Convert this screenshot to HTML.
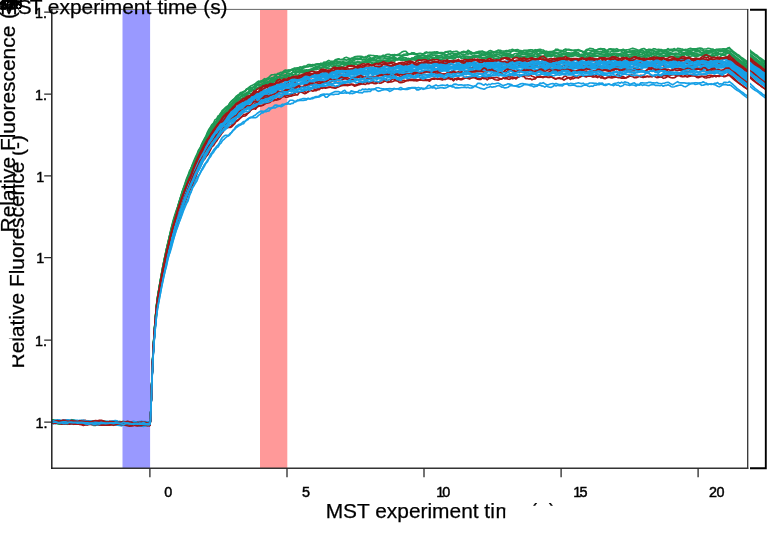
<!DOCTYPE html>
<html lang="en">
<head>
<meta charset="utf-8">
<title>MST traces</title>
<style>
html,body{margin:0;padding:0;background:#fff;}
body{width:768px;height:534px;overflow:hidden;}
svg{display:block;font-family:"Liberation Sans",sans-serif;}
.lbl{font-size:20.9px;fill:#000;stroke:#000;stroke-width:0.25px;}
.tick{font-size:14.4px;fill:#000;stroke:#000;stroke-width:0.45px;}
.c path{fill:none;stroke-width:1.65;stroke-linejoin:round;stroke-linecap:round;}
</style>
</head>
<body>
<svg width="768" height="534" viewBox="0 0 768 534">
<defs>
<clipPath id="cpMain"><rect x="52" y="9.5" width="695.5" height="458.5"/></clipPath>
<clipPath id="cpSeg"><rect x="750" y="9.5" width="15.3" height="458.5"/></clipPath>
<clipPath id="cpYl"><path d="M12.4 0H52V534H12.4V338.6H0V262H12.4Z"/></clipPath>
<clipPath id="cpXl"><path d="M0 490H768V505.8H505.3V534H0Z"/></clipPath>
<g id="curves" class="c">
<path d="M51.5,421.4 53.5,421.8 55.5,422.4 57.5,422.7 59.5,422.5 61.5,422.2 63.5,422.5 65.5,422.8 67.5,422.4 69.5,422.3 71.5,422.5 73.5,422.4 75.5,422.3 77.5,421.5 79.5,421.5 81.5,421.1 83.5,421.7 85.5,421.8 87.5,422.5 89.5,422.7 91.5,423.1 93.5,422.2 95.5,422.0 97.5,422.1 99.5,423.0 101.5,422.7 103.5,422.6 105.5,422.3 107.5,422.6 109.5,423.2 111.5,423.3 113.5,423.6 115.5,423.5 117.5,423.7 119.5,423.7 121.5,423.4 123.5,423.7 125.5,423.4 127.5,423.4 129.5,423.9 131.5,423.8 133.5,424.1 135.5,423.7 137.5,424.1 139.5,424.5 141.5,424.8 143.5,424.6 145.5,424.0 147.5,424.0 148.0,424.3 148.5,424.6 149.0,424.4 149.5,424.7 150.0,424.5 150.5,419.2 151.0,406.5 151.5,390.7 152.0,376.3 152.5,362.8 153.0,352.3 153.5,343.3 154.0,335.7 154.5,328.9 155.0,322.3 155.5,316.2 156.0,310.4 156.5,305.1 157.0,300.8 157.5,297.0 158.0,294.3 158.5,291.5 159.0,288.4 159.5,285.2 160.0,282.1 160.5,279.5 161.0,276.6 161.5,273.8 162.0,271.0 162.5,268.3 163.0,265.7 163.5,262.9 164.0,260.4 164.5,257.9 165.0,255.9 165.5,253.7 166.0,251.5 166.5,249.1 167.0,246.6 167.5,244.7 168.0,242.4 168.5,240.4 169.0,237.8 169.5,235.8 170.0,233.2 171.5,227.0 173.0,221.1 174.5,215.9 176.0,211.3 177.5,207.1 179.0,202.3 180.5,197.4 182.0,192.1 183.5,188.3 185.0,184.3 186.5,180.0 188.0,176.1 189.5,172.6 191.0,168.5 192.5,164.4 194.0,160.6 195.5,157.2 197.0,154.0 198.5,150.3 200.0,148.1 201.5,145.0 203.0,142.4 204.5,138.8 206.0,135.8 207.5,132.1 209.0,129.2 210.5,127.0 212.0,124.5 213.5,123.1 215.0,119.8 216.5,119.1 218.0,116.1 219.5,115.4 221.0,113.2 222.5,111.0 224.0,109.4 225.5,108.4 227.0,107.4 228.5,105.1 230.0,102.8 231.5,100.9 233.0,100.2 234.5,98.6 236.0,97.8 237.5,95.6 239.0,94.3 240.5,92.5 242.0,92.4 243.5,91.5 245.0,91.5 246.5,89.9 248.0,88.6 249.5,87.0 251.0,85.8 252.5,85.3 254.0,84.4 255.5,83.6 257.0,82.1 258.5,81.1 260.0,81.3 261.5,80.9 263.0,80.0 264.5,78.7 266.0,79.0 267.5,78.1 269.0,77.2 270.5,75.6 272.0,74.8 273.5,74.7 275.0,74.4 276.5,74.7 278.0,73.4 279.5,73.1 281.0,72.3 282.5,72.1 284.0,70.8 285.5,70.0 287.0,70.3 288.5,70.1 290.0,70.4 291.5,69.3 293.0,68.9 294.5,68.1 296.0,68.0 297.5,67.7 299.0,67.5 300.0,66.9 301.6,67.3 303.2,67.3 304.8,67.1 306.4,65.9 308.0,64.5 309.6,64.5 311.2,64.9 312.8,65.2 314.4,64.6 316.0,64.2 317.6,64.4 319.2,64.3 320.8,63.4 322.4,63.5 324.0,62.1 325.6,62.5 327.2,61.7 328.8,62.5 330.4,62.8 332.0,63.0 333.6,61.8 335.2,59.8 336.8,59.2 338.4,59.1 340.0,59.7 341.6,59.5 343.2,59.0 344.8,57.7 346.4,57.3 348.0,57.9 349.6,58.6 351.2,58.3 352.8,57.7 354.4,56.9 356.0,56.6 357.6,56.4 359.2,56.2 360.8,56.3 362.4,56.6 364.0,57.5 365.6,56.6 367.2,56.2 368.8,55.3 370.4,55.2 372.0,55.5 373.6,55.5 375.2,56.0 376.8,55.9 378.4,57.2 380.0,56.2 381.6,56.3 383.2,55.2 384.8,55.7 386.4,54.5 388.0,54.2 389.6,54.4 391.2,55.0 392.8,55.2 394.4,54.5 396.0,55.1 397.6,54.9 399.2,53.9 400.8,52.9 402.4,51.8 404.0,51.2 405.6,51.2 407.2,52.7 408.8,54.3 410.4,53.9 412.0,52.7 413.6,53.1 415.2,53.7 416.8,54.1 418.4,53.5 420.0,53.3 421.6,53.6 423.2,53.8 424.8,53.9 426.4,52.9 428.0,52.8 429.6,52.3 431.2,53.3 432.8,52.3 434.4,52.5 436.0,51.9 437.6,51.9 439.2,52.7 440.8,53.4 442.4,53.7 444.0,53.2 445.6,52.6 447.2,51.5 448.8,51.2 450.4,51.0 452.0,52.2 453.6,51.5 455.2,51.4 456.8,51.2 458.4,52.3 460.0,52.5 461.6,52.6 463.2,52.7 464.8,52.2 466.4,52.0 468.0,50.3 469.6,51.3 471.2,51.9 472.8,53.2 474.4,52.7 476.0,52.3 477.6,51.9 479.2,51.4 480.8,51.2 482.4,51.1 484.0,51.9 485.6,52.3 487.2,52.2 488.8,51.1 490.4,50.5 492.0,51.3 493.6,51.8 495.2,52.1 496.8,51.1 498.4,50.3 500.0,50.2 501.6,50.8 503.2,51.1 504.8,51.0 506.4,50.5 508.0,50.7 509.6,50.0 511.2,49.9 512.8,49.4 514.4,50.6 516.0,50.4 517.6,51.0 519.2,51.3 520.8,51.5 522.4,50.9 524.0,50.3 525.6,50.4 527.2,50.2 528.8,50.3 530.4,51.3 532.0,51.6 533.6,51.2 535.2,49.7 536.8,50.0 538.4,49.5 540.0,49.4 541.6,49.9 543.2,50.0 544.8,51.1 546.4,51.2 548.0,51.7 549.6,51.5 551.2,51.6 552.8,51.4 554.4,50.8 556.0,49.2 557.6,49.3 559.2,50.3 560.8,51.4 562.4,50.9 564.0,49.8 565.6,49.0 567.2,49.6 568.8,49.9 570.4,50.3 572.0,50.3 573.6,50.2 575.2,50.1 576.8,50.0 578.4,50.1 580.0,50.3 581.6,51.2 583.2,51.5 584.8,51.2 586.4,49.5 588.0,49.4 589.6,48.4 591.2,48.5 592.8,48.7 594.4,50.0 596.0,50.6 597.6,49.3 599.2,48.8 600.8,48.5 602.4,49.7 604.0,51.0 605.6,51.4 607.2,50.7 608.8,49.0 610.4,48.8 612.0,49.1 613.6,49.1 615.2,49.2 616.8,48.7 618.4,49.8 620.0,50.3 621.6,51.4 623.2,50.6 624.8,50.3 626.4,49.7 628.0,49.7 629.6,49.3 631.2,48.7 632.8,48.2 634.4,48.7 636.0,49.3 637.6,50.1 639.2,50.2 640.8,49.4 642.4,48.9 644.0,48.5 645.6,49.5 647.2,49.7 648.8,50.1 650.4,50.0 652.0,49.6 653.6,48.7 655.2,48.9 656.8,49.8 658.4,49.3 660.0,49.5 661.6,49.6 663.2,51.2 664.8,50.3 666.4,49.9 668.0,48.6 669.6,50.1 671.2,50.1 672.8,51.4 674.4,49.9 676.0,50.0 677.6,48.4 679.2,48.6 680.8,48.9 682.4,49.1 684.0,49.9 685.6,49.5 687.2,49.6 688.8,48.8 690.4,48.4 692.0,48.9 693.6,48.9 695.2,48.7 696.8,48.6 698.4,48.3 700.0,48.1 701.6,48.2 703.2,49.2 704.8,49.0 706.4,49.0 708.0,48.3 709.6,48.5 711.2,49.0 712.8,49.0 714.4,50.2 716.0,49.4 717.6,49.9 719.2,49.0 720.8,49.0 722.4,48.9 724.0,48.7 725.6,49.0 727.2,48.4 728.8,47.9 729.2,47.5 731.0,49.3 733.0,51.2 735.0,52.6 737.0,54.2 739.0,55.3 741.0,57.1 743.0,58.5 745.0,60.0 747.0,61.5" stroke="#1f9a55"/>
<path d="M51.5,421.7 53.5,421.8 55.5,421.8 57.5,422.3 59.5,421.8 61.5,421.7 63.5,420.9 65.5,421.9 67.5,422.3 69.5,423.0 71.5,422.4 73.5,422.6 75.5,422.6 77.5,423.3 79.5,422.9 81.5,422.4 83.5,421.5 85.5,421.4 87.5,422.2 89.5,422.9 91.5,423.1 93.5,422.4 95.5,422.0 97.5,422.9 99.5,422.4 101.5,422.8 103.5,421.9 105.5,423.3 107.5,422.8 109.5,423.1 111.5,422.3 113.5,422.4 115.5,423.0 117.5,423.8 119.5,424.1 121.5,423.3 123.5,422.4 125.5,422.5 127.5,422.8 129.5,423.5 131.5,423.6 133.5,423.3 135.5,423.3 137.5,423.4 139.5,424.2 141.5,424.9 143.5,425.0 145.5,424.3 147.5,423.7 148.0,423.5 148.5,423.5 149.0,423.5 149.5,423.4 150.0,424.0 150.5,418.8 151.0,406.5 151.5,390.9 152.0,376.3 152.5,362.9 153.0,352.4 153.5,343.5 154.0,335.8 154.5,328.8 155.0,322.3 155.5,316.3 156.0,310.5 156.5,305.4 157.0,300.9 157.5,297.2 158.0,294.1 158.5,291.2 159.0,288.5 159.5,285.4 160.0,282.4 160.5,279.4 161.0,276.6 161.5,273.8 162.0,271.2 162.5,268.4 163.0,265.9 163.5,263.4 164.0,261.1 164.5,258.5 165.0,256.2 165.5,253.5 166.0,251.3 166.5,249.0 167.0,247.2 167.5,244.9 168.0,242.6 168.5,240.3 169.0,238.3 169.5,236.5 170.0,234.6 171.5,228.1 173.0,222.5 174.5,217.3 176.0,212.9 177.5,207.9 179.0,202.1 180.5,197.5 182.0,192.8 183.5,188.0 185.0,183.6 186.5,178.8 188.0,175.4 189.5,171.0 191.0,168.6 192.5,165.4 194.0,162.3 195.5,159.1 197.0,156.7 198.5,153.2 200.0,149.1 201.5,144.6 203.0,141.3 204.5,138.8 206.0,136.8 207.5,134.5 209.0,132.2 210.5,129.1 212.0,126.6 213.5,124.1 215.0,122.6 216.5,121.0 218.0,118.7 219.5,116.3 221.0,114.0 222.5,111.5 224.0,109.1 225.5,107.5 227.0,106.3 228.5,105.7 230.0,103.0 231.5,101.4 233.0,99.6 234.5,98.6 236.0,96.4 237.5,95.3 239.0,94.9 240.5,95.0 242.0,93.7 243.5,92.2 245.0,91.3 246.5,89.2 248.0,88.2 249.5,87.1 251.0,87.9 252.5,87.8 254.0,87.3 255.5,86.2 257.0,84.7 258.5,83.7 260.0,82.6 261.5,81.6 263.0,81.0 264.5,81.5 266.0,80.7 267.5,79.6 269.0,78.1 270.5,78.2 272.0,77.6 273.5,77.6 275.0,75.9 276.5,75.2 278.0,73.9 279.5,74.2 281.0,74.3 282.5,73.1 284.0,71.8 285.5,71.0 287.0,70.9 288.5,70.2 290.0,70.1 291.5,70.2 293.0,70.8 294.5,69.6 296.0,69.5 297.5,68.7 299.0,69.1 300.0,67.9 301.6,67.2 303.2,66.4 304.8,66.1 306.4,66.5 308.0,66.2 309.6,65.7 311.2,65.1 312.8,64.5 314.4,65.0 316.0,64.4 317.6,64.0 319.2,63.9 320.8,65.0 322.4,65.9 324.0,65.1 325.6,63.8 327.2,63.3 328.8,63.0 330.4,62.2 332.0,61.2 333.6,61.3 335.2,61.1 336.8,60.0 338.4,58.9 340.0,59.4 341.6,59.6 343.2,60.0 344.8,59.6 346.4,60.1 348.0,59.8 349.6,59.8 351.2,58.8 352.8,58.6 354.4,57.7 356.0,58.5 357.6,58.5 359.2,58.5 360.8,57.6 362.4,57.4 364.0,57.9 365.6,57.2 367.2,56.6 368.8,55.9 370.4,57.8 372.0,58.7 373.6,58.7 375.2,57.6 376.8,58.0 378.4,57.9 380.0,57.2 381.6,56.7 383.2,56.9 384.8,57.3 386.4,56.3 388.0,56.9 389.6,57.3 391.2,57.7 392.8,57.0 394.4,55.1 396.0,55.0 397.6,54.5 399.2,55.6 400.8,55.5 402.4,55.4 404.0,54.2 405.6,54.0 407.2,53.7 408.8,54.3 410.4,53.7 412.0,53.9 413.6,52.8 415.2,53.6 416.8,53.8 418.4,55.4 420.0,55.7 421.6,55.6 423.2,54.1 424.8,52.6 426.4,51.9 428.0,52.5 429.6,52.9 431.2,52.4 432.8,52.8 434.4,51.9 436.0,53.0 437.6,52.7 439.2,53.3 440.8,53.0 442.4,52.8 444.0,52.5 445.6,51.7 447.2,51.9 448.8,53.1 450.4,54.8 452.0,55.4 453.6,54.8 455.2,53.5 456.8,53.5 458.4,53.1 460.0,53.3 461.6,52.4 463.2,52.4 464.8,52.2 466.4,52.3 468.0,51.7 469.6,51.6 471.2,52.8 472.8,53.2 474.4,53.3 476.0,52.4 477.6,52.7 479.2,52.2 480.8,51.8 482.4,51.9 484.0,52.6 485.6,52.7 487.2,53.0 488.8,52.5 490.4,52.4 492.0,51.4 493.6,52.4 495.2,51.4 496.8,51.3 498.4,50.3 500.0,51.5 501.6,52.1 503.2,53.0 504.8,51.9 506.4,51.9 508.0,51.1 509.6,51.5 511.2,51.4 512.8,51.1 514.4,50.3 516.0,49.9 517.6,49.6 519.2,50.2 520.8,50.6 522.4,51.4 524.0,52.5 525.6,52.2 527.2,51.3 528.8,50.1 530.4,49.7 532.0,49.9 533.6,50.4 535.2,50.6 536.8,50.2 538.4,50.3 540.0,50.5 541.6,51.7 543.2,51.3 544.8,51.7 546.4,51.5 548.0,52.1 549.6,51.9 551.2,52.1 552.8,51.7 554.4,50.7 556.0,50.4 557.6,50.1 559.2,50.9 560.8,50.3 562.4,51.2 564.0,51.2 565.6,51.2 567.2,49.6 568.8,49.4 570.4,49.9 572.0,50.4 573.6,50.5 575.2,50.3 576.8,50.9 578.4,50.5 580.0,50.7 581.6,50.9 583.2,52.5 584.8,52.0 586.4,51.3 588.0,49.6 589.6,50.5 591.2,50.2 592.8,50.3 594.4,49.9 596.0,50.0 597.6,49.7 599.2,49.5 600.8,49.0 602.4,48.7 604.0,48.7 605.6,49.8 607.2,50.4 608.8,49.8 610.4,49.4 612.0,49.9 613.6,51.0 615.2,51.2 616.8,50.4 618.4,50.4 620.0,50.2 621.6,50.0 623.2,49.3 624.8,50.3 626.4,51.0 628.0,51.9 629.6,51.0 631.2,51.3 632.8,50.4 634.4,50.6 636.0,51.3 637.6,52.0 639.2,51.8 640.8,50.6 642.4,50.3 644.0,51.2 645.6,51.0 647.2,49.9 648.8,49.2 650.4,49.4 652.0,50.3 653.6,51.1 655.2,51.2 656.8,51.6 658.4,50.4 660.0,50.7 661.6,51.3 663.2,52.2 664.8,51.9 666.4,50.9 668.0,51.4 669.6,50.8 671.2,50.7 672.8,50.0 674.4,50.8 676.0,50.7 677.6,50.6 679.2,50.1 680.8,50.3 682.4,50.1 684.0,49.7 685.6,49.6 687.2,50.1 688.8,50.2 690.4,50.1 692.0,50.0 693.6,49.9 695.2,50.1 696.8,49.2 698.4,50.3 700.0,51.4 701.6,52.9 703.2,52.2 704.8,51.4 706.4,50.5 708.0,50.6 709.6,51.0 711.2,50.3 712.8,50.8 714.4,50.0 716.0,51.3 717.6,50.9 719.2,50.6 720.8,50.0 722.4,50.1 724.0,50.1 725.6,49.9 727.2,49.1 728.8,47.9 729.2,48.0 731.0,50.2 733.0,52.2 735.0,53.6 737.0,55.2 739.0,56.7 741.0,58.1 743.0,59.4 745.0,61.3 747.0,62.7" stroke="#1f9a55"/>
<path d="M51.5,420.9 53.5,421.8 55.5,421.8 57.5,421.7 59.5,421.5 61.5,421.5 63.5,421.5 65.5,421.3 67.5,421.4 69.5,421.1 71.5,421.2 73.5,421.5 75.5,421.5 77.5,421.3 79.5,421.8 81.5,422.1 83.5,422.6 85.5,422.6 87.5,422.8 89.5,423.3 91.5,422.7 93.5,422.8 95.5,421.9 97.5,422.9 99.5,423.2 101.5,422.7 103.5,421.8 105.5,421.5 107.5,422.4 109.5,423.1 111.5,422.9 113.5,422.8 115.5,422.8 117.5,422.8 119.5,423.1 121.5,422.1 123.5,422.4 125.5,421.7 127.5,422.9 129.5,422.6 131.5,422.7 133.5,422.6 135.5,422.4 137.5,422.4 139.5,421.8 141.5,422.1 143.5,422.6 145.5,423.6 147.5,423.6 148.0,423.8 148.5,423.4 149.0,423.5 149.5,423.3 150.0,423.4 150.5,418.6 151.0,406.2 151.5,390.7 152.0,376.3 152.5,363.1 153.0,352.8 153.5,343.9 154.0,336.2 154.5,328.9 155.0,322.6 155.5,316.7 156.0,311.1 156.5,306.2 157.0,301.8 157.5,298.5 158.0,295.1 158.5,292.0 159.0,288.7 159.5,285.6 160.0,282.8 160.5,280.0 161.0,277.1 161.5,274.0 162.0,271.3 162.5,268.3 163.0,266.0 163.5,263.4 164.0,261.1 164.5,258.6 165.0,256.4 165.5,253.9 166.0,251.2 166.5,248.7 167.0,246.3 167.5,244.2 168.0,242.6 168.5,240.7 169.0,239.0 169.5,236.2 170.0,234.5 171.5,228.3 173.0,223.0 174.5,217.7 176.0,213.2 177.5,208.3 179.0,203.4 180.5,197.8 182.0,193.4 183.5,188.9 185.0,185.5 186.5,181.2 188.0,178.1 189.5,173.0 191.0,169.1 192.5,165.1 194.0,162.3 195.5,158.6 197.0,154.7 198.5,151.0 200.0,148.2 201.5,146.5 203.0,144.8 204.5,141.3 206.0,136.9 207.5,133.4 209.0,131.9 210.5,129.4 212.0,126.8 213.5,124.4 215.0,123.0 216.5,121.0 218.0,118.0 219.5,114.8 221.0,112.7 222.5,110.3 224.0,109.7 225.5,108.0 227.0,107.7 228.5,106.7 230.0,106.1 231.5,103.8 233.0,101.9 234.5,100.6 236.0,99.5 237.5,97.3 239.0,95.5 240.5,93.9 242.0,93.9 243.5,91.7 245.0,90.9 246.5,89.0 248.0,89.1 249.5,88.7 251.0,88.1 252.5,87.2 254.0,86.8 255.5,84.7 257.0,84.0 258.5,82.3 260.0,82.6 261.5,82.0 263.0,81.2 264.5,80.1 266.0,79.7 267.5,79.6 269.0,79.0 270.5,78.9 272.0,79.3 273.5,78.3 275.0,76.9 276.5,76.4 278.0,77.0 279.5,76.4 281.0,74.5 282.5,73.4 284.0,72.7 285.5,72.0 287.0,72.2 288.5,71.6 290.0,71.2 291.5,69.8 293.0,69.6 294.5,69.0 296.0,69.1 297.5,69.2 299.0,69.4 300.0,69.5 301.6,68.8 303.2,68.3 304.8,67.6 306.4,66.9 308.0,66.9 309.6,66.1 311.2,66.6 312.8,65.9 314.4,65.7 316.0,64.5 317.6,63.9 319.2,64.0 320.8,63.6 322.4,64.2 324.0,63.5 325.6,62.5 327.2,61.3 328.8,60.4 330.4,61.3 332.0,61.9 333.6,63.0 335.2,62.1 336.8,61.0 338.4,61.3 340.0,61.9 341.6,62.1 343.2,61.5 344.8,62.4 346.4,62.8 348.0,62.1 349.6,60.9 351.2,60.4 352.8,59.9 354.4,59.0 356.0,58.5 357.6,58.2 359.2,58.5 360.8,58.4 362.4,59.9 364.0,59.3 365.6,59.1 367.2,57.7 368.8,58.2 370.4,58.6 372.0,58.3 373.6,57.6 375.2,56.1 376.8,55.8 378.4,56.3 380.0,57.0 381.6,56.8 383.2,56.3 384.8,56.1 386.4,56.8 388.0,56.6 389.6,56.3 391.2,55.1 392.8,54.7 394.4,55.5 396.0,55.2 397.6,55.5 399.2,54.7 400.8,55.5 402.4,55.2 404.0,55.0 405.6,55.1 407.2,55.3 408.8,54.4 410.4,54.2 412.0,53.8 413.6,54.3 415.2,54.4 416.8,55.1 418.4,55.7 420.0,55.3 421.6,55.4 423.2,55.4 424.8,56.2 426.4,56.3 428.0,55.6 429.6,54.9 431.2,54.6 432.8,53.9 434.4,54.0 436.0,53.3 437.6,53.7 439.2,52.7 440.8,52.5 442.4,52.6 444.0,53.8 445.6,54.7 447.2,54.6 448.8,54.0 450.4,53.1 452.0,53.3 453.6,53.2 455.2,53.9 456.8,54.5 458.4,54.5 460.0,53.5 461.6,52.1 463.2,51.4 464.8,51.5 466.4,52.5 468.0,53.3 469.6,53.1 471.2,52.7 472.8,53.2 474.4,53.8 476.0,53.1 477.6,52.2 479.2,52.5 480.8,53.1 482.4,53.8 484.0,54.3 485.6,54.5 487.2,54.6 488.8,54.3 490.4,52.9 492.0,52.1 493.6,51.9 495.2,52.5 496.8,52.9 498.4,52.6 500.0,52.3 501.6,52.5 503.2,53.0 504.8,53.5 506.4,53.3 508.0,53.4 509.6,53.5 511.2,51.8 512.8,50.9 514.4,50.5 516.0,51.2 517.6,51.6 519.2,52.4 520.8,52.6 522.4,51.9 524.0,52.3 525.6,52.3 527.2,52.2 528.8,51.3 530.4,51.7 532.0,52.0 533.6,52.2 535.2,51.8 536.8,51.6 538.4,51.3 540.0,51.9 541.6,52.0 543.2,52.1 544.8,51.7 546.4,53.3 548.0,52.8 549.6,53.5 551.2,52.1 552.8,52.4 554.4,52.0 556.0,52.5 557.6,53.1 559.2,52.9 560.8,52.2 562.4,51.3 564.0,51.4 565.6,51.9 567.2,52.9 568.8,52.8 570.4,53.0 572.0,53.1 573.6,52.9 575.2,51.7 576.8,50.3 578.4,49.5 580.0,51.0 581.6,51.2 583.2,52.5 584.8,52.0 586.4,53.2 588.0,53.1 589.6,52.8 591.2,51.8 592.8,51.3 594.4,51.5 596.0,51.3 597.6,51.2 599.2,51.9 600.8,51.3 602.4,51.5 604.0,50.2 605.6,51.1 607.2,51.4 608.8,51.8 610.4,52.1 612.0,50.9 613.6,51.5 615.2,50.8 616.8,51.8 618.4,51.4 620.0,50.4 621.6,49.7 623.2,49.7 624.8,51.7 626.4,52.3 628.0,52.3 629.6,50.8 631.2,51.3 632.8,52.1 634.4,52.8 636.0,52.0 637.6,50.3 639.2,50.7 640.8,52.1 642.4,53.3 644.0,53.4 645.6,52.4 647.2,51.5 648.8,51.6 650.4,50.7 652.0,51.1 653.6,50.5 655.2,51.6 656.8,51.9 658.4,51.9 660.0,51.1 661.6,50.2 663.2,50.1 664.8,50.1 666.4,50.1 668.0,49.4 669.6,49.5 671.2,49.2 672.8,49.2 674.4,48.6 676.0,49.6 677.6,50.5 679.2,52.3 680.8,51.4 682.4,50.9 684.0,50.3 685.6,51.0 687.2,51.1 688.8,51.5 690.4,51.4 692.0,51.0 693.6,49.5 695.2,49.9 696.8,50.6 698.4,50.5 700.0,49.9 701.6,50.0 703.2,50.9 704.8,51.1 706.4,51.1 708.0,51.1 709.6,50.6 711.2,50.1 712.8,50.0 714.4,50.6 716.0,49.7 717.6,49.3 719.2,50.0 720.8,51.8 722.4,50.7 724.0,51.3 725.6,49.7 727.2,51.0 728.8,50.1 729.2,51.2 731.0,51.4 733.0,52.6 735.0,54.1 737.0,55.5 739.0,56.8 741.0,58.7 743.0,60.5 745.0,62.9 747.0,63.8" stroke="#1f9a55"/>
<path d="M51.5,419.8 53.5,419.9 55.5,420.4 57.5,420.9 59.5,420.9 61.5,421.9 63.5,422.5 65.5,422.5 67.5,422.3 69.5,421.7 71.5,421.6 73.5,421.5 75.5,421.4 77.5,421.5 79.5,420.8 81.5,421.3 83.5,422.0 85.5,422.2 87.5,422.3 89.5,421.4 91.5,421.4 93.5,420.9 95.5,421.7 97.5,423.0 99.5,423.6 101.5,422.9 103.5,422.4 105.5,422.1 107.5,422.7 109.5,422.6 111.5,422.9 113.5,422.8 115.5,422.6 117.5,422.4 119.5,421.6 121.5,421.7 123.5,421.4 125.5,422.0 127.5,421.8 129.5,422.4 131.5,422.7 133.5,422.5 135.5,422.3 137.5,421.8 139.5,422.6 141.5,423.5 143.5,424.2 145.5,423.8 147.5,423.8 148.0,423.0 148.5,423.6 149.0,422.9 149.5,422.5 150.0,423.1 150.5,418.7 151.0,406.7 151.5,391.1 152.0,376.5 152.5,363.6 153.0,352.9 153.5,344.0 154.0,336.3 154.5,329.5 155.0,323.4 155.5,317.5 156.0,312.2 156.5,306.8 157.0,302.4 157.5,298.1 158.0,294.9 158.5,292.1 159.0,289.3 159.5,286.6 160.0,283.4 160.5,280.6 161.0,277.6 161.5,274.8 162.0,272.2 162.5,269.7 163.0,267.3 163.5,264.8 164.0,262.0 164.5,259.5 165.0,257.2 165.5,255.2 166.0,253.4 166.5,251.3 167.0,248.9 167.5,246.1 168.0,243.6 168.5,241.3 169.0,239.0 169.5,237.0 170.0,235.1 171.5,229.7 173.0,224.1 174.5,218.8 176.0,213.0 177.5,208.7 179.0,204.1 180.5,200.6 182.0,195.9 183.5,192.1 185.0,187.1 186.5,183.0 188.0,179.7 189.5,175.5 191.0,172.0 192.5,167.9 194.0,165.2 195.5,161.5 197.0,158.0 198.5,154.2 200.0,150.9 201.5,146.8 203.0,143.8 204.5,140.4 206.0,138.0 207.5,135.8 209.0,133.7 210.5,130.6 212.0,129.1 213.5,127.1 215.0,126.0 216.5,122.7 218.0,120.0 219.5,117.9 221.0,116.4 222.5,113.8 224.0,112.1 225.5,111.7 227.0,110.0 228.5,108.5 230.0,105.7 231.5,105.2 233.0,103.9 234.5,101.8 236.0,100.7 237.5,99.4 239.0,98.7 240.5,97.3 242.0,95.5 243.5,94.2 245.0,94.2 246.5,92.6 248.0,92.3 249.5,89.9 251.0,89.8 252.5,88.4 254.0,86.9 255.5,85.7 257.0,84.4 258.5,84.7 260.0,84.7 261.5,83.9 263.0,82.9 264.5,82.1 266.0,82.0 267.5,82.7 269.0,81.5 270.5,80.4 272.0,78.9 273.5,78.8 275.0,79.1 276.5,78.6 278.0,77.5 279.5,76.4 281.0,75.6 282.5,76.0 284.0,75.6 285.5,74.8 287.0,73.2 288.5,73.1 290.0,73.5 291.5,73.3 293.0,72.1 294.5,71.4 296.0,70.2 297.5,69.5 299.0,69.5 300.0,69.9 301.6,70.4 303.2,70.2 304.8,70.4 306.4,69.9 308.0,70.0 309.6,69.6 311.2,69.1 312.8,68.1 314.4,67.6 316.0,67.1 317.6,66.4 319.2,65.9 320.8,65.0 322.4,64.6 324.0,64.3 325.6,64.8 327.2,63.8 328.8,63.5 330.4,63.4 332.0,64.1 333.6,63.4 335.2,63.6 336.8,62.7 338.4,62.9 340.0,63.0 341.6,63.1 343.2,62.7 344.8,62.4 346.4,62.4 348.0,62.3 349.6,61.7 351.2,62.2 352.8,61.1 354.4,60.4 356.0,59.2 357.6,59.6 359.2,59.4 360.8,59.3 362.4,59.9 364.0,59.7 365.6,60.0 367.2,59.9 368.8,59.9 370.4,59.7 372.0,60.2 373.6,60.6 375.2,60.1 376.8,59.1 378.4,58.4 380.0,58.7 381.6,59.0 383.2,59.0 384.8,58.6 386.4,58.6 388.0,58.7 389.6,58.8 391.2,57.6 392.8,57.3 394.4,56.9 396.0,58.3 397.6,58.5 399.2,58.4 400.8,56.9 402.4,56.9 404.0,57.4 405.6,57.7 407.2,58.7 408.8,58.4 410.4,59.0 412.0,58.0 413.6,58.1 415.2,56.6 416.8,56.3 418.4,55.9 420.0,56.5 421.6,55.4 423.2,55.8 424.8,55.6 426.4,56.4 428.0,55.8 429.6,55.8 431.2,56.2 432.8,55.6 434.4,55.2 436.0,55.1 437.6,55.7 439.2,55.9 440.8,55.4 442.4,54.9 444.0,55.0 445.6,55.8 447.2,55.7 448.8,56.4 450.4,56.2 452.0,56.4 453.6,56.0 455.2,54.8 456.8,54.2 458.4,53.1 460.0,53.6 461.6,54.2 463.2,54.5 464.8,54.8 466.4,53.8 468.0,54.3 469.6,53.5 471.2,54.2 472.8,53.7 474.4,53.8 476.0,53.4 477.6,53.1 479.2,53.6 480.8,54.5 482.4,55.3 484.0,54.7 485.6,54.0 487.2,53.3 488.8,54.0 490.4,53.3 492.0,54.3 493.6,53.8 495.2,54.4 496.8,54.0 498.4,54.7 500.0,55.2 501.6,55.5 503.2,55.1 504.8,55.5 506.4,55.5 508.0,55.4 509.6,55.5 511.2,54.9 512.8,55.0 514.4,53.8 516.0,53.6 517.6,53.9 519.2,53.7 520.8,54.1 522.4,53.9 524.0,54.6 525.6,53.2 527.2,53.0 528.8,53.1 530.4,53.8 532.0,53.9 533.6,52.4 535.2,53.1 536.8,52.7 538.4,54.3 540.0,53.0 541.6,53.7 543.2,53.1 544.8,54.4 546.4,53.6 548.0,53.4 549.6,54.0 551.2,54.1 552.8,54.0 554.4,52.8 556.0,52.7 557.6,53.6 559.2,54.5 560.8,54.7 562.4,53.2 564.0,52.9 565.6,53.8 567.2,55.1 568.8,55.0 570.4,54.1 572.0,53.6 573.6,52.3 575.2,52.0 576.8,52.6 578.4,52.9 580.0,54.7 581.6,54.2 583.2,54.3 584.8,53.5 586.4,54.3 588.0,54.9 589.6,53.9 591.2,53.2 592.8,53.6 594.4,53.9 596.0,53.4 597.6,53.2 599.2,53.5 600.8,53.3 602.4,52.6 604.0,52.2 605.6,52.8 607.2,53.1 608.8,54.0 610.4,54.2 612.0,53.4 613.6,53.0 615.2,53.1 616.8,54.1 618.4,54.4 620.0,53.6 621.6,52.9 623.2,52.9 624.8,52.6 626.4,52.0 628.0,52.1 629.6,52.2 631.2,53.1 632.8,51.9 634.4,51.6 636.0,51.2 637.6,51.7 639.2,52.5 640.8,51.9 642.4,52.5 644.0,51.7 645.6,52.3 647.2,52.3 648.8,52.8 650.4,52.6 652.0,53.1 653.6,52.7 655.2,53.6 656.8,52.8 658.4,53.9 660.0,53.5 661.6,53.9 663.2,52.9 664.8,53.6 666.4,52.8 668.0,52.9 669.6,53.3 671.2,53.8 672.8,54.1 674.4,54.2 676.0,54.2 677.6,53.8 679.2,53.0 680.8,52.3 682.4,53.2 684.0,53.4 685.6,53.7 687.2,52.9 688.8,52.3 690.4,52.6 692.0,52.4 693.6,52.6 695.2,51.6 696.8,51.9 698.4,51.4 700.0,52.2 701.6,52.6 703.2,52.2 704.8,52.6 706.4,52.4 708.0,52.6 709.6,51.7 711.2,51.2 712.8,51.7 714.4,51.9 716.0,52.5 717.6,52.8 719.2,53.8 720.8,54.5 722.4,53.6 724.0,52.3 725.6,51.7 727.2,51.8 728.8,52.7 729.2,52.2 731.0,53.3 733.0,54.8 735.0,56.5 737.0,58.0 739.0,59.4 741.0,60.9 743.0,62.4 745.0,64.1 747.0,65.5" stroke="#1f9a55"/>
<path d="M51.5,422.9 53.5,422.0 55.5,422.0 57.5,423.2 59.5,423.6 61.5,424.1 63.5,423.0 65.5,423.1 67.5,423.1 69.5,424.1 71.5,423.7 73.5,423.8 75.5,423.3 77.5,423.2 79.5,423.0 81.5,422.9 83.5,422.5 85.5,422.7 87.5,423.0 89.5,423.7 91.5,423.1 93.5,423.5 95.5,423.8 97.5,424.6 99.5,424.6 101.5,424.4 103.5,424.4 105.5,423.8 107.5,424.0 109.5,423.8 111.5,423.9 113.5,424.3 115.5,424.4 117.5,424.4 119.5,424.0 121.5,424.1 123.5,423.9 125.5,423.9 127.5,423.8 129.5,423.9 131.5,424.1 133.5,423.9 135.5,424.9 137.5,425.4 139.5,425.8 141.5,425.1 143.5,425.5 145.5,425.5 147.5,425.5 148.0,424.9 148.5,424.9 149.0,425.4 149.5,425.3 150.0,425.2 150.5,419.5 151.0,407.0 151.5,391.1 152.0,377.1 152.5,363.8 153.0,353.6 153.5,344.6 154.0,337.0 154.5,329.9 155.0,323.3 155.5,317.1 156.0,311.7 156.5,306.6 157.0,302.3 157.5,298.6 158.0,295.4 158.5,292.4 159.0,289.6 159.5,286.9 160.0,283.8 160.5,280.9 161.0,277.8 161.5,275.4 162.0,272.6 162.5,270.0 163.0,267.2 163.5,264.9 164.0,262.5 164.5,260.2 165.0,257.7 165.5,255.3 166.0,252.8 166.5,250.5 167.0,248.4 167.5,246.5 168.0,244.5 168.5,242.6 169.0,240.3 169.5,237.8 170.0,235.9 171.5,230.7 173.0,225.2 174.5,219.0 176.0,213.2 177.5,208.3 179.0,203.3 180.5,198.9 182.0,194.1 183.5,189.9 185.0,186.0 186.5,182.2 188.0,178.8 189.5,174.9 191.0,171.9 192.5,168.2 194.0,164.4 195.5,160.1 197.0,157.8 198.5,154.9 200.0,151.6 201.5,147.7 203.0,144.8 204.5,142.7 206.0,140.8 207.5,138.5 209.0,135.4 210.5,132.0 212.0,128.3 213.5,126.4 215.0,124.3 216.5,124.1 218.0,121.9 219.5,118.9 221.0,115.3 222.5,113.5 224.0,112.1 225.5,110.4 227.0,108.5 228.5,107.7 230.0,106.6 231.5,104.9 233.0,103.7 234.5,102.2 236.0,101.1 237.5,98.7 239.0,97.4 240.5,96.8 242.0,95.6 243.5,94.8 245.0,93.8 246.5,93.4 248.0,92.6 249.5,90.7 251.0,90.6 252.5,90.1 254.0,89.9 255.5,87.6 257.0,85.7 258.5,85.3 260.0,86.2 261.5,86.1 263.0,85.5 264.5,83.7 266.0,82.8 267.5,81.5 269.0,81.3 270.5,80.1 272.0,79.9 273.5,79.8 275.0,79.4 276.5,77.7 278.0,76.7 279.5,76.4 281.0,75.4 282.5,75.1 284.0,75.0 285.5,75.4 287.0,75.6 288.5,75.1 290.0,74.6 291.5,73.2 293.0,72.2 294.5,71.7 296.0,71.5 297.5,71.3 299.0,71.1 300.0,71.5 301.6,71.8 303.2,72.0 304.8,71.1 306.4,70.6 308.0,70.5 309.6,69.9 311.2,70.3 312.8,68.8 314.4,68.3 316.0,66.4 317.6,66.4 319.2,66.5 320.8,67.6 322.4,67.2 324.0,66.7 325.6,65.5 327.2,65.2 328.8,64.4 330.4,64.3 332.0,63.6 333.6,64.0 335.2,63.8 336.8,64.1 338.4,63.3 340.0,62.4 341.6,63.4 343.2,63.0 344.8,64.3 346.4,63.5 348.0,63.8 349.6,62.2 351.2,62.3 352.8,63.1 354.4,63.1 356.0,62.2 357.6,61.7 359.2,62.2 360.8,63.2 362.4,62.2 364.0,62.2 365.6,60.4 367.2,61.6 368.8,60.8 370.4,60.2 372.0,59.0 373.6,59.1 375.2,61.0 376.8,60.8 378.4,60.7 380.0,59.9 381.6,60.8 383.2,60.6 384.8,60.7 386.4,60.1 388.0,59.9 389.6,59.3 391.2,58.9 392.8,58.5 394.4,59.0 396.0,58.2 397.6,59.1 399.2,58.9 400.8,59.4 402.4,58.4 404.0,57.7 405.6,57.9 407.2,58.6 408.8,58.7 410.4,58.9 412.0,58.2 413.6,58.1 415.2,56.8 416.8,57.3 418.4,57.2 420.0,57.7 421.6,57.8 423.2,58.0 424.8,56.8 426.4,56.2 428.0,55.0 429.6,56.9 431.2,58.0 432.8,58.4 434.4,57.9 436.0,56.5 437.6,56.8 439.2,57.1 440.8,57.8 442.4,57.0 444.0,57.4 445.6,56.3 447.2,56.9 448.8,56.6 450.4,57.4 452.0,56.7 453.6,55.8 455.2,55.1 456.8,55.5 458.4,56.4 460.0,55.9 461.6,56.2 463.2,55.8 464.8,56.7 466.4,56.7 468.0,57.1 469.6,57.0 471.2,57.2 472.8,56.6 474.4,57.3 476.0,55.9 477.6,56.2 479.2,55.1 480.8,55.9 482.4,54.8 484.0,53.9 485.6,53.9 487.2,54.0 488.8,55.1 490.4,54.5 492.0,55.5 493.6,55.4 495.2,56.0 496.8,54.9 498.4,54.3 500.0,53.9 501.6,53.9 503.2,54.3 504.8,54.7 506.4,54.3 508.0,54.1 509.6,53.7 511.2,54.5 512.8,55.5 514.4,56.2 516.0,56.0 517.6,54.2 519.2,53.2 520.8,52.5 522.4,53.7 524.0,54.0 525.6,54.8 527.2,54.1 528.8,54.5 530.4,55.1 532.0,55.1 533.6,54.9 535.2,53.8 536.8,54.5 538.4,54.2 540.0,54.0 541.6,52.8 543.2,52.6 544.8,53.4 546.4,55.3 548.0,55.5 549.6,55.7 551.2,54.6 552.8,54.5 554.4,53.9 556.0,53.6 557.6,53.8 559.2,54.9 560.8,54.1 562.4,54.6 564.0,53.8 565.6,54.4 567.2,54.3 568.8,54.5 570.4,54.9 572.0,55.0 573.6,54.9 575.2,53.8 576.8,54.3 578.4,55.1 580.0,56.6 581.6,56.3 583.2,54.5 584.8,53.9 586.4,53.0 588.0,53.4 589.6,54.0 591.2,53.9 592.8,54.2 594.4,52.7 596.0,53.0 597.6,53.1 599.2,53.7 600.8,53.4 602.4,54.3 604.0,54.0 605.6,53.9 607.2,52.5 608.8,53.7 610.4,55.3 612.0,55.8 613.6,54.9 615.2,53.6 616.8,54.0 618.4,53.9 620.0,54.8 621.6,54.9 623.2,55.4 624.8,55.0 626.4,54.7 628.0,55.4 629.6,54.5 631.2,54.7 632.8,53.8 634.4,53.9 636.0,53.4 637.6,53.4 639.2,53.3 640.8,52.5 642.4,52.1 644.0,53.3 645.6,55.1 647.2,55.8 648.8,55.7 650.4,54.5 652.0,54.1 653.6,53.7 655.2,53.4 656.8,52.9 658.4,52.8 660.0,53.2 661.6,53.1 663.2,53.3 664.8,53.3 666.4,54.3 668.0,54.1 669.6,54.1 671.2,53.6 672.8,53.5 674.4,53.4 676.0,53.1 677.6,53.5 679.2,54.2 680.8,55.0 682.4,53.8 684.0,53.3 685.6,52.4 687.2,53.3 688.8,53.3 690.4,53.2 692.0,53.5 693.6,53.8 695.2,53.5 696.8,53.8 698.4,54.2 700.0,54.5 701.6,54.2 703.2,53.3 704.8,54.2 706.4,53.7 708.0,53.6 709.6,52.9 711.2,52.6 712.8,53.1 714.4,53.3 716.0,53.7 717.6,53.3 719.2,51.5 720.8,51.5 722.4,50.6 724.0,52.3 725.6,52.5 727.2,53.3 728.8,52.8 729.2,52.2 731.0,53.6 733.0,55.1 735.0,56.6 737.0,58.1 739.0,59.9 741.0,61.6 743.0,63.5 745.0,64.8 747.0,66.3" stroke="#1f9a55"/>
<path d="M51.5,423.0 53.5,423.3 55.5,423.2 57.5,423.7 59.5,424.1 61.5,423.5 63.5,423.9 65.5,423.9 67.5,424.3 69.5,423.5 71.5,422.9 73.5,422.3 75.5,422.5 77.5,423.2 79.5,423.6 81.5,423.1 83.5,422.5 85.5,422.5 87.5,422.5 89.5,423.3 91.5,423.9 93.5,425.4 95.5,425.4 97.5,424.8 99.5,423.6 101.5,422.2 103.5,422.2 105.5,422.5 107.5,424.0 109.5,424.5 111.5,424.8 113.5,424.6 115.5,424.6 117.5,425.0 119.5,424.6 121.5,424.2 123.5,423.3 125.5,424.3 127.5,424.9 129.5,425.7 131.5,424.8 133.5,424.4 135.5,424.1 137.5,424.6 139.5,424.5 141.5,424.8 143.5,424.7 145.5,425.1 147.5,425.0 148.0,425.1 148.5,424.8 149.0,424.5 149.5,424.9 150.0,424.9 150.5,419.5 151.0,406.7 151.5,391.2 152.0,376.8 152.5,363.6 153.0,353.6 153.5,344.7 154.0,336.8 154.5,329.6 155.0,323.1 155.5,317.4 156.0,311.8 156.5,306.8 157.0,302.6 157.5,299.2 158.0,295.8 158.5,293.0 159.0,289.9 159.5,287.0 160.0,284.1 160.5,281.3 161.0,278.5 161.5,275.5 162.0,272.8 162.5,270.3 163.0,267.9 163.5,265.2 164.0,262.8 164.5,260.8 165.0,258.5 165.5,256.2 166.0,253.5 166.5,250.8 167.0,248.5 167.5,246.1 168.0,244.8 168.5,242.6 169.0,240.5 169.5,238.1 170.0,236.2 171.5,230.4 173.0,224.8 174.5,219.0 176.0,213.9 177.5,209.2 179.0,205.6 180.5,201.4 182.0,196.8 183.5,192.3 185.0,188.3 186.5,184.9 188.0,181.0 189.5,176.7 191.0,172.4 192.5,168.3 194.0,165.0 195.5,161.6 197.0,157.8 198.5,153.4 200.0,149.8 201.5,146.2 203.0,144.3 204.5,141.8 206.0,139.2 207.5,136.8 209.0,134.7 210.5,133.1 212.0,131.2 213.5,129.3 215.0,126.5 216.5,124.0 218.0,121.3 219.5,120.1 221.0,118.2 222.5,115.8 224.0,113.5 225.5,111.0 227.0,109.3 228.5,108.0 230.0,106.2 231.5,104.6 233.0,103.6 234.5,102.9 236.0,102.3 237.5,99.9 239.0,98.3 240.5,96.7 242.0,96.5 243.5,95.5 245.0,95.2 246.5,94.1 248.0,93.4 249.5,92.0 251.0,91.5 252.5,90.3 254.0,90.0 255.5,89.0 257.0,88.5 258.5,87.2 260.0,86.5 261.5,86.2 263.0,85.9 264.5,85.1 266.0,84.4 267.5,83.3 269.0,83.1 270.5,82.0 272.0,80.3 273.5,79.8 275.0,79.3 276.5,79.1 278.0,77.8 279.5,76.8 281.0,77.9 282.5,77.8 284.0,76.9 285.5,75.7 287.0,74.8 288.5,76.0 290.0,74.8 291.5,73.5 293.0,72.2 294.5,72.1 296.0,72.6 297.5,71.1 299.0,71.1 300.0,71.9 301.6,71.6 303.2,71.6 304.8,70.2 306.4,71.9 308.0,71.2 309.6,71.0 311.2,70.1 312.8,69.8 314.4,69.3 316.0,68.8 317.6,68.0 319.2,67.1 320.8,67.5 322.4,67.3 324.0,67.6 325.6,66.5 327.2,65.6 328.8,65.0 330.4,64.3 332.0,64.6 333.6,65.1 335.2,65.6 336.8,65.4 338.4,65.4 340.0,65.0 341.6,64.5 343.2,64.1 344.8,63.2 346.4,64.0 348.0,63.9 349.6,64.2 351.2,62.9 352.8,62.5 354.4,62.0 356.0,62.8 357.6,62.5 359.2,62.3 360.8,62.3 362.4,62.5 364.0,62.5 365.6,62.5 367.2,61.8 368.8,61.8 370.4,61.2 372.0,60.8 373.6,60.6 375.2,60.3 376.8,61.3 378.4,62.1 380.0,62.0 381.6,61.9 383.2,61.0 384.8,61.2 386.4,60.7 388.0,60.8 389.6,61.7 391.2,61.3 392.8,60.4 394.4,59.8 396.0,59.4 397.6,59.7 399.2,57.5 400.8,58.1 402.4,58.6 404.0,60.3 405.6,60.2 407.2,60.6 408.8,60.1 410.4,60.0 412.0,58.7 413.6,58.5 415.2,58.5 416.8,58.9 418.4,58.4 420.0,58.0 421.6,57.6 423.2,57.8 424.8,57.8 426.4,57.6 428.0,57.2 429.6,56.3 431.2,57.3 432.8,57.3 434.4,57.9 436.0,57.3 437.6,58.3 439.2,57.5 440.8,57.0 442.4,56.7 444.0,57.6 445.6,57.4 447.2,56.7 448.8,56.8 450.4,57.6 452.0,58.3 453.6,57.4 455.2,57.1 456.8,56.9 458.4,57.5 460.0,56.7 461.6,56.6 463.2,56.1 464.8,56.1 466.4,56.1 468.0,56.2 469.6,56.5 471.2,56.6 472.8,55.8 474.4,55.9 476.0,55.9 477.6,56.7 479.2,57.2 480.8,56.4 482.4,55.5 484.0,55.0 485.6,55.8 487.2,57.6 488.8,57.7 490.4,57.0 492.0,56.4 493.6,55.6 495.2,55.3 496.8,56.2 498.4,56.7 500.0,57.7 501.6,56.7 503.2,57.4 504.8,57.2 506.4,57.5 508.0,56.1 509.6,55.2 511.2,55.3 512.8,56.5 514.4,57.4 516.0,56.8 517.6,56.1 519.2,55.5 520.8,56.1 522.4,56.4 524.0,56.9 525.6,56.3 527.2,56.5 528.8,56.5 530.4,56.6 532.0,55.5 533.6,55.5 535.2,56.2 536.8,56.5 538.4,56.2 540.0,55.5 541.6,56.2 543.2,56.6 544.8,55.3 546.4,55.1 548.0,54.2 549.6,54.6 551.2,54.6 552.8,55.0 554.4,55.8 556.0,57.0 557.6,57.5 559.2,57.5 560.8,55.5 562.4,54.8 564.0,53.9 565.6,54.1 567.2,53.8 568.8,54.0 570.4,54.1 572.0,54.2 573.6,53.8 575.2,53.2 576.8,53.9 578.4,54.6 580.0,55.8 581.6,56.1 583.2,55.9 584.8,55.7 586.4,54.4 588.0,55.7 589.6,56.0 591.2,56.6 592.8,54.9 594.4,54.4 596.0,53.6 597.6,53.8 599.2,54.0 600.8,54.9 602.4,55.0 604.0,55.1 605.6,54.6 607.2,54.9 608.8,54.2 610.4,54.3 612.0,54.4 613.6,54.1 615.2,55.5 616.8,55.0 618.4,56.4 620.0,54.9 621.6,55.5 623.2,53.9 624.8,53.8 626.4,53.6 628.0,54.5 629.6,54.5 631.2,55.0 632.8,54.3 634.4,55.0 636.0,54.5 637.6,55.2 639.2,54.3 640.8,54.9 642.4,54.8 644.0,55.5 645.6,54.2 647.2,53.1 648.8,52.6 650.4,53.4 652.0,54.0 653.6,54.1 655.2,53.6 656.8,54.5 658.4,54.9 660.0,54.9 661.6,54.8 663.2,55.2 664.8,55.5 666.4,54.5 668.0,53.5 669.6,52.9 671.2,52.9 672.8,53.6 674.4,54.3 676.0,54.8 677.6,55.0 679.2,55.0 680.8,54.2 682.4,53.0 684.0,52.7 685.6,52.7 687.2,53.4 688.8,53.5 690.4,53.4 692.0,53.1 693.6,53.2 695.2,53.9 696.8,54.1 698.4,54.4 700.0,54.2 701.6,54.0 703.2,53.8 704.8,54.8 706.4,55.0 708.0,55.5 709.6,55.3 711.2,56.3 712.8,55.3 714.4,55.7 716.0,55.0 717.6,55.2 719.2,54.1 720.8,54.3 722.4,54.3 724.0,54.1 725.6,54.1 727.2,53.5 728.8,52.9 729.2,52.6 731.0,54.6 733.0,56.5 735.0,57.8 737.0,59.4 739.0,60.9 741.0,62.9 743.0,64.1 745.0,65.6 747.0,66.8" stroke="#1f9a55"/>
<path d="M51.5,422.1 53.5,421.6 55.5,421.3 57.5,421.3 59.5,421.4 61.5,421.2 63.5,421.2 65.5,422.0 67.5,421.9 69.5,420.7 71.5,419.7 73.5,419.8 75.5,420.7 77.5,421.5 79.5,421.8 81.5,421.7 83.5,421.5 85.5,421.3 87.5,421.6 89.5,421.3 91.5,422.6 93.5,423.0 95.5,422.9 97.5,421.7 99.5,421.3 101.5,421.1 103.5,421.2 105.5,421.2 107.5,422.1 109.5,422.2 111.5,422.2 113.5,421.5 115.5,421.3 117.5,421.6 119.5,422.0 121.5,422.8 123.5,422.7 125.5,423.2 127.5,422.9 129.5,423.2 131.5,422.2 133.5,421.7 135.5,422.0 137.5,423.2 139.5,423.7 141.5,423.8 143.5,423.2 145.5,423.0 147.5,422.6 148.0,423.1 148.5,423.3 149.0,423.5 149.5,423.0 150.0,423.1 150.5,418.6 151.0,406.3 151.5,391.4 152.0,377.1 152.5,364.2 153.0,353.9 153.5,345.2 154.0,337.4 154.5,330.3 155.0,323.7 155.5,317.8 156.0,311.8 156.5,307.0 157.0,302.5 157.5,299.3 158.0,295.8 158.5,293.1 159.0,290.0 159.5,287.2 160.0,284.5 160.5,281.9 161.0,279.2 161.5,276.5 162.0,273.5 162.5,270.9 163.0,268.2 163.5,265.7 164.0,263.1 164.5,260.7 165.0,258.4 165.5,256.2 166.0,253.8 166.5,251.4 167.0,249.2 167.5,246.8 168.0,244.7 168.5,242.7 169.0,240.4 169.5,238.4 170.0,236.1 171.5,230.5 173.0,225.8 174.5,219.5 176.0,215.4 177.5,210.1 179.0,206.6 180.5,201.5 182.0,196.6 183.5,191.6 185.0,187.9 186.5,183.2 188.0,179.5 189.5,175.8 191.0,172.1 192.5,168.5 194.0,164.6 195.5,161.1 197.0,158.5 198.5,155.4 200.0,152.2 201.5,148.5 203.0,145.0 204.5,142.6 206.0,139.9 207.5,137.3 209.0,135.5 210.5,132.7 212.0,131.1 213.5,128.3 215.0,126.9 216.5,124.0 218.0,121.7 219.5,118.7 221.0,117.4 222.5,116.3 224.0,116.2 225.5,114.8 227.0,112.9 228.5,110.2 230.0,108.2 231.5,106.7 233.0,106.1 234.5,105.0 236.0,103.3 237.5,101.0 239.0,100.0 240.5,99.4 242.0,98.5 243.5,97.4 245.0,96.0 246.5,94.9 248.0,93.1 249.5,91.4 251.0,91.1 252.5,89.8 254.0,89.6 255.5,88.0 257.0,88.1 258.5,87.6 260.0,87.2 261.5,85.3 263.0,84.5 264.5,83.1 266.0,83.4 267.5,83.0 269.0,83.0 270.5,83.3 272.0,82.7 273.5,82.4 275.0,80.9 276.5,80.0 278.0,79.7 279.5,79.6 281.0,78.5 282.5,78.1 284.0,77.3 285.5,77.9 287.0,77.2 288.5,75.9 290.0,74.4 291.5,74.6 293.0,74.9 294.5,74.4 296.0,73.3 297.5,72.6 299.0,72.0 300.0,70.5 301.6,69.5 303.2,70.2 304.8,70.9 306.4,71.2 308.0,70.8 309.6,70.8 311.2,69.6 312.8,69.0 314.4,68.0 316.0,68.1 317.6,67.7 319.2,67.7 320.8,67.9 322.4,67.2 324.0,66.7 325.6,67.6 327.2,67.5 328.8,66.7 330.4,65.6 332.0,66.2 333.6,67.0 335.2,66.1 336.8,66.0 338.4,65.2 340.0,65.0 341.6,64.0 343.2,64.1 344.8,64.8 346.4,65.2 348.0,65.1 349.6,65.0 351.2,64.6 352.8,64.8 354.4,63.5 356.0,62.5 357.6,62.3 359.2,62.1 360.8,62.6 362.4,62.0 364.0,62.3 365.6,62.1 367.2,62.7 368.8,61.5 370.4,62.1 372.0,62.4 373.6,63.5 375.2,62.9 376.8,62.0 378.4,62.8 380.0,62.1 381.6,61.6 383.2,60.5 384.8,61.3 386.4,61.2 388.0,61.5 389.6,60.9 391.2,60.8 392.8,60.0 394.4,59.8 396.0,59.6 397.6,59.8 399.2,59.4 400.8,60.2 402.4,60.1 404.0,59.9 405.6,59.6 407.2,59.2 408.8,60.0 410.4,59.4 412.0,59.8 413.6,59.5 415.2,59.2 416.8,59.0 418.4,59.9 420.0,59.0 421.6,58.9 423.2,58.1 424.8,58.6 426.4,57.8 428.0,58.6 429.6,58.8 431.2,60.5 432.8,59.6 434.4,59.8 436.0,58.9 437.6,58.9 439.2,59.4 440.8,59.3 442.4,59.0 444.0,58.5 445.6,58.9 447.2,59.2 448.8,58.5 450.4,57.5 452.0,57.2 453.6,57.4 455.2,57.4 456.8,56.8 458.4,56.9 460.0,57.2 461.6,58.2 463.2,58.2 464.8,59.0 466.4,58.4 468.0,60.0 469.6,59.4 471.2,59.6 472.8,57.8 474.4,55.9 476.0,55.5 477.6,55.8 479.2,58.1 480.8,57.5 482.4,58.3 484.0,57.2 485.6,58.2 487.2,56.0 488.8,56.1 490.4,55.6 492.0,57.1 493.6,57.1 495.2,56.7 496.8,56.8 498.4,57.0 500.0,57.9 501.6,57.9 503.2,58.0 504.8,57.7 506.4,56.5 508.0,55.3 509.6,55.9 511.2,56.9 512.8,57.6 514.4,56.7 516.0,56.4 517.6,56.3 519.2,56.3 520.8,55.9 522.4,57.0 524.0,57.2 525.6,57.3 527.2,55.5 528.8,55.0 530.4,55.7 532.0,56.7 533.6,56.9 535.2,56.5 536.8,56.0 538.4,55.6 540.0,56.1 541.6,56.5 543.2,58.2 544.8,57.2 546.4,56.9 548.0,56.1 549.6,56.3 551.2,55.7 552.8,54.8 554.4,55.0 556.0,55.8 557.6,56.2 559.2,56.6 560.8,56.9 562.4,57.1 564.0,56.6 565.6,56.0 567.2,56.1 568.8,56.5 570.4,56.7 572.0,56.6 573.6,56.0 575.2,55.2 576.8,54.5 578.4,55.0 580.0,55.9 581.6,57.2 583.2,56.8 584.8,57.0 586.4,56.9 588.0,57.3 589.6,56.6 591.2,55.9 592.8,55.4 594.4,55.2 596.0,55.5 597.6,56.0 599.2,56.2 600.8,56.9 602.4,56.3 604.0,56.4 605.6,55.3 607.2,55.1 608.8,55.4 610.4,55.5 612.0,56.7 613.6,56.7 615.2,57.0 616.8,56.0 618.4,55.0 620.0,54.7 621.6,54.4 623.2,55.6 624.8,55.6 626.4,56.8 628.0,56.7 629.6,57.1 631.2,56.4 632.8,56.1 634.4,56.0 636.0,56.4 637.6,55.9 639.2,55.8 640.8,56.6 642.4,56.9 644.0,56.6 645.6,54.9 647.2,54.3 648.8,55.0 650.4,55.3 652.0,56.2 653.6,56.5 655.2,57.7 656.8,57.1 658.4,56.7 660.0,55.8 661.6,56.4 663.2,56.1 664.8,55.8 666.4,56.3 668.0,56.4 669.6,56.6 671.2,56.4 672.8,56.5 674.4,56.6 676.0,56.1 677.6,56.5 679.2,56.6 680.8,56.4 682.4,55.1 684.0,54.6 685.6,54.2 687.2,54.6 688.8,54.9 690.4,54.4 692.0,54.4 693.6,54.5 695.2,55.6 696.8,55.1 698.4,55.4 700.0,55.0 701.6,54.9 703.2,53.7 704.8,54.0 706.4,55.1 708.0,56.2 709.6,56.3 711.2,55.2 712.8,54.3 714.4,53.8 716.0,54.3 717.6,53.7 719.2,54.2 720.8,54.6 722.4,55.2 724.0,55.1 725.6,54.0 727.2,53.1 728.8,52.5 729.2,53.5 731.0,55.6 733.0,57.2 735.0,58.8 737.0,60.1 739.0,62.0 741.0,63.4 743.0,65.0 745.0,66.4 747.0,67.7" stroke="#1f9a55"/>
<path d="M51.5,422.8 53.5,422.7 55.5,422.7 57.5,423.4 59.5,423.8 61.5,422.8 63.5,422.2 65.5,422.3 67.5,422.9 69.5,423.7 71.5,423.1 73.5,423.3 75.5,422.6 77.5,423.6 79.5,423.4 81.5,424.0 83.5,423.4 85.5,422.9 87.5,422.2 89.5,422.3 91.5,422.5 93.5,423.3 95.5,424.0 97.5,424.5 99.5,423.8 101.5,423.3 103.5,423.0 105.5,423.9 107.5,424.1 109.5,424.6 111.5,424.0 113.5,423.2 115.5,422.8 117.5,422.6 119.5,423.5 121.5,423.8 123.5,424.0 125.5,423.7 127.5,424.3 129.5,424.3 131.5,424.1 133.5,423.5 135.5,423.7 137.5,423.9 139.5,424.2 141.5,425.1 143.5,424.6 145.5,424.5 147.5,424.0 148.0,424.5 148.5,424.5 149.0,424.4 149.5,424.8 150.0,424.6 150.5,419.4 151.0,406.7 151.5,391.5 152.0,377.1 152.5,364.3 153.0,353.9 153.5,345.2 154.0,337.3 154.5,330.2 155.0,323.7 155.5,317.8 156.0,312.4 156.5,307.3 157.0,302.9 157.5,299.3 158.0,296.4 158.5,293.4 159.0,290.7 159.5,287.6 160.0,284.9 160.5,282.0 161.0,279.2 161.5,276.4 162.0,273.9 162.5,271.2 163.0,268.7 163.5,266.0 164.0,263.5 164.5,261.1 165.0,258.6 165.5,256.9 166.0,254.5 166.5,252.2 167.0,249.6 167.5,247.7 168.0,245.3 168.5,243.1 169.0,241.1 169.5,239.4 170.0,237.6 171.5,232.1 173.0,226.5 174.5,221.0 176.0,215.2 177.5,210.1 179.0,205.3 180.5,201.0 182.0,196.6 183.5,191.9 185.0,188.6 186.5,185.5 188.0,181.9 189.5,177.6 191.0,172.8 192.5,170.0 194.0,166.5 195.5,163.3 197.0,159.2 198.5,155.9 200.0,152.2 201.5,149.6 203.0,146.3 204.5,144.2 206.0,141.2 207.5,139.4 209.0,136.6 210.5,134.6 212.0,131.2 213.5,129.2 215.0,126.4 216.5,124.8 218.0,122.5 219.5,121.1 221.0,118.1 222.5,116.4 224.0,113.5 225.5,113.4 227.0,110.7 228.5,109.3 230.0,106.4 231.5,106.8 233.0,105.2 234.5,104.8 236.0,102.4 237.5,100.9 239.0,99.5 240.5,98.9 242.0,98.6 243.5,98.2 245.0,96.6 246.5,95.7 248.0,94.1 249.5,93.4 251.0,93.5 252.5,92.9 254.0,92.0 255.5,89.9 257.0,88.6 258.5,88.4 260.0,87.4 261.5,86.6 263.0,85.1 264.5,84.7 266.0,85.5 267.5,83.7 269.0,83.4 270.5,82.2 272.0,82.2 273.5,81.1 275.0,80.4 276.5,81.2 278.0,80.5 279.5,79.0 281.0,78.2 282.5,78.9 284.0,79.0 285.5,77.0 287.0,76.5 288.5,76.1 290.0,77.3 291.5,76.1 293.0,75.6 294.5,74.4 296.0,74.8 297.5,75.3 299.0,74.1 300.0,72.6 301.6,72.4 303.2,72.9 304.8,72.3 306.4,71.1 308.0,70.9 309.6,71.2 311.2,70.6 312.8,70.2 314.4,69.7 316.0,69.8 317.6,69.3 319.2,69.0 320.8,68.5 322.4,69.3 324.0,69.3 325.6,69.1 327.2,68.5 328.8,68.2 330.4,68.6 332.0,68.3 333.6,68.8 335.2,68.7 336.8,68.2 338.4,66.9 340.0,66.4 341.6,66.5 343.2,66.4 344.8,65.1 346.4,63.7 348.0,63.8 349.6,64.7 351.2,65.8 352.8,64.8 354.4,64.8 356.0,63.9 357.6,64.6 359.2,64.1 360.8,63.8 362.4,63.2 364.0,61.8 365.6,61.6 367.2,60.9 368.8,62.0 370.4,62.3 372.0,63.5 373.6,63.3 375.2,62.9 376.8,62.5 378.4,62.0 380.0,62.5 381.6,62.3 383.2,61.9 384.8,61.5 386.4,61.3 388.0,61.5 389.6,61.8 391.2,62.5 392.8,62.4 394.4,61.7 396.0,59.6 397.6,59.7 399.2,59.5 400.8,59.5 402.4,59.6 404.0,60.0 405.6,60.6 407.2,60.2 408.8,59.4 410.4,60.0 412.0,59.4 413.6,59.6 415.2,60.1 416.8,60.8 418.4,61.1 420.0,60.0 421.6,59.4 423.2,59.0 424.8,59.2 426.4,59.2 428.0,59.4 429.6,59.7 431.2,60.7 432.8,59.7 434.4,58.5 436.0,57.1 437.6,58.4 439.2,59.1 440.8,60.2 442.4,59.2 444.0,58.3 445.6,57.9 447.2,58.3 448.8,58.4 450.4,58.4 452.0,58.6 453.6,59.1 455.2,58.5 456.8,57.1 458.4,56.8 460.0,57.3 461.6,58.2 463.2,58.1 464.8,57.6 466.4,58.1 468.0,58.2 469.6,58.6 471.2,57.7 472.8,57.4 474.4,57.4 476.0,57.3 477.6,57.0 479.2,56.7 480.8,57.7 482.4,58.4 484.0,59.3 485.6,58.6 487.2,58.3 488.8,56.9 490.4,56.6 492.0,57.4 493.6,58.2 495.2,58.9 496.8,58.5 498.4,58.3 500.0,57.8 501.6,57.5 503.2,57.8 504.8,58.1 506.4,58.2 508.0,58.0 509.6,57.3 511.2,56.9 512.8,56.4 514.4,57.2 516.0,56.3 517.6,56.6 519.2,57.3 520.8,58.1 522.4,57.7 524.0,56.5 525.6,57.2 527.2,57.7 528.8,58.0 530.4,57.4 532.0,57.3 533.6,58.5 535.2,58.5 536.8,58.4 538.4,56.5 540.0,56.7 541.6,57.1 543.2,57.7 544.8,57.6 546.4,56.7 548.0,56.5 549.6,56.3 551.2,56.9 552.8,55.8 554.4,55.7 556.0,55.5 557.6,56.2 559.2,55.7 560.8,56.1 562.4,56.2 564.0,56.3 565.6,56.0 567.2,55.5 568.8,56.4 570.4,55.5 572.0,55.7 573.6,54.5 575.2,55.5 576.8,56.0 578.4,56.5 580.0,56.8 581.6,56.0 583.2,57.2 584.8,57.6 586.4,58.5 588.0,56.9 589.6,55.9 591.2,55.9 592.8,56.4 594.4,56.8 596.0,56.5 597.6,55.9 599.2,56.4 600.8,56.3 602.4,57.1 604.0,56.4 605.6,56.6 607.2,56.0 608.8,56.8 610.4,57.1 612.0,57.9 613.6,57.7 615.2,57.4 616.8,55.6 618.4,55.8 620.0,55.3 621.6,56.7 623.2,56.1 624.8,55.6 626.4,55.3 628.0,55.7 629.6,57.1 631.2,57.0 632.8,56.3 634.4,56.3 636.0,56.1 637.6,57.6 639.2,56.9 640.8,56.9 642.4,56.3 644.0,57.1 645.6,56.9 647.2,57.1 648.8,56.1 650.4,57.6 652.0,56.6 653.6,56.0 655.2,55.5 656.8,56.1 658.4,57.9 660.0,58.5 661.6,58.4 663.2,57.2 664.8,56.1 666.4,55.6 668.0,55.3 669.6,55.4 671.2,54.3 672.8,54.8 674.4,54.9 676.0,57.4 677.6,57.7 679.2,57.5 680.8,56.5 682.4,55.5 684.0,55.4 685.6,54.2 687.2,55.5 688.8,56.1 690.4,56.5 692.0,55.7 693.6,55.9 695.2,56.7 696.8,56.9 698.4,56.0 700.0,55.5 701.6,55.3 703.2,56.2 704.8,56.1 706.4,55.5 708.0,55.6 709.6,55.5 711.2,56.6 712.8,56.1 714.4,57.0 716.0,57.3 717.6,57.5 719.2,57.5 720.8,56.1 722.4,55.3 724.0,55.0 725.6,55.9 727.2,56.6 728.8,57.3 729.2,56.7 731.0,56.6 733.0,58.0 735.0,59.5 737.0,61.0 739.0,62.2 741.0,63.9 743.0,65.3 745.0,67.1 747.0,68.3" stroke="#1f9a55"/>
<path d="M51.5,422.0 53.5,421.5 55.5,421.0 57.5,421.1 59.5,421.5 61.5,421.9 63.5,422.0 65.5,421.7 67.5,421.7 69.5,421.6 71.5,421.7 73.5,422.8 75.5,422.3 77.5,422.9 79.5,422.5 81.5,422.4 83.5,421.5 85.5,421.4 87.5,422.0 89.5,422.8 91.5,423.0 93.5,423.1 95.5,422.6 97.5,421.3 99.5,421.6 101.5,421.7 103.5,422.7 105.5,422.8 107.5,422.7 109.5,423.2 111.5,423.5 113.5,424.3 115.5,423.4 117.5,422.9 119.5,422.5 121.5,422.8 123.5,422.6 125.5,423.0 127.5,423.2 129.5,423.8 131.5,423.5 133.5,423.9 135.5,423.9 137.5,423.1 139.5,422.5 141.5,422.5 143.5,423.8 145.5,423.9 147.5,423.9 148.0,423.4 148.5,423.7 149.0,423.7 149.5,423.7 150.0,423.6 150.5,418.8 151.0,406.7 151.5,391.7 152.0,377.7 152.5,364.9 153.0,355.1 153.5,346.4 154.0,339.1 154.5,332.4 155.0,326.0 155.5,320.1 156.0,314.3 156.5,309.6 157.0,305.4 157.5,302.3 158.0,298.9 158.5,295.7 159.0,292.8 159.5,290.0 160.0,287.5 160.5,284.4 161.0,281.8 161.5,279.2 162.0,276.3 162.5,273.8 163.0,271.1 163.5,268.8 164.0,266.5 164.5,264.4 165.0,262.1 165.5,259.2 166.0,256.8 166.5,254.7 167.0,252.9 167.5,250.5 168.0,248.1 168.5,245.8 169.0,244.1 169.5,242.4 170.0,241.0 171.5,235.1 173.0,229.5 174.5,224.1 176.0,219.2 177.5,214.2 179.0,210.1 180.5,205.9 182.0,202.0 183.5,196.8 185.0,192.7 186.5,187.6 188.0,183.9 189.5,180.7 191.0,179.0 192.5,176.1 194.0,172.4 195.5,168.0 197.0,163.9 198.5,160.3 200.0,157.5 201.5,154.5 203.0,152.1 204.5,148.6 206.0,145.4 207.5,141.8 209.0,139.0 210.5,136.7 212.0,135.5 213.5,133.9 215.0,132.5 216.5,130.5 218.0,129.2 219.5,126.9 221.0,125.1 222.5,122.9 224.0,121.4 225.5,119.4 227.0,116.9 228.5,115.0 230.0,113.2 231.5,112.8 233.0,111.7 234.5,110.3 236.0,109.3 237.5,108.9 239.0,108.2 240.5,107.2 242.0,105.2 243.5,103.6 245.0,102.1 246.5,101.2 248.0,100.1 249.5,99.8 251.0,99.0 252.5,97.9 254.0,96.4 255.5,96.6 257.0,96.3 258.5,95.9 260.0,94.1 261.5,93.0 263.0,91.4 264.5,90.9 266.0,91.3 267.5,90.5 269.0,90.7 270.5,88.7 272.0,88.5 273.5,87.6 275.0,87.8 276.5,87.5 278.0,85.8 279.5,85.1 281.0,84.0 282.5,85.6 284.0,84.8 285.5,84.9 287.0,82.6 288.5,82.1 290.0,80.9 291.5,81.5 293.0,81.2 294.5,81.8 296.0,80.5 297.5,80.0 299.0,80.0 300.0,79.7 301.6,78.6 303.2,77.8 304.8,77.4 306.4,77.7 308.0,77.6 309.6,77.4 311.2,77.8 312.8,76.7 314.4,77.5 316.0,77.4 317.6,77.2 319.2,76.1 320.8,74.8 322.4,74.8 324.0,75.2 325.6,74.7 327.2,74.8 328.8,73.3 330.4,73.3 332.0,71.8 333.6,73.2 335.2,73.5 336.8,74.2 338.4,72.7 340.0,72.9 341.6,71.6 343.2,71.7 344.8,72.1 346.4,72.8 348.0,72.6 349.6,71.6 351.2,71.2 352.8,71.1 354.4,71.0 356.0,71.4 357.6,71.4 359.2,70.6 360.8,70.5 362.4,70.2 364.0,70.9 365.6,71.0 367.2,70.7 368.8,68.6 370.4,68.5 372.0,68.8 373.6,69.5 375.2,68.0 376.8,66.9 378.4,67.7 380.0,68.1 381.6,68.3 383.2,67.8 384.8,68.8 386.4,68.9 388.0,68.7 389.6,67.7 391.2,68.4 392.8,68.9 394.4,69.0 396.0,67.4 397.6,66.4 399.2,66.6 400.8,66.9 402.4,67.6 404.0,67.4 405.6,67.8 407.2,67.6 408.8,67.6 410.4,67.0 412.0,66.4 413.6,67.2 415.2,67.0 416.8,66.8 418.4,66.1 420.0,66.6 421.6,66.4 423.2,65.1 424.8,65.4 426.4,66.2 428.0,67.5 429.6,67.2 431.2,67.1 432.8,65.9 434.4,65.9 436.0,65.0 437.6,65.5 439.2,65.7 440.8,66.6 442.4,65.9 444.0,66.1 445.6,65.3 447.2,65.2 448.8,64.5 450.4,64.0 452.0,64.4 453.6,64.6 455.2,65.2 456.8,65.4 458.4,65.0 460.0,65.1 461.6,64.1 463.2,64.2 464.8,63.8 466.4,64.2 468.0,64.1 469.6,64.6 471.2,63.9 472.8,63.2 474.4,62.9 476.0,63.9 477.6,64.8 479.2,65.4 480.8,65.7 482.4,65.8 484.0,65.3 485.6,64.1 487.2,63.4 488.8,63.1 490.4,63.7 492.0,64.3 493.6,64.5 495.2,64.3 496.8,64.4 498.4,64.5 500.0,64.7 501.6,64.5 503.2,64.1 504.8,63.4 506.4,63.5 508.0,63.9 509.6,64.3 511.2,63.8 512.8,64.7 514.4,64.5 516.0,64.5 517.6,63.5 519.2,63.3 520.8,63.4 522.4,64.2 524.0,65.2 525.6,65.4 527.2,64.8 528.8,64.4 530.4,64.5 532.0,64.1 533.6,63.8 535.2,63.4 536.8,63.9 538.4,64.3 540.0,64.5 541.6,63.1 543.2,63.5 544.8,64.3 546.4,65.9 548.0,65.2 549.6,63.6 551.2,63.0 552.8,62.7 554.4,63.5 556.0,63.0 557.6,64.0 559.2,64.3 560.8,63.5 562.4,63.2 564.0,62.2 565.6,62.5 567.2,62.0 568.8,62.2 570.4,63.4 572.0,62.9 573.6,63.6 575.2,64.0 576.8,65.1 578.4,64.8 580.0,63.8 581.6,62.9 583.2,62.9 584.8,63.1 586.4,64.0 588.0,65.0 589.6,65.1 591.2,65.0 592.8,64.5 594.4,63.4 596.0,62.7 597.6,61.7 599.2,62.0 600.8,62.9 602.4,62.9 604.0,64.1 605.6,64.5 607.2,65.0 608.8,64.0 610.4,63.5 612.0,63.5 613.6,63.2 615.2,63.0 616.8,63.0 618.4,63.6 620.0,64.2 621.6,64.4 623.2,63.9 624.8,63.2 626.4,62.2 628.0,62.9 629.6,62.4 631.2,63.2 632.8,63.1 634.4,64.0 636.0,63.5 637.6,62.6 639.2,63.0 640.8,62.9 642.4,64.3 644.0,63.7 645.6,64.1 647.2,64.3 648.8,64.2 650.4,64.6 652.0,62.9 653.6,63.2 655.2,62.4 656.8,63.0 658.4,62.6 660.0,62.9 661.6,63.8 663.2,62.8 664.8,62.7 666.4,61.5 668.0,63.0 669.6,62.7 671.2,63.3 672.8,62.5 674.4,63.1 676.0,63.3 677.6,63.3 679.2,63.0 680.8,61.8 682.4,62.2 684.0,62.5 685.6,63.0 687.2,63.4 688.8,61.9 690.4,61.3 692.0,60.0 693.6,60.8 695.2,61.7 696.8,62.3 698.4,62.5 700.0,62.9 701.6,62.7 703.2,62.1 704.8,61.1 706.4,62.4 708.0,61.8 709.6,62.4 711.2,62.0 712.8,63.4 714.4,63.1 716.0,62.4 717.6,62.5 719.2,63.5 720.8,63.1 722.4,62.8 724.0,62.1 725.6,62.8 727.2,62.8 728.8,62.4 729.2,61.2 731.0,62.5 733.0,64.5 735.0,66.4 737.0,67.9 739.0,69.6 741.0,70.8 743.0,72.5 745.0,73.6 747.0,75.3" stroke="#a31515"/>
<path d="M51.5,422.6 53.5,422.1 55.5,422.2 57.5,422.4 59.5,422.8 61.5,423.1 63.5,423.0 65.5,423.0 67.5,422.3 69.5,422.5 71.5,422.7 73.5,423.6 75.5,422.6 77.5,422.0 79.5,421.0 81.5,421.4 83.5,422.4 85.5,423.4 87.5,423.7 89.5,423.4 91.5,423.5 93.5,423.5 95.5,423.6 97.5,423.4 99.5,422.8 101.5,422.6 103.5,423.1 105.5,423.7 107.5,423.8 109.5,423.2 111.5,423.2 113.5,423.7 115.5,423.8 117.5,423.7 119.5,422.3 121.5,422.2 123.5,421.9 125.5,422.4 127.5,422.9 129.5,423.9 131.5,423.9 133.5,424.0 135.5,423.9 137.5,424.3 139.5,424.3 141.5,423.7 143.5,423.6 145.5,422.9 147.5,423.1 148.0,423.8 148.5,423.9 149.0,423.9 149.5,423.2 150.0,424.1 150.5,419.1 151.0,407.3 151.5,392.3 152.0,378.2 152.5,365.3 153.0,355.3 153.5,346.8 154.0,339.4 154.5,332.9 155.0,326.8 155.5,321.1 156.0,315.6 156.5,310.7 157.0,306.3 157.5,302.4 158.0,299.5 158.5,296.9 159.0,294.2 159.5,291.2 160.0,288.5 160.5,285.9 161.0,282.9 161.5,280.1 162.0,277.4 162.5,275.2 163.0,272.6 163.5,270.1 164.0,267.5 164.5,264.8 165.0,262.6 165.5,260.3 166.0,258.5 166.5,256.1 167.0,254.0 167.5,251.6 168.0,249.5 168.5,247.7 169.0,245.8 169.5,244.1 170.0,241.7 171.5,236.2 173.0,230.2 174.5,225.1 176.0,219.9 177.5,215.8 179.0,211.4 180.5,207.1 182.0,202.9 183.5,198.7 185.0,195.0 186.5,191.1 188.0,187.2 189.5,183.1 191.0,179.3 192.5,175.7 194.0,172.6 195.5,169.7 197.0,167.1 198.5,163.6 200.0,159.4 201.5,156.0 203.0,153.2 204.5,151.6 206.0,148.8 207.5,146.2 209.0,143.5 210.5,141.1 212.0,138.8 213.5,137.0 215.0,135.8 216.5,134.1 218.0,131.4 219.5,128.3 221.0,126.4 222.5,124.6 224.0,123.4 225.5,121.3 227.0,119.7 228.5,118.0 230.0,116.9 231.5,116.2 233.0,115.2 234.5,112.9 236.0,110.5 237.5,108.3 239.0,107.6 240.5,107.2 242.0,107.1 243.5,106.1 245.0,104.9 246.5,103.4 248.0,102.0 249.5,100.3 251.0,99.3 252.5,99.8 254.0,99.0 255.5,99.3 257.0,98.4 258.5,98.2 260.0,96.8 261.5,95.2 263.0,94.5 264.5,94.2 266.0,93.8 267.5,93.7 269.0,93.3 270.5,92.9 272.0,92.0 273.5,90.8 275.0,90.2 276.5,89.0 278.0,88.7 279.5,88.1 281.0,87.7 282.5,88.1 284.0,87.0 285.5,86.6 287.0,85.2 288.5,84.3 290.0,83.9 291.5,82.6 293.0,82.7 294.5,82.6 296.0,83.1 297.5,83.8 299.0,83.9 300.0,84.0 301.6,83.4 303.2,82.4 304.8,82.0 306.4,81.2 308.0,80.7 309.6,80.6 311.2,80.9 312.8,81.0 314.4,80.3 316.0,80.1 317.6,79.0 319.2,78.3 320.8,77.0 322.4,77.5 324.0,76.9 325.6,77.9 327.2,77.9 328.8,77.6 330.4,76.6 332.0,75.6 333.6,75.8 335.2,75.8 336.8,76.3 338.4,75.1 340.0,74.5 341.6,74.4 343.2,75.3 344.8,75.8 346.4,74.8 348.0,74.7 349.6,73.6 351.2,74.2 352.8,73.9 354.4,74.4 356.0,73.9 357.6,73.6 359.2,72.6 360.8,72.0 362.4,72.0 364.0,72.4 365.6,72.2 367.2,71.3 368.8,71.2 370.4,72.7 372.0,73.5 373.6,73.7 375.2,71.9 376.8,71.3 378.4,71.0 380.0,71.9 381.6,72.1 383.2,71.6 384.8,72.2 386.4,72.6 388.0,72.5 389.6,71.1 391.2,71.3 392.8,70.9 394.4,71.9 396.0,71.7 397.6,71.5 399.2,70.9 400.8,69.7 402.4,70.4 404.0,70.3 405.6,71.3 407.2,71.3 408.8,71.0 410.4,70.5 412.0,70.0 413.6,69.8 415.2,70.3 416.8,69.9 418.4,69.8 420.0,68.6 421.6,68.5 423.2,67.6 424.8,68.0 426.4,68.1 428.0,68.8 429.6,68.0 431.2,67.9 432.8,67.6 434.4,67.8 436.0,69.4 437.6,70.2 439.2,70.4 440.8,68.5 442.4,68.0 444.0,67.0 445.6,68.1 447.2,67.9 448.8,68.5 450.4,68.0 452.0,67.8 453.6,67.0 455.2,67.3 456.8,66.8 458.4,67.0 460.0,66.5 461.6,66.8 463.2,67.4 464.8,68.0 466.4,68.5 468.0,68.4 469.6,67.9 471.2,68.1 472.8,67.1 474.4,67.2 476.0,66.3 477.6,66.6 479.2,66.4 480.8,66.6 482.4,67.5 484.0,68.0 485.6,67.0 487.2,66.6 488.8,67.0 490.4,68.6 492.0,69.3 493.6,68.3 495.2,67.2 496.8,65.9 498.4,66.2 500.0,67.3 501.6,67.5 503.2,67.0 504.8,66.6 506.4,66.1 508.0,66.0 509.6,66.6 511.2,68.6 512.8,68.7 514.4,68.7 516.0,67.4 517.6,67.0 519.2,65.0 520.8,65.7 522.4,65.9 524.0,68.1 525.6,67.8 527.2,68.0 528.8,66.0 530.4,66.5 532.0,66.3 533.6,67.0 535.2,65.2 536.8,65.8 538.4,66.4 540.0,67.1 541.6,66.7 543.2,66.4 544.8,67.2 546.4,67.1 548.0,67.8 549.6,67.2 551.2,66.8 552.8,65.7 554.4,64.6 556.0,64.5 557.6,65.2 559.2,66.5 560.8,66.5 562.4,66.2 564.0,65.1 565.6,65.3 567.2,65.4 568.8,66.7 570.4,66.4 572.0,66.6 573.6,67.2 575.2,67.3 576.8,67.2 578.4,65.5 580.0,64.8 581.6,64.7 583.2,65.5 584.8,66.5 586.4,65.9 588.0,65.8 589.6,66.0 591.2,67.2 592.8,67.2 594.4,66.0 596.0,65.8 597.6,66.1 599.2,67.3 600.8,66.7 602.4,67.6 604.0,67.3 605.6,67.4 607.2,65.4 608.8,65.0 610.4,64.4 612.0,65.3 613.6,65.8 615.2,65.7 616.8,66.6 618.4,65.9 620.0,66.0 621.6,65.3 623.2,65.2 624.8,65.7 626.4,65.8 628.0,66.3 629.6,67.0 631.2,66.7 632.8,66.9 634.4,65.5 636.0,64.7 637.6,64.2 639.2,64.5 640.8,65.1 642.4,65.8 644.0,64.8 645.6,64.4 647.2,63.1 648.8,65.0 650.4,65.2 652.0,65.9 653.6,64.7 655.2,65.4 656.8,65.4 658.4,66.1 660.0,64.6 661.6,65.4 663.2,65.5 664.8,66.7 666.4,66.7 668.0,66.5 669.6,66.1 671.2,65.8 672.8,66.1 674.4,66.1 676.0,65.7 677.6,65.3 679.2,65.7 680.8,66.2 682.4,66.4 684.0,67.0 685.6,65.8 687.2,65.6 688.8,65.6 690.4,66.1 692.0,65.4 693.6,65.3 695.2,65.7 696.8,65.9 698.4,65.6 700.0,64.8 701.6,64.7 703.2,64.3 704.8,64.5 706.4,64.7 708.0,64.5 709.6,64.3 711.2,64.8 712.8,65.0 714.4,65.9 716.0,65.6 717.6,65.0 719.2,63.9 720.8,64.0 722.4,65.2 724.0,66.0 725.6,65.5 727.2,65.0 728.8,63.9 729.2,64.7 731.0,65.7 733.0,67.6 735.0,69.1 737.0,70.6 739.0,72.1 741.0,73.4 743.0,75.0 745.0,76.7 747.0,79.1" stroke="#a31515"/>
<path d="M51.5,421.1 53.5,422.0 55.5,422.3 57.5,422.5 59.5,421.8 61.5,421.1 63.5,420.8 65.5,421.2 67.5,421.9 69.5,422.6 71.5,422.5 73.5,422.2 75.5,422.2 77.5,421.6 79.5,421.9 81.5,422.3 83.5,423.3 85.5,423.2 87.5,422.6 89.5,422.7 91.5,423.5 93.5,423.1 95.5,422.5 97.5,422.0 99.5,423.0 101.5,422.9 103.5,423.1 105.5,422.6 107.5,423.8 109.5,423.7 111.5,423.8 113.5,422.9 115.5,423.2 117.5,423.5 119.5,423.3 121.5,423.1 123.5,422.4 125.5,422.6 127.5,422.1 129.5,422.1 131.5,422.2 133.5,422.3 135.5,423.0 137.5,423.6 139.5,423.9 141.5,423.3 143.5,423.4 145.5,422.8 147.5,422.6 148.0,422.5 148.5,423.5 149.0,424.5 149.5,424.2 150.0,423.7 150.5,418.6 151.0,406.5 151.5,391.6 152.0,377.4 152.5,364.3 153.0,354.0 153.5,345.6 154.0,338.2 154.5,331.3 155.0,324.8 155.5,318.9 156.0,313.6 156.5,308.6 157.0,304.3 157.5,300.4 158.0,297.3 158.5,294.5 159.0,292.0 159.5,289.1 160.0,286.0 160.5,283.2 161.0,280.6 161.5,277.9 162.0,275.2 162.5,272.7 163.0,270.5 163.5,268.0 164.0,265.5 164.5,262.9 165.0,260.4 165.5,257.9 166.0,255.5 166.5,253.5 167.0,251.2 167.5,249.5 168.0,247.2 168.5,245.5 169.0,243.3 169.5,241.4 170.0,239.7 171.5,233.8 173.0,228.1 174.5,222.4 176.0,218.0 177.5,213.6 179.0,208.7 180.5,203.4 182.0,198.3 183.5,194.4 185.0,190.6 186.5,187.9 188.0,183.2 189.5,179.9 191.0,175.4 192.5,172.4 194.0,168.3 195.5,164.5 197.0,161.6 198.5,159.0 200.0,155.4 201.5,153.0 203.0,149.5 204.5,148.1 206.0,145.0 207.5,143.2 209.0,140.2 210.5,138.0 212.0,135.1 213.5,132.1 215.0,129.8 216.5,128.0 218.0,127.4 219.5,124.1 221.0,121.8 222.5,119.5 224.0,118.2 225.5,116.5 227.0,115.4 228.5,115.2 230.0,113.4 231.5,111.6 233.0,110.2 234.5,109.7 236.0,107.9 237.5,106.2 239.0,104.2 240.5,102.6 242.0,101.7 243.5,101.1 245.0,101.3 246.5,99.7 248.0,97.5 249.5,95.5 251.0,94.9 252.5,95.4 254.0,94.7 255.5,93.4 257.0,93.1 258.5,92.0 260.0,92.0 261.5,90.4 263.0,89.4 264.5,89.0 266.0,87.3 267.5,86.8 269.0,85.7 270.5,86.1 272.0,86.3 273.5,85.5 275.0,84.8 276.5,85.0 278.0,84.4 279.5,84.0 281.0,81.9 282.5,81.2 284.0,81.1 285.5,81.4 287.0,81.3 288.5,80.2 290.0,79.9 291.5,78.6 293.0,78.4 294.5,77.5 296.0,77.5 297.5,77.4 299.0,76.8 300.0,76.6 301.6,77.0 303.2,77.3 304.8,78.0 306.4,76.8 308.0,76.5 309.6,76.0 311.2,76.2 312.8,76.6 314.4,75.8 316.0,75.0 317.6,73.5 319.2,71.6 320.8,70.5 322.4,70.3 324.0,72.1 325.6,72.2 327.2,72.5 328.8,72.6 330.4,72.4 332.0,72.3 333.6,72.3 335.2,72.5 336.8,71.1 338.4,70.8 340.0,70.3 341.6,70.3 343.2,69.5 344.8,69.1 346.4,69.6 348.0,69.8 349.6,70.4 351.2,70.0 352.8,69.1 354.4,68.2 356.0,68.2 357.6,68.2 359.2,69.6 360.8,68.9 362.4,68.6 364.0,67.6 365.6,68.0 367.2,68.1 368.8,67.3 370.4,67.0 372.0,67.3 373.6,67.6 375.2,67.1 376.8,66.8 378.4,66.7 380.0,67.1 381.6,65.3 383.2,64.3 384.8,63.4 386.4,64.7 388.0,65.2 389.6,65.9 391.2,66.2 392.8,65.9 394.4,65.4 396.0,65.9 397.6,65.5 399.2,65.6 400.8,65.4 402.4,65.8 404.0,64.5 405.6,63.9 407.2,63.4 408.8,64.3 410.4,64.5 412.0,64.9 413.6,64.7 415.2,64.6 416.8,64.5 418.4,64.6 420.0,64.2 421.6,64.1 423.2,63.8 424.8,63.3 426.4,63.2 428.0,62.8 429.6,62.3 431.2,62.9 432.8,63.2 434.4,63.7 436.0,63.0 437.6,63.0 439.2,63.0 440.8,63.0 442.4,62.6 444.0,63.0 445.6,62.6 447.2,63.4 448.8,62.0 450.4,61.7 452.0,61.7 453.6,62.5 455.2,62.6 456.8,62.3 458.4,61.8 460.0,62.1 461.6,60.8 463.2,61.0 464.8,60.7 466.4,62.0 468.0,62.6 469.6,62.4 471.2,62.9 472.8,62.2 474.4,61.5 476.0,59.5 477.6,60.6 479.2,61.5 480.8,62.3 482.4,61.1 484.0,60.6 485.6,61.6 487.2,61.9 488.8,63.2 490.4,62.5 492.0,61.3 493.6,60.8 495.2,60.7 496.8,61.7 498.4,62.0 500.0,62.1 501.6,62.7 503.2,61.9 504.8,61.7 506.4,61.3 508.0,61.0 509.6,61.9 511.2,62.1 512.8,62.4 514.4,62.1 516.0,61.9 517.6,61.7 519.2,61.8 520.8,61.4 522.4,61.8 524.0,60.9 525.6,61.0 527.2,60.9 528.8,61.0 530.4,60.7 532.0,60.2 533.6,61.0 535.2,60.8 536.8,61.3 538.4,61.6 540.0,62.1 541.6,61.1 543.2,60.4 544.8,60.7 546.4,61.4 548.0,61.8 549.6,61.6 551.2,61.9 552.8,61.3 554.4,60.7 556.0,60.3 557.6,60.5 559.2,61.0 560.8,61.3 562.4,61.1 564.0,60.9 565.6,60.8 567.2,60.2 568.8,59.8 570.4,59.2 572.0,59.8 573.6,60.1 575.2,60.3 576.8,60.0 578.4,60.4 580.0,60.7 581.6,60.3 583.2,60.0 584.8,59.3 586.4,60.9 588.0,60.7 589.6,61.0 591.2,60.2 592.8,60.3 594.4,60.5 596.0,61.2 597.6,61.4 599.2,61.8 600.8,61.6 602.4,61.0 604.0,61.4 605.6,61.2 607.2,62.1 608.8,60.8 610.4,60.9 612.0,60.6 613.6,60.8 615.2,61.5 616.8,61.6 618.4,61.7 620.0,60.7 621.6,60.8 623.2,61.5 624.8,61.7 626.4,61.8 628.0,62.0 629.6,61.1 631.2,60.2 632.8,59.0 634.4,59.7 636.0,60.6 637.6,61.4 639.2,60.8 640.8,60.0 642.4,60.1 644.0,60.4 645.6,60.5 647.2,60.1 648.8,59.5 650.4,59.9 652.0,59.9 653.6,61.1 655.2,60.2 656.8,59.6 658.4,59.1 660.0,59.7 661.6,60.1 663.2,60.4 664.8,61.2 666.4,61.8 668.0,61.3 669.6,60.1 671.2,60.3 672.8,60.5 674.4,61.5 676.0,61.4 677.6,61.3 679.2,60.5 680.8,59.8 682.4,59.6 684.0,59.2 685.6,59.0 687.2,59.8 688.8,60.1 690.4,60.2 692.0,59.5 693.6,59.1 695.2,59.9 696.8,59.0 698.4,59.3 700.0,58.8 701.6,59.3 703.2,59.9 704.8,60.2 706.4,60.5 708.0,60.3 709.6,59.1 711.2,59.8 712.8,59.7 714.4,60.4 716.0,60.8 717.6,61.0 719.2,61.5 720.8,61.1 722.4,60.1 724.0,59.3 725.6,58.9 727.2,58.6 728.8,59.0 729.2,58.8 731.0,60.5 733.0,61.6 735.0,63.2 737.0,64.8 739.0,66.4 741.0,68.0 743.0,69.1 745.0,71.0 747.0,72.3" stroke="#17a0e6"/>
<path d="M51.5,422.3 53.5,422.4 55.5,423.5 57.5,422.4 59.5,422.5 61.5,421.5 63.5,422.1 65.5,422.1 67.5,422.0 69.5,421.4 71.5,420.8 73.5,420.9 75.5,421.1 77.5,421.2 79.5,421.2 81.5,421.6 83.5,422.1 85.5,422.2 87.5,422.0 89.5,421.9 91.5,422.3 93.5,422.3 95.5,422.6 97.5,423.0 99.5,423.5 101.5,423.2 103.5,423.7 105.5,424.1 107.5,424.0 109.5,423.3 111.5,423.2 113.5,423.1 115.5,423.3 117.5,423.0 119.5,423.0 121.5,422.9 123.5,422.4 125.5,422.4 127.5,421.9 129.5,423.2 131.5,424.0 133.5,425.1 135.5,424.5 137.5,424.4 139.5,424.4 141.5,424.7 143.5,424.7 145.5,424.0 147.5,423.8 148.0,423.4 148.5,423.3 149.0,422.7 149.5,423.1 150.0,423.8 150.5,418.9 151.0,406.9 151.5,392.0 152.0,378.1 152.5,364.9 153.0,354.5 153.5,346.1 154.0,338.4 154.5,331.4 155.0,325.1 155.5,319.1 156.0,313.8 156.5,308.9 157.0,304.9 157.5,301.5 158.0,298.3 158.5,295.5 159.0,292.5 159.5,289.4 160.0,286.3 160.5,283.5 161.0,281.1 161.5,278.6 162.0,276.1 162.5,273.2 163.0,270.3 163.5,267.7 164.0,265.7 164.5,263.5 165.0,261.2 165.5,258.5 166.0,256.3 166.5,254.2 167.0,252.1 167.5,249.8 168.0,248.0 168.5,246.0 169.0,244.3 169.5,242.2 170.0,240.3 171.5,234.4 173.0,228.6 174.5,223.1 176.0,217.6 177.5,212.5 179.0,208.2 180.5,203.8 182.0,200.0 183.5,195.9 185.0,190.5 186.5,186.4 188.0,181.3 189.5,179.1 191.0,174.8 192.5,172.2 194.0,169.4 195.5,165.6 197.0,162.4 198.5,158.5 200.0,155.3 201.5,152.6 203.0,149.7 204.5,147.6 206.0,144.2 207.5,143.2 209.0,140.7 210.5,137.7 212.0,133.3 213.5,131.1 215.0,129.6 216.5,127.9 218.0,125.6 219.5,124.1 221.0,122.0 222.5,120.1 224.0,117.7 225.5,116.1 227.0,115.6 228.5,114.7 230.0,113.2 231.5,111.4 233.0,109.9 234.5,109.8 236.0,108.2 237.5,107.1 239.0,105.2 240.5,103.9 242.0,102.7 243.5,101.3 245.0,100.5 246.5,99.7 248.0,99.2 249.5,99.0 251.0,97.7 252.5,96.5 254.0,96.2 255.5,94.9 257.0,94.1 258.5,92.6 260.0,92.5 261.5,92.0 263.0,90.9 264.5,90.5 266.0,90.2 267.5,89.3 269.0,88.4 270.5,87.1 272.0,86.5 273.5,85.8 275.0,84.7 276.5,84.7 278.0,85.0 279.5,85.9 281.0,85.6 282.5,83.8 284.0,83.3 285.5,81.8 287.0,81.8 288.5,81.5 290.0,80.9 291.5,80.9 293.0,79.7 294.5,79.8 296.0,78.6 297.5,78.2 299.0,77.7 300.0,78.4 301.6,78.4 303.2,77.6 304.8,76.5 306.4,75.4 308.0,75.1 309.6,74.5 311.2,74.4 312.8,74.5 314.4,74.0 316.0,73.4 317.6,73.4 319.2,73.4 320.8,72.9 322.4,73.1 324.0,74.1 325.6,73.5 327.2,71.8 328.8,71.1 330.4,71.1 332.0,71.4 333.6,70.7 335.2,71.4 336.8,70.0 338.4,69.0 340.0,67.9 341.6,69.4 343.2,70.2 344.8,69.8 346.4,69.3 348.0,69.6 349.6,70.1 351.2,69.5 352.8,69.2 354.4,69.7 356.0,69.8 357.6,69.7 359.2,68.9 360.8,68.5 362.4,67.6 364.0,67.6 365.6,67.5 367.2,67.7 368.8,67.9 370.4,68.2 372.0,68.6 373.6,67.2 375.2,67.1 376.8,66.3 378.4,66.5 380.0,65.7 381.6,66.5 383.2,67.2 384.8,67.1 386.4,65.9 388.0,65.3 389.6,65.4 391.2,66.6 392.8,65.8 394.4,65.0 396.0,64.0 397.6,64.6 399.2,65.5 400.8,65.9 402.4,66.8 404.0,66.5 405.6,65.8 407.2,63.8 408.8,64.0 410.4,64.6 412.0,65.3 413.6,65.7 415.2,65.2 416.8,66.0 418.4,65.5 420.0,64.9 421.6,63.8 423.2,62.8 424.8,62.4 426.4,62.8 428.0,63.9 429.6,65.6 431.2,65.4 432.8,64.8 434.4,63.2 436.0,63.7 437.6,63.9 439.2,64.1 440.8,63.9 442.4,64.0 444.0,63.3 445.6,63.2 447.2,63.0 448.8,63.7 450.4,63.0 452.0,63.8 453.6,64.7 455.2,65.7 456.8,64.3 458.4,63.2 460.0,62.7 461.6,62.6 463.2,62.5 464.8,61.1 466.4,62.6 468.0,63.4 469.6,64.5 471.2,63.7 472.8,62.9 474.4,62.5 476.0,62.6 477.6,62.4 479.2,63.2 480.8,62.6 482.4,62.5 484.0,62.5 485.6,62.6 487.2,63.3 488.8,62.4 490.4,61.4 492.0,61.3 493.6,60.9 495.2,62.5 496.8,61.4 498.4,61.1 500.0,60.7 501.6,61.7 503.2,62.6 504.8,61.8 506.4,62.0 508.0,61.2 509.6,61.6 511.2,60.7 512.8,61.2 514.4,61.9 516.0,61.9 517.6,62.4 519.2,62.3 520.8,61.7 522.4,60.8 524.0,60.3 525.6,60.8 527.2,61.5 528.8,60.7 530.4,61.4 532.0,61.6 533.6,62.4 535.2,61.3 536.8,61.0 538.4,60.8 540.0,61.7 541.6,61.6 543.2,62.3 544.8,61.7 546.4,62.5 548.0,61.0 549.6,60.7 551.2,60.2 552.8,60.6 554.4,61.4 556.0,60.6 557.6,61.3 559.2,60.5 560.8,60.9 562.4,60.9 564.0,61.3 565.6,61.3 567.2,62.3 568.8,62.3 570.4,62.0 572.0,61.4 573.6,61.8 575.2,62.8 576.8,63.2 578.4,62.4 580.0,62.3 581.6,61.9 583.2,62.4 584.8,62.0 586.4,59.9 588.0,59.6 589.6,60.4 591.2,61.0 592.8,61.0 594.4,60.2 596.0,61.4 597.6,62.4 599.2,61.4 600.8,61.1 602.4,60.8 604.0,61.0 605.6,60.9 607.2,61.4 608.8,62.7 610.4,63.0 612.0,60.7 613.6,60.0 615.2,59.9 616.8,61.1 618.4,61.1 620.0,62.4 621.6,62.4 623.2,62.0 624.8,60.6 626.4,60.5 628.0,60.8 629.6,60.7 631.2,61.2 632.8,61.5 634.4,60.9 636.0,60.5 637.6,60.6 639.2,60.9 640.8,61.5 642.4,61.7 644.0,61.4 645.6,61.0 647.2,61.6 648.8,62.8 650.4,62.6 652.0,62.1 653.6,61.0 655.2,60.3 656.8,60.1 658.4,60.6 660.0,61.5 661.6,61.2 663.2,61.3 664.8,60.8 666.4,61.0 668.0,61.2 669.6,61.4 671.2,61.6 672.8,60.3 674.4,60.0 676.0,60.3 677.6,62.0 679.2,62.5 680.8,61.7 682.4,60.2 684.0,60.3 685.6,60.7 687.2,60.6 688.8,60.7 690.4,60.5 692.0,61.5 693.6,60.6 695.2,60.7 696.8,59.7 698.4,61.0 700.0,60.8 701.6,60.9 703.2,60.8 704.8,61.3 706.4,61.6 708.0,62.0 709.6,60.9 711.2,61.4 712.8,60.9 714.4,60.3 716.0,60.6 717.6,60.0 719.2,61.1 720.8,60.0 722.4,60.0 724.0,59.2 725.6,59.0 727.2,58.4 728.8,58.2 729.2,59.4 731.0,60.7 733.0,62.3 735.0,63.6 737.0,65.4 739.0,67.2 741.0,68.9 743.0,70.4 745.0,71.8 747.0,73.2" stroke="#17a0e6"/>
<path d="M51.5,421.2 53.5,420.8 55.5,420.4 57.5,420.2 59.5,420.3 61.5,420.5 63.5,420.2 65.5,420.2 67.5,420.6 69.5,421.0 71.5,421.1 73.5,420.3 75.5,420.4 77.5,420.4 79.5,420.7 81.5,420.3 83.5,420.5 85.5,420.7 87.5,421.5 89.5,421.2 91.5,421.8 93.5,421.5 95.5,421.2 97.5,421.0 99.5,421.0 101.5,421.8 103.5,421.7 105.5,421.7 107.5,421.8 109.5,422.4 111.5,422.9 113.5,423.0 115.5,422.8 117.5,422.8 119.5,422.8 121.5,422.8 123.5,422.6 125.5,422.4 127.5,423.1 129.5,423.2 131.5,423.1 133.5,422.2 135.5,422.2 137.5,422.4 139.5,422.2 141.5,421.5 143.5,421.6 145.5,421.5 147.5,422.3 148.0,422.2 148.5,423.2 149.0,423.7 149.5,423.8 150.0,422.9 150.5,418.1 151.0,406.1 151.5,391.4 152.0,377.3 152.5,364.6 153.0,354.5 153.5,346.3 154.0,338.6 154.5,331.8 155.0,325.4 155.5,319.6 156.0,313.8 156.5,308.9 157.0,304.9 157.5,301.7 158.0,298.6 158.5,295.4 159.0,292.7 159.5,289.6 160.0,287.0 160.5,284.0 161.0,281.2 161.5,278.6 162.0,275.9 162.5,273.5 163.0,270.9 163.5,268.5 164.0,265.9 164.5,263.6 165.0,261.2 165.5,258.9 166.0,256.5 166.5,254.0 167.0,251.7 167.5,249.6 168.0,247.8 168.5,246.1 169.0,243.8 169.5,241.9 170.0,239.1 171.5,233.4 173.0,227.7 174.5,222.4 176.0,217.0 177.5,212.3 179.0,208.4 180.5,204.5 182.0,199.7 183.5,196.4 185.0,192.3 186.5,188.3 188.0,184.3 189.5,180.9 191.0,177.6 192.5,173.8 194.0,170.1 195.5,167.3 197.0,163.6 198.5,159.8 200.0,156.9 201.5,153.9 203.0,151.0 204.5,147.3 206.0,145.0 207.5,142.7 209.0,140.6 210.5,138.0 212.0,135.9 213.5,132.9 215.0,130.7 216.5,129.0 218.0,128.2 219.5,126.7 221.0,124.6 222.5,122.7 224.0,121.0 225.5,119.0 227.0,117.9 228.5,116.5 230.0,115.5 231.5,114.2 233.0,112.4 234.5,110.2 236.0,108.6 237.5,107.1 239.0,106.6 240.5,105.0 242.0,104.4 243.5,103.4 245.0,101.9 246.5,100.5 248.0,99.6 249.5,98.7 251.0,97.3 252.5,95.9 254.0,95.1 255.5,94.6 257.0,94.5 258.5,95.0 260.0,94.6 261.5,93.9 263.0,92.8 264.5,92.2 266.0,90.9 267.5,90.0 269.0,88.9 270.5,88.4 272.0,87.2 273.5,86.2 275.0,85.6 276.5,84.7 278.0,84.6 279.5,84.2 281.0,84.4 282.5,83.8 284.0,83.7 285.5,82.9 287.0,82.2 288.5,80.6 290.0,79.4 291.5,78.1 293.0,79.2 294.5,79.0 296.0,79.8 297.5,79.4 299.0,79.7 300.0,80.0 301.6,79.8 303.2,80.1 304.8,80.1 306.4,79.2 308.0,78.0 309.6,76.8 311.2,75.9 312.8,75.3 314.4,74.1 316.0,75.2 317.6,75.3 319.2,75.6 320.8,73.9 322.4,73.9 324.0,73.5 325.6,73.4 327.2,72.5 328.8,71.7 330.4,71.3 332.0,71.8 333.6,73.3 335.2,73.9 336.8,74.4 338.4,73.4 340.0,72.7 341.6,70.9 343.2,70.5 344.8,69.3 346.4,69.6 348.0,70.2 349.6,71.2 351.2,71.8 352.8,70.6 354.4,69.6 356.0,68.6 357.6,68.5 359.2,69.6 360.8,70.6 362.4,70.3 364.0,69.4 365.6,68.2 367.2,68.3 368.8,67.7 370.4,67.7 372.0,67.9 373.6,68.5 375.2,67.8 376.8,67.4 378.4,66.3 380.0,67.2 381.6,66.6 383.2,67.2 384.8,66.4 386.4,66.5 388.0,66.1 389.6,65.3 391.2,66.3 392.8,66.9 394.4,67.8 396.0,67.9 397.6,67.6 399.2,67.6 400.8,66.5 402.4,67.1 404.0,67.0 405.6,67.0 407.2,66.2 408.8,66.0 410.4,66.4 412.0,65.4 413.6,65.1 415.2,64.3 416.8,65.1 418.4,64.1 420.0,64.6 421.6,64.2 423.2,65.0 424.8,64.4 426.4,63.9 428.0,63.7 429.6,63.0 431.2,63.3 432.8,63.3 434.4,64.1 436.0,64.6 437.6,64.6 439.2,65.6 440.8,65.7 442.4,65.1 444.0,63.7 445.6,63.1 447.2,63.6 448.8,63.6 450.4,63.4 452.0,64.3 453.6,64.5 455.2,64.7 456.8,63.8 458.4,63.6 460.0,64.4 461.6,64.7 463.2,65.3 464.8,63.1 466.4,63.0 468.0,62.9 469.6,65.4 471.2,65.2 472.8,63.8 474.4,63.1 476.0,62.7 477.6,62.6 479.2,62.0 480.8,62.8 482.4,64.2 484.0,64.8 485.6,63.8 487.2,64.4 488.8,63.4 490.4,63.9 492.0,61.9 493.6,63.1 495.2,63.3 496.8,64.4 498.4,63.8 500.0,63.5 501.6,63.2 503.2,62.2 504.8,62.7 506.4,63.0 508.0,63.7 509.6,63.2 511.2,62.9 512.8,63.8 514.4,64.0 516.0,63.9 517.6,62.8 519.2,61.8 520.8,61.5 522.4,61.8 524.0,62.4 525.6,62.7 527.2,63.0 528.8,63.3 530.4,63.4 532.0,63.3 533.6,63.2 535.2,63.0 536.8,62.9 538.4,61.9 540.0,62.6 541.6,61.7 543.2,62.9 544.8,62.3 546.4,63.5 548.0,63.0 549.6,62.6 551.2,62.5 552.8,62.6 554.4,63.1 556.0,62.6 557.6,63.0 559.2,63.3 560.8,63.4 562.4,62.1 564.0,61.5 565.6,61.4 567.2,63.0 568.8,63.4 570.4,63.3 572.0,63.0 573.6,62.7 575.2,62.8 576.8,62.2 578.4,61.5 580.0,62.0 581.6,62.1 583.2,62.7 584.8,61.7 586.4,61.6 588.0,62.4 589.6,62.6 591.2,62.0 592.8,61.5 594.4,61.0 596.0,60.4 597.6,60.0 599.2,60.4 600.8,61.4 602.4,61.3 604.0,61.8 605.6,61.8 607.2,61.8 608.8,61.4 610.4,61.8 612.0,62.6 613.6,63.2 615.2,63.2 616.8,61.1 618.4,60.2 620.0,59.7 621.6,61.4 623.2,61.1 624.8,61.9 626.4,62.0 628.0,62.5 629.6,61.8 631.2,61.5 632.8,61.4 634.4,61.6 636.0,61.5 637.6,61.2 639.2,60.6 640.8,60.8 642.4,61.0 644.0,61.9 645.6,61.4 647.2,62.8 648.8,62.6 650.4,62.7 652.0,61.8 653.6,62.0 655.2,62.3 656.8,61.7 658.4,61.2 660.0,62.2 661.6,62.1 663.2,62.3 664.8,61.3 666.4,62.0 668.0,61.5 669.6,61.3 671.2,61.9 672.8,62.4 674.4,62.0 676.0,62.3 677.6,61.3 679.2,62.1 680.8,61.5 682.4,62.7 684.0,62.5 685.6,62.9 687.2,62.3 688.8,62.6 690.4,62.3 692.0,63.3 693.6,62.5 695.2,62.9 696.8,62.1 698.4,62.5 700.0,61.6 701.6,61.6 703.2,60.8 704.8,60.4 706.4,60.5 708.0,60.5 709.6,61.9 711.2,61.4 712.8,62.2 714.4,61.6 716.0,61.9 717.6,61.6 719.2,61.4 720.8,61.1 722.4,61.6 724.0,62.1 725.6,62.5 727.2,61.9 728.8,61.1 729.2,59.6 731.0,61.5 733.0,63.2 735.0,65.0 737.0,66.6 739.0,68.2 741.0,69.9 743.0,71.5 745.0,72.9 747.0,74.1" stroke="#17a0e6"/>
<path d="M51.5,420.9 53.5,421.6 55.5,421.9 57.5,422.0 59.5,421.8 61.5,421.6 63.5,421.6 65.5,422.1 67.5,421.3 69.5,421.2 71.5,420.8 73.5,422.1 75.5,421.8 77.5,421.9 79.5,421.8 81.5,422.1 83.5,421.4 85.5,421.0 87.5,420.8 89.5,421.7 91.5,421.5 93.5,422.6 95.5,422.5 97.5,422.5 99.5,421.8 101.5,421.4 103.5,421.9 105.5,422.6 107.5,422.9 109.5,423.2 111.5,422.4 113.5,422.6 115.5,423.1 117.5,423.0 119.5,423.3 121.5,423.0 123.5,422.9 125.5,422.0 127.5,421.3 129.5,422.3 131.5,422.7 133.5,423.0 135.5,423.0 137.5,423.2 139.5,423.4 141.5,423.1 143.5,423.4 145.5,423.1 147.5,423.9 148.0,423.4 148.5,423.4 149.0,423.0 149.5,423.3 150.0,423.0 150.5,418.4 151.0,406.2 151.5,391.5 152.0,377.6 152.5,364.9 153.0,355.0 153.5,346.2 154.0,339.0 154.5,332.1 155.0,325.8 155.5,319.6 156.0,314.0 156.5,309.2 157.0,305.1 157.5,301.8 158.0,298.8 158.5,295.9 159.0,292.9 159.5,290.0 160.0,287.1 160.5,284.4 161.0,281.8 161.5,279.0 162.0,276.0 162.5,273.2 163.0,270.8 163.5,268.2 164.0,265.8 164.5,263.4 165.0,261.5 165.5,259.0 166.0,257.0 166.5,255.2 167.0,253.3 167.5,251.0 168.0,248.9 168.5,246.7 169.0,245.0 169.5,242.5 170.0,240.7 171.5,234.1 173.0,228.8 174.5,223.3 176.0,218.5 177.5,214.0 179.0,209.9 180.5,205.3 182.0,201.2 183.5,196.5 185.0,193.0 186.5,188.2 188.0,184.9 189.5,180.8 191.0,177.4 192.5,173.7 194.0,169.9 195.5,166.2 197.0,163.2 198.5,160.3 200.0,157.0 201.5,153.4 203.0,150.3 204.5,148.0 206.0,145.8 207.5,143.5 209.0,140.7 210.5,138.2 212.0,135.2 213.5,131.8 215.0,129.6 216.5,127.4 218.0,126.3 219.5,123.8 221.0,123.1 222.5,121.1 224.0,120.2 225.5,118.0 227.0,116.4 228.5,113.9 230.0,112.9 231.5,112.3 233.0,112.1 234.5,111.5 236.0,110.1 237.5,108.7 239.0,106.5 240.5,105.3 242.0,103.9 243.5,102.4 245.0,102.3 246.5,100.6 248.0,100.2 249.5,98.5 251.0,98.6 252.5,97.1 254.0,95.9 255.5,94.8 257.0,94.0 258.5,93.3 260.0,92.5 261.5,92.1 263.0,91.7 264.5,90.7 266.0,90.5 267.5,89.2 269.0,89.3 270.5,88.5 272.0,88.3 273.5,87.1 275.0,86.1 276.5,85.0 278.0,85.0 279.5,85.3 281.0,85.7 282.5,84.9 284.0,84.1 285.5,82.3 287.0,81.0 288.5,80.1 290.0,80.1 291.5,80.0 293.0,79.2 294.5,79.4 296.0,79.3 297.5,79.0 299.0,79.5 300.0,79.7 301.6,80.0 303.2,78.9 304.8,78.0 306.4,78.6 308.0,77.2 309.6,76.6 311.2,75.4 312.8,75.5 314.4,76.5 316.0,75.5 317.6,75.2 319.2,74.3 320.8,75.1 322.4,75.7 324.0,75.5 325.6,76.0 327.2,75.0 328.8,74.7 330.4,73.8 332.0,73.7 333.6,73.2 335.2,72.3 336.8,71.9 338.4,71.3 340.0,71.1 341.6,70.4 343.2,70.9 344.8,70.2 346.4,71.8 348.0,72.3 349.6,73.4 351.2,72.1 352.8,70.8 354.4,70.7 356.0,70.7 357.6,71.1 359.2,70.0 360.8,70.3 362.4,69.5 364.0,69.7 365.6,68.2 367.2,68.1 368.8,68.2 370.4,68.7 372.0,68.7 373.6,68.7 375.2,68.7 376.8,69.4 378.4,67.7 380.0,67.9 381.6,67.4 383.2,67.8 384.8,66.7 386.4,66.8 388.0,66.9 389.6,67.1 391.2,66.9 392.8,67.2 394.4,67.6 396.0,66.8 397.6,67.0 399.2,67.2 400.8,67.7 402.4,66.4 404.0,66.1 405.6,65.9 407.2,66.4 408.8,66.7 410.4,65.7 412.0,67.0 413.6,66.0 415.2,67.5 416.8,66.5 418.4,66.1 420.0,65.3 421.6,65.4 423.2,66.2 424.8,66.6 426.4,66.0 428.0,65.9 429.6,65.7 431.2,65.9 432.8,65.2 434.4,64.3 436.0,64.7 437.6,65.5 439.2,65.5 440.8,64.4 442.4,64.6 444.0,64.2 445.6,64.9 447.2,63.8 448.8,63.7 450.4,63.6 452.0,63.8 453.6,65.4 455.2,66.4 456.8,66.3 458.4,66.1 460.0,65.4 461.6,65.2 463.2,64.3 464.8,64.5 466.4,64.5 468.0,64.9 469.6,63.9 471.2,64.0 472.8,63.7 474.4,64.2 476.0,64.8 477.6,64.9 479.2,63.8 480.8,63.2 482.4,62.6 484.0,62.9 485.6,63.5 487.2,65.3 488.8,65.8 490.4,64.6 492.0,63.8 493.6,62.5 495.2,62.7 496.8,63.0 498.4,64.4 500.0,64.1 501.6,62.5 503.2,62.5 504.8,63.2 506.4,63.7 508.0,63.4 509.6,63.1 511.2,62.5 512.8,62.6 514.4,62.6 516.0,63.0 517.6,61.9 519.2,62.3 520.8,62.4 522.4,63.4 524.0,63.1 525.6,64.0 527.2,63.5 528.8,63.3 530.4,61.7 532.0,61.4 533.6,62.0 535.2,64.5 536.8,64.4 538.4,63.5 540.0,62.2 541.6,63.0 543.2,63.1 544.8,63.0 546.4,62.0 548.0,62.1 549.6,62.5 551.2,64.1 552.8,64.1 554.4,63.6 556.0,63.0 557.6,63.6 559.2,63.9 560.8,63.3 562.4,62.9 564.0,63.2 565.6,63.2 567.2,62.3 568.8,62.1 570.4,62.6 572.0,63.7 573.6,63.5 575.2,63.0 576.8,62.3 578.4,61.7 580.0,61.6 581.6,61.5 583.2,61.8 584.8,62.8 586.4,62.4 588.0,62.6 589.6,61.8 591.2,63.1 592.8,63.2 594.4,63.3 596.0,63.0 597.6,62.9 599.2,62.8 600.8,63.2 602.4,63.5 604.0,64.5 605.6,64.3 607.2,64.4 608.8,63.6 610.4,62.5 612.0,62.4 613.6,62.4 615.2,63.2 616.8,62.9 618.4,62.5 620.0,61.7 621.6,62.0 623.2,63.0 624.8,63.3 626.4,63.2 628.0,63.2 629.6,62.9 631.2,62.6 632.8,61.3 634.4,62.3 636.0,62.6 637.6,62.9 639.2,61.5 640.8,61.3 642.4,62.0 644.0,62.6 645.6,62.5 647.2,62.3 648.8,61.9 650.4,62.1 652.0,62.1 653.6,62.3 655.2,61.8 656.8,61.7 658.4,62.0 660.0,62.3 661.6,62.3 663.2,62.4 664.8,62.1 666.4,61.6 668.0,61.7 669.6,62.7 671.2,63.7 672.8,63.1 674.4,63.0 676.0,62.7 677.6,63.1 679.2,62.8 680.8,62.9 682.4,63.7 684.0,63.0 685.6,62.9 687.2,61.9 688.8,62.3 690.4,62.6 692.0,63.0 693.6,62.6 695.2,61.9 696.8,61.6 698.4,61.4 700.0,62.0 701.6,61.8 703.2,62.6 704.8,62.3 706.4,63.2 708.0,63.2 709.6,62.8 711.2,62.8 712.8,62.5 714.4,62.4 716.0,60.9 717.6,61.7 719.2,62.1 720.8,62.9 722.4,62.3 724.0,61.8 725.6,60.9 727.2,60.2 728.8,60.4 729.2,60.8 731.0,62.7 733.0,64.1 735.0,65.5 737.0,66.6 739.0,68.6 741.0,70.0 743.0,71.9 745.0,73.4 747.0,75.2" stroke="#17a0e6"/>
<path d="M51.5,421.7 53.5,421.8 55.5,422.0 57.5,421.5 59.5,420.9 61.5,421.1 63.5,422.0 65.5,422.3 67.5,422.6 69.5,421.7 71.5,422.3 73.5,422.3 75.5,422.5 77.5,421.6 79.5,421.3 81.5,421.9 83.5,422.4 85.5,422.9 87.5,422.3 89.5,421.8 91.5,421.8 93.5,422.1 95.5,422.6 97.5,422.3 99.5,422.4 101.5,422.4 103.5,422.7 105.5,422.6 107.5,422.0 109.5,421.9 111.5,421.8 113.5,422.4 115.5,422.6 117.5,422.7 119.5,423.2 121.5,423.4 123.5,423.7 125.5,423.0 127.5,422.4 129.5,422.7 131.5,423.2 133.5,423.2 135.5,422.9 137.5,423.2 139.5,423.6 141.5,423.9 143.5,423.5 145.5,423.4 147.5,423.1 148.0,423.4 148.5,422.8 149.0,422.8 149.5,422.4 150.0,423.6 150.5,419.1 151.0,407.5 151.5,392.5 152.0,378.2 152.5,365.4 153.0,355.1 153.5,346.7 154.0,338.8 154.5,331.9 155.0,325.7 155.5,320.4 156.0,315.0 156.5,310.3 157.0,306.2 157.5,302.4 158.0,299.0 158.5,295.6 159.0,292.9 159.5,289.9 160.0,287.2 160.5,284.6 161.0,282.1 161.5,279.5 162.0,276.7 162.5,274.0 163.0,271.5 163.5,269.1 164.0,266.7 164.5,264.4 165.0,261.7 165.5,259.6 166.0,257.6 166.5,255.7 167.0,253.1 167.5,250.9 168.0,248.7 168.5,246.3 169.0,243.9 169.5,242.1 170.0,240.9 171.5,235.6 173.0,230.2 174.5,224.9 176.0,218.9 177.5,213.5 179.0,208.8 180.5,205.2 182.0,200.9 183.5,196.4 185.0,192.2 186.5,187.9 188.0,183.4 189.5,179.3 191.0,176.7 192.5,173.9 194.0,169.5 195.5,166.0 197.0,162.4 198.5,160.6 200.0,157.5 201.5,155.3 203.0,152.4 204.5,149.4 206.0,147.0 207.5,144.7 209.0,142.7 210.5,140.5 212.0,137.2 213.5,135.2 215.0,132.5 216.5,130.3 218.0,127.8 219.5,125.5 221.0,123.8 222.5,122.1 224.0,121.2 225.5,119.7 227.0,118.1 228.5,115.4 230.0,114.1 231.5,113.2 233.0,112.9 234.5,111.8 236.0,109.7 237.5,107.6 239.0,106.2 240.5,104.7 242.0,103.4 243.5,102.9 245.0,102.0 246.5,102.5 248.0,100.4 249.5,100.1 251.0,97.8 252.5,97.7 254.0,96.1 255.5,95.9 257.0,94.9 258.5,94.5 260.0,93.9 261.5,94.0 263.0,93.2 264.5,92.7 266.0,91.4 267.5,91.0 269.0,91.0 270.5,89.3 272.0,88.4 273.5,85.9 275.0,86.2 276.5,85.9 278.0,88.1 279.5,87.9 281.0,88.4 282.5,86.7 284.0,85.8 285.5,84.7 287.0,84.4 288.5,84.3 290.0,83.7 291.5,82.7 293.0,81.5 294.5,80.6 296.0,80.1 297.5,80.8 299.0,80.3 300.0,79.8 301.6,79.1 303.2,79.1 304.8,79.2 306.4,79.0 308.0,78.8 309.6,77.4 311.2,76.5 312.8,76.3 314.4,75.9 316.0,76.2 317.6,75.5 319.2,75.6 320.8,75.5 322.4,75.2 324.0,74.9 325.6,74.0 327.2,74.1 328.8,75.6 330.4,74.7 332.0,74.4 333.6,72.7 335.2,74.0 336.8,73.6 338.4,72.3 340.0,72.3 341.6,71.7 343.2,72.7 344.8,71.2 346.4,71.0 348.0,70.6 349.6,71.5 351.2,72.2 352.8,72.0 354.4,71.7 356.0,70.9 357.6,71.1 359.2,70.8 360.8,71.1 362.4,70.6 364.0,70.3 365.6,70.0 367.2,70.2 368.8,69.7 370.4,70.3 372.0,69.9 373.6,70.5 375.2,69.7 376.8,70.3 378.4,68.8 380.0,69.6 381.6,68.8 383.2,69.1 384.8,68.1 386.4,69.1 388.0,69.9 389.6,69.1 391.2,67.7 392.8,68.0 394.4,67.8 396.0,67.8 397.6,67.0 399.2,68.6 400.8,68.5 402.4,69.2 404.0,67.7 405.6,67.3 407.2,67.1 408.8,67.7 410.4,67.1 412.0,66.9 413.6,66.8 415.2,67.3 416.8,67.0 418.4,66.7 420.0,66.7 421.6,66.3 423.2,65.7 424.8,65.8 426.4,65.4 428.0,65.6 429.6,64.9 431.2,65.6 432.8,65.5 434.4,65.6 436.0,66.0 437.6,66.9 439.2,68.0 440.8,66.8 442.4,66.5 444.0,65.9 445.6,66.5 447.2,65.5 448.8,65.3 450.4,66.0 452.0,66.5 453.6,66.3 455.2,65.2 456.8,64.7 458.4,65.1 460.0,66.3 461.6,66.0 463.2,65.6 464.8,64.5 466.4,64.6 468.0,64.8 469.6,65.2 471.2,64.8 472.8,64.1 474.4,64.4 476.0,65.2 477.6,65.9 479.2,65.0 480.8,64.7 482.4,64.6 484.0,64.6 485.6,64.2 487.2,63.9 488.8,64.6 490.4,64.6 492.0,65.1 493.6,64.9 495.2,65.0 496.8,64.5 498.4,64.1 500.0,64.8 501.6,65.1 503.2,64.4 504.8,63.4 506.4,63.6 508.0,64.3 509.6,65.1 511.2,64.7 512.8,65.4 514.4,64.6 516.0,64.9 517.6,63.8 519.2,64.7 520.8,64.8 522.4,64.5 524.0,64.3 525.6,63.5 527.2,64.0 528.8,63.8 530.4,63.4 532.0,63.1 533.6,63.4 535.2,64.3 536.8,64.4 538.4,63.4 540.0,64.1 541.6,64.9 543.2,65.7 544.8,64.1 546.4,63.3 548.0,63.2 549.6,63.2 551.2,64.3 552.8,64.2 554.4,64.8 556.0,63.5 557.6,63.0 559.2,62.4 560.8,63.0 562.4,63.3 564.0,63.6 565.6,63.6 567.2,63.8 568.8,64.6 570.4,64.4 572.0,63.8 573.6,63.0 575.2,63.8 576.8,64.0 578.4,64.1 580.0,63.2 581.6,63.6 583.2,63.7 584.8,63.5 586.4,63.2 588.0,63.5 589.6,64.4 591.2,64.9 592.8,64.9 594.4,64.2 596.0,63.5 597.6,63.6 599.2,63.2 600.8,63.3 602.4,61.9 604.0,62.3 605.6,62.0 607.2,62.3 608.8,62.7 610.4,62.7 612.0,63.1 613.6,62.7 615.2,62.7 616.8,63.6 618.4,63.4 620.0,63.9 621.6,62.5 623.2,62.5 624.8,62.3 626.4,62.8 628.0,62.7 629.6,62.9 631.2,63.8 632.8,64.0 634.4,63.9 636.0,62.9 637.6,64.2 639.2,65.0 640.8,65.5 642.4,64.6 644.0,63.5 645.6,63.1 647.2,62.9 648.8,63.3 650.4,62.9 652.0,62.4 653.6,62.6 655.2,63.2 656.8,62.5 658.4,62.3 660.0,62.8 661.6,63.5 663.2,63.5 664.8,62.2 666.4,62.9 668.0,62.3 669.6,62.4 671.2,61.8 672.8,63.5 674.4,63.8 676.0,63.3 677.6,62.4 679.2,62.8 680.8,64.2 682.4,63.3 684.0,62.4 685.6,61.5 687.2,62.3 688.8,63.2 690.4,63.9 692.0,63.0 693.6,62.4 695.2,61.8 696.8,62.9 698.4,63.5 700.0,63.4 701.6,62.5 703.2,62.7 704.8,63.3 706.4,65.1 708.0,64.6 709.6,64.9 711.2,63.0 712.8,62.8 714.4,61.7 716.0,62.1 717.6,61.9 719.2,62.0 720.8,62.1 722.4,62.2 724.0,62.5 725.6,62.2 727.2,62.1 728.8,62.4 729.2,62.6 731.0,63.5 733.0,64.8 735.0,66.3 737.0,67.9 739.0,69.4 741.0,71.1 743.0,72.8 745.0,74.7 747.0,76.0" stroke="#17a0e6"/>
<path d="M51.5,423.1 53.5,423.6 55.5,423.4 57.5,423.2 59.5,423.0 61.5,422.5 63.5,422.7 65.5,422.0 67.5,421.7 69.5,422.2 71.5,422.8 73.5,423.4 75.5,423.0 77.5,423.0 79.5,422.9 81.5,422.8 83.5,422.4 85.5,422.6 87.5,423.2 89.5,423.5 91.5,423.4 93.5,423.6 95.5,424.6 97.5,424.4 99.5,424.4 101.5,424.5 103.5,424.9 105.5,425.2 107.5,423.7 109.5,424.2 111.5,423.7 113.5,424.0 115.5,423.8 117.5,424.2 119.5,425.3 121.5,425.5 123.5,425.1 125.5,424.5 127.5,424.0 129.5,424.0 131.5,424.5 133.5,424.5 135.5,424.6 137.5,424.8 139.5,425.1 141.5,425.9 143.5,426.4 145.5,425.9 147.5,425.0 148.0,423.8 148.5,423.8 149.0,424.2 149.5,424.3 150.0,424.7 150.5,419.2 151.0,407.1 151.5,392.2 152.0,378.1 152.5,365.4 153.0,355.4 153.5,346.9 154.0,339.3 154.5,332.3 155.0,326.1 155.5,320.2 156.0,315.0 156.5,310.1 157.0,305.8 157.5,302.3 158.0,298.9 158.5,296.4 159.0,293.4 159.5,290.5 160.0,287.3 160.5,284.5 161.0,281.9 161.5,279.3 162.0,276.8 162.5,274.0 163.0,271.6 163.5,269.1 164.0,266.6 164.5,264.2 165.0,261.7 165.5,259.3 166.0,256.8 166.5,254.8 167.0,253.3 167.5,251.2 168.0,249.5 168.5,247.6 169.0,245.9 169.5,243.9 170.0,241.7 171.5,235.7 173.0,230.0 174.5,225.0 176.0,220.3 177.5,215.2 179.0,209.7 180.5,205.3 182.0,201.2 183.5,197.1 185.0,192.8 186.5,189.0 188.0,185.7 189.5,182.3 191.0,178.8 192.5,174.6 194.0,170.7 195.5,167.2 197.0,165.1 198.5,162.8 200.0,158.6 201.5,155.1 203.0,151.9 204.5,150.7 206.0,148.8 207.5,145.4 209.0,142.2 210.5,138.4 212.0,136.9 213.5,134.2 215.0,133.1 216.5,131.1 218.0,130.0 219.5,126.4 221.0,123.8 222.5,122.2 224.0,120.8 225.5,119.4 227.0,117.4 228.5,117.0 230.0,115.8 231.5,114.6 233.0,112.6 234.5,111.1 236.0,109.7 237.5,109.0 239.0,107.7 240.5,107.2 242.0,104.9 243.5,104.5 245.0,102.9 246.5,103.3 248.0,101.8 249.5,101.3 251.0,100.6 252.5,99.4 254.0,98.2 255.5,96.6 257.0,96.2 258.5,94.6 260.0,93.8 261.5,92.9 263.0,92.6 264.5,91.9 266.0,90.6 267.5,91.0 269.0,90.7 270.5,91.7 272.0,90.0 273.5,88.7 275.0,87.3 276.5,86.4 278.0,86.6 279.5,85.6 281.0,85.7 282.5,85.2 284.0,85.1 285.5,85.7 287.0,85.4 288.5,84.4 290.0,83.5 291.5,82.1 293.0,82.4 294.5,80.9 296.0,80.8 297.5,81.0 299.0,80.9 300.0,80.8 301.6,79.5 303.2,79.3 304.8,79.9 306.4,79.3 308.0,78.5 309.6,77.7 311.2,77.2 312.8,77.3 314.4,77.3 316.0,77.7 317.6,77.4 319.2,76.2 320.8,75.5 322.4,75.2 324.0,75.3 325.6,76.1 327.2,76.6 328.8,76.0 330.4,74.8 332.0,74.4 333.6,73.6 335.2,73.5 336.8,72.8 338.4,72.9 340.0,72.5 341.6,72.6 343.2,72.1 344.8,72.0 346.4,71.3 348.0,71.9 349.6,71.5 351.2,72.2 352.8,71.8 354.4,72.2 356.0,71.3 357.6,71.0 359.2,70.5 360.8,71.1 362.4,71.3 364.0,71.6 365.6,71.4 367.2,70.8 368.8,71.0 370.4,70.4 372.0,70.2 373.6,70.1 375.2,69.3 376.8,69.9 378.4,69.0 380.0,69.8 381.6,70.0 383.2,70.6 384.8,70.0 386.4,69.2 388.0,68.6 389.6,68.2 391.2,67.6 392.8,67.7 394.4,68.4 396.0,68.0 397.6,67.9 399.2,67.8 400.8,68.6 402.4,68.0 404.0,68.2 405.6,67.5 407.2,68.2 408.8,68.4 410.4,67.9 412.0,67.6 413.6,66.9 415.2,67.9 416.8,67.4 418.4,67.0 420.0,66.1 421.6,66.5 423.2,66.9 424.8,67.1 426.4,66.6 428.0,66.0 429.6,66.3 431.2,66.7 432.8,66.8 434.4,66.8 436.0,66.0 437.6,64.7 439.2,64.9 440.8,66.2 442.4,66.8 444.0,66.1 445.6,65.5 447.2,66.6 448.8,67.2 450.4,67.6 452.0,67.1 453.6,66.9 455.2,66.4 456.8,66.2 458.4,66.6 460.0,66.6 461.6,67.2 463.2,66.4 464.8,66.6 466.4,65.6 468.0,65.9 469.6,64.1 471.2,64.1 472.8,64.2 474.4,65.2 476.0,65.8 477.6,64.6 479.2,65.5 480.8,65.7 482.4,66.4 484.0,65.9 485.6,65.7 487.2,66.4 488.8,66.2 490.4,65.3 492.0,64.5 493.6,65.0 495.2,65.9 496.8,65.8 498.4,65.5 500.0,65.2 501.6,65.7 503.2,64.6 504.8,64.1 506.4,64.1 508.0,64.7 509.6,65.3 511.2,65.9 512.8,65.8 514.4,65.8 516.0,64.5 517.6,64.4 519.2,64.2 520.8,63.7 522.4,63.0 524.0,63.7 525.6,64.3 527.2,65.8 528.8,65.2 530.4,65.3 532.0,65.1 533.6,65.3 535.2,64.7 536.8,64.9 538.4,64.1 540.0,64.8 541.6,65.4 543.2,65.9 544.8,66.6 546.4,65.1 548.0,65.4 549.6,64.6 551.2,64.9 552.8,64.2 554.4,63.7 556.0,63.7 557.6,63.3 559.2,63.4 560.8,63.5 562.4,63.9 564.0,63.9 565.6,63.0 567.2,63.4 568.8,63.6 570.4,64.2 572.0,64.1 573.6,65.1 575.2,64.8 576.8,63.9 578.4,63.1 580.0,63.3 581.6,64.3 583.2,63.5 584.8,64.0 586.4,63.9 588.0,64.6 589.6,63.3 591.2,63.6 592.8,63.5 594.4,64.9 596.0,64.5 597.6,63.9 599.2,63.3 600.8,63.1 602.4,63.9 604.0,63.3 605.6,63.6 607.2,63.3 608.8,63.8 610.4,63.6 612.0,63.3 613.6,63.3 615.2,63.3 616.8,63.7 618.4,63.6 620.0,62.8 621.6,62.7 623.2,63.5 624.8,64.7 626.4,65.0 628.0,64.5 629.6,64.2 631.2,63.2 632.8,63.4 634.4,64.1 636.0,65.0 637.6,64.8 639.2,64.5 640.8,64.2 642.4,64.1 644.0,63.9 645.6,64.1 647.2,63.5 648.8,63.2 650.4,63.3 652.0,63.6 653.6,62.7 655.2,62.5 656.8,61.6 658.4,63.6 660.0,63.9 661.6,65.3 663.2,64.1 664.8,63.2 666.4,62.8 668.0,63.1 669.6,63.2 671.2,63.4 672.8,63.7 674.4,64.4 676.0,63.8 677.6,62.4 679.2,62.1 680.8,62.3 682.4,63.5 684.0,64.3 685.6,65.4 687.2,65.3 688.8,65.0 690.4,65.0 692.0,64.9 693.6,64.5 695.2,64.1 696.8,64.1 698.4,63.7 700.0,63.0 701.6,63.0 703.2,62.9 704.8,63.6 706.4,63.5 708.0,64.5 709.6,64.6 711.2,64.2 712.8,64.0 714.4,63.3 716.0,64.5 717.6,64.2 719.2,64.4 720.8,64.0 722.4,63.3 724.0,63.2 725.6,62.8 727.2,62.8 728.8,62.7 729.2,62.0 731.0,63.8 733.0,65.1 735.0,66.9 737.0,68.5 739.0,70.4 741.0,71.7 743.0,73.7 745.0,75.1 747.0,76.8" stroke="#17a0e6"/>
<path d="M51.5,423.2 53.5,423.1 55.5,422.9 57.5,422.8 59.5,422.6 61.5,422.6 63.5,422.7 65.5,422.5 67.5,423.1 69.5,422.8 71.5,423.2 73.5,423.0 75.5,423.4 77.5,423.6 79.5,423.5 81.5,423.6 83.5,424.0 85.5,424.1 87.5,423.6 89.5,423.1 91.5,423.0 93.5,423.5 95.5,424.0 97.5,424.4 99.5,424.7 101.5,424.4 103.5,424.2 105.5,423.7 107.5,424.5 109.5,424.0 111.5,424.2 113.5,423.8 115.5,424.5 117.5,425.2 119.5,425.5 121.5,425.8 123.5,424.8 125.5,424.6 127.5,424.2 129.5,424.6 131.5,424.5 133.5,424.5 135.5,424.8 137.5,425.3 139.5,425.8 141.5,425.7 143.5,424.6 145.5,424.7 147.5,425.0 148.0,425.6 148.5,425.1 149.0,424.9 149.5,424.8 150.0,425.1 150.5,419.4 151.0,407.1 151.5,392.0 152.0,377.9 152.5,365.3 153.0,355.3 153.5,346.7 154.0,339.3 154.5,332.3 155.0,326.4 155.5,320.6 156.0,315.2 156.5,310.1 157.0,305.6 157.5,302.0 158.0,298.9 158.5,296.5 159.0,293.9 159.5,290.9 160.0,288.0 160.5,285.1 161.0,282.5 161.5,279.8 162.0,277.3 162.5,274.7 163.0,272.1 163.5,269.5 164.0,267.1 164.5,264.8 165.0,262.4 165.5,260.2 166.0,257.8 166.5,255.6 167.0,253.8 167.5,251.9 168.0,249.6 168.5,247.5 169.0,245.4 169.5,243.8 170.0,241.9 171.5,236.0 173.0,230.4 174.5,224.7 176.0,219.7 177.5,215.5 179.0,211.4 180.5,206.6 182.0,201.8 183.5,197.0 185.0,194.1 186.5,190.0 188.0,186.4 189.5,182.3 191.0,178.8 192.5,175.4 194.0,171.8 195.5,168.3 197.0,165.3 198.5,161.7 200.0,158.7 201.5,155.5 203.0,152.9 204.5,150.5 206.0,147.3 207.5,144.7 209.0,141.5 210.5,139.9 212.0,137.5 213.5,135.7 215.0,133.5 216.5,130.9 218.0,129.1 219.5,126.6 221.0,125.4 222.5,123.4 224.0,122.4 225.5,121.2 227.0,120.5 228.5,118.7 230.0,116.7 231.5,114.2 233.0,113.1 234.5,112.7 236.0,111.9 237.5,110.1 239.0,108.3 240.5,107.1 242.0,106.3 243.5,104.8 245.0,102.5 246.5,101.2 248.0,101.1 249.5,101.4 251.0,99.8 252.5,98.4 254.0,96.6 255.5,97.7 257.0,97.0 258.5,96.6 260.0,95.3 261.5,94.1 263.0,94.2 264.5,93.2 266.0,92.3 267.5,91.7 269.0,90.5 270.5,91.0 272.0,90.1 273.5,89.7 275.0,87.7 276.5,87.9 278.0,88.5 279.5,88.2 281.0,87.7 282.5,86.7 284.0,86.7 285.5,85.4 287.0,84.8 288.5,85.1 290.0,84.7 291.5,83.6 293.0,83.5 294.5,83.4 296.0,83.4 297.5,81.9 299.0,80.7 300.0,81.0 301.6,81.0 303.2,81.1 304.8,80.5 306.4,79.6 308.0,79.5 309.6,79.4 311.2,80.5 312.8,79.4 314.4,79.5 316.0,78.2 317.6,77.9 319.2,77.9 320.8,77.7 322.4,77.3 324.0,76.3 325.6,76.5 327.2,76.1 328.8,76.6 330.4,76.2 332.0,76.4 333.6,76.2 335.2,76.4 336.8,76.6 338.4,75.8 340.0,75.7 341.6,75.9 343.2,75.2 344.8,74.1 346.4,73.1 348.0,73.1 349.6,72.4 351.2,72.7 352.8,72.7 354.4,73.3 356.0,73.4 357.6,72.9 359.2,72.7 360.8,72.0 362.4,71.9 364.0,71.7 365.6,71.8 367.2,71.9 368.8,72.4 370.4,71.6 372.0,71.5 373.6,70.1 375.2,70.3 376.8,69.8 378.4,70.9 380.0,71.2 381.6,71.6 383.2,71.8 384.8,72.0 386.4,72.0 388.0,70.7 389.6,69.2 391.2,68.8 392.8,68.8 394.4,69.1 396.0,68.9 397.6,68.2 399.2,69.1 400.8,68.6 402.4,69.0 404.0,68.5 405.6,68.2 407.2,68.8 408.8,68.9 410.4,69.4 412.0,68.4 413.6,67.7 415.2,66.9 416.8,68.0 418.4,68.1 420.0,68.6 421.6,67.5 423.2,67.6 424.8,68.6 426.4,68.4 428.0,67.8 429.6,66.2 431.2,67.0 432.8,67.3 434.4,69.1 436.0,68.7 437.6,68.4 439.2,66.9 440.8,67.3 442.4,66.7 444.0,67.3 445.6,67.0 447.2,67.5 448.8,66.7 450.4,67.0 452.0,68.0 453.6,68.2 455.2,67.9 456.8,67.8 458.4,67.7 460.0,67.3 461.6,65.9 463.2,66.0 464.8,66.1 466.4,66.4 468.0,66.1 469.6,65.4 471.2,64.9 472.8,64.7 474.4,65.7 476.0,66.1 477.6,66.1 479.2,66.1 480.8,66.6 482.4,66.6 484.0,65.9 485.6,66.0 487.2,66.4 488.8,66.3 490.4,66.1 492.0,65.9 493.6,66.8 495.2,66.2 496.8,66.6 498.4,66.3 500.0,66.2 501.6,66.2 503.2,66.4 504.8,66.2 506.4,66.7 508.0,65.7 509.6,65.8 511.2,64.7 512.8,65.6 514.4,66.3 516.0,66.4 517.6,66.6 519.2,66.5 520.8,67.2 522.4,67.9 524.0,67.7 525.6,65.9 527.2,64.3 528.8,63.7 530.4,64.9 532.0,65.2 533.6,65.1 535.2,64.5 536.8,64.3 538.4,64.7 540.0,64.0 541.6,64.6 543.2,64.7 544.8,65.9 546.4,65.6 548.0,65.1 549.6,65.0 551.2,65.4 552.8,66.3 554.4,66.6 556.0,65.9 557.6,65.0 559.2,65.4 560.8,65.8 562.4,65.9 564.0,64.3 565.6,63.6 567.2,62.9 568.8,64.5 570.4,65.0 572.0,65.5 573.6,64.8 575.2,65.9 576.8,66.8 578.4,66.3 580.0,65.0 581.6,63.8 583.2,63.6 584.8,63.8 586.4,65.5 588.0,67.1 589.6,67.0 591.2,65.6 592.8,65.0 594.4,65.4 596.0,64.9 597.6,63.9 599.2,64.3 600.8,65.1 602.4,66.8 604.0,66.0 605.6,66.6 607.2,65.5 608.8,65.6 610.4,65.6 612.0,66.4 613.6,65.9 615.2,65.6 616.8,64.8 618.4,64.3 620.0,64.1 621.6,65.1 623.2,66.2 624.8,65.3 626.4,65.1 628.0,65.0 629.6,65.4 631.2,63.7 632.8,63.9 634.4,64.5 636.0,66.0 637.6,64.6 639.2,63.5 640.8,63.7 642.4,64.9 644.0,65.9 645.6,65.3 647.2,65.1 648.8,64.5 650.4,64.5 652.0,63.9 653.6,64.3 655.2,64.2 656.8,65.1 658.4,65.3 660.0,65.1 661.6,65.5 663.2,64.6 664.8,65.2 666.4,64.9 668.0,66.0 669.6,64.7 671.2,64.7 672.8,64.6 674.4,66.4 676.0,64.8 677.6,63.9 679.2,63.1 680.8,64.0 682.4,65.0 684.0,64.7 685.6,65.5 687.2,65.1 688.8,64.7 690.4,63.6 692.0,63.1 693.6,63.9 695.2,64.8 696.8,65.0 698.4,65.4 700.0,64.1 701.6,62.7 703.2,62.1 704.8,63.0 706.4,64.4 708.0,64.0 709.6,64.0 711.2,65.1 712.8,65.6 714.4,65.0 716.0,63.6 717.6,64.6 719.2,65.0 720.8,65.6 722.4,65.1 724.0,65.4 725.6,64.3 727.2,64.0 728.8,63.7 729.2,64.4 731.0,65.1 733.0,66.4 735.0,67.9 737.0,69.2 739.0,70.9 741.0,72.4 743.0,74.1 745.0,75.4 747.0,77.0" stroke="#17a0e6"/>
<path d="M51.5,421.1 53.5,421.7 55.5,421.1 57.5,421.7 59.5,421.5 61.5,422.0 63.5,422.1 65.5,423.0 67.5,423.3 69.5,423.2 71.5,422.2 73.5,422.3 75.5,422.5 77.5,423.3 79.5,423.2 81.5,422.8 83.5,422.4 85.5,422.5 87.5,423.0 89.5,422.8 91.5,422.8 93.5,422.5 95.5,423.2 97.5,423.0 99.5,423.4 101.5,423.5 103.5,423.7 105.5,422.9 107.5,422.9 109.5,422.6 111.5,422.8 113.5,422.8 115.5,422.3 117.5,423.0 119.5,423.4 121.5,423.8 123.5,423.8 125.5,423.4 127.5,423.9 129.5,423.1 131.5,423.2 133.5,423.1 135.5,423.8 137.5,423.7 139.5,424.0 141.5,423.9 143.5,424.2 145.5,424.3 147.5,424.3 148.0,424.5 148.5,424.1 149.0,424.2 149.5,423.7 150.0,423.7 150.5,419.1 151.0,407.2 151.5,392.4 152.0,378.4 152.5,365.6 153.0,355.5 153.5,347.1 154.0,339.6 154.5,332.5 155.0,326.2 155.5,320.5 156.0,315.6 156.5,310.6 157.0,306.5 157.5,302.6 158.0,299.5 158.5,296.6 159.0,293.7 159.5,290.8 160.0,287.9 160.5,285.5 161.0,282.6 161.5,280.1 162.0,277.2 162.5,274.6 163.0,272.3 163.5,269.7 164.0,267.7 164.5,264.8 165.0,262.9 165.5,260.8 166.0,258.4 166.5,256.0 167.0,253.6 167.5,252.0 168.0,250.1 168.5,247.7 169.0,245.5 169.5,243.6 170.0,242.0 171.5,236.5 173.0,231.1 174.5,225.9 176.0,221.6 177.5,216.7 179.0,211.8 180.5,206.4 182.0,202.0 183.5,197.6 185.0,193.5 186.5,189.1 188.0,184.5 189.5,180.7 191.0,177.9 192.5,176.0 194.0,172.7 195.5,169.2 197.0,165.7 198.5,163.2 200.0,160.2 201.5,156.9 203.0,154.6 204.5,151.7 206.0,148.8 207.5,144.6 209.0,142.4 210.5,140.1 212.0,139.5 213.5,136.9 215.0,135.3 216.5,132.7 218.0,131.7 219.5,128.7 221.0,127.2 222.5,124.6 224.0,123.5 225.5,121.0 227.0,119.2 228.5,117.6 230.0,115.2 231.5,114.2 233.0,113.1 234.5,112.4 236.0,110.9 237.5,110.7 239.0,110.2 240.5,108.9 242.0,107.6 243.5,105.9 245.0,105.0 246.5,102.9 248.0,102.3 249.5,101.8 251.0,101.4 252.5,100.3 254.0,99.0 255.5,98.0 257.0,97.4 258.5,96.6 260.0,95.5 261.5,94.6 263.0,94.0 264.5,93.1 266.0,93.0 267.5,92.3 269.0,91.7 270.5,90.6 272.0,89.9 273.5,89.6 275.0,89.4 276.5,89.0 278.0,88.2 279.5,88.3 281.0,88.3 282.5,88.3 284.0,87.6 285.5,86.8 287.0,86.2 288.5,85.4 290.0,86.0 291.5,86.2 293.0,86.3 294.5,84.4 296.0,83.8 297.5,84.0 299.0,84.1 300.0,84.1 301.6,83.2 303.2,82.9 304.8,82.8 306.4,82.0 308.0,81.6 309.6,80.2 311.2,81.0 312.8,80.6 314.4,80.7 316.0,79.8 317.6,79.1 319.2,78.8 320.8,77.5 322.4,77.4 324.0,77.0 325.6,77.4 327.2,77.0 328.8,76.7 330.4,76.0 332.0,75.8 333.6,75.6 335.2,76.0 336.8,76.1 338.4,76.2 340.0,75.0 341.6,74.8 343.2,73.9 344.8,74.3 346.4,73.9 348.0,74.1 349.6,73.4 351.2,72.9 352.8,74.0 354.4,74.1 356.0,74.1 357.6,73.4 359.2,73.6 360.8,74.1 362.4,72.9 364.0,72.0 365.6,72.9 367.2,73.4 368.8,73.6 370.4,72.0 372.0,72.3 373.6,71.8 375.2,71.7 376.8,71.1 378.4,71.8 380.0,71.7 381.6,71.3 383.2,70.5 384.8,69.1 386.4,69.7 388.0,69.3 389.6,70.2 391.2,70.4 392.8,70.8 394.4,71.2 396.0,70.2 397.6,70.6 399.2,70.3 400.8,70.0 402.4,70.3 404.0,70.0 405.6,69.6 407.2,68.7 408.8,69.0 410.4,69.0 412.0,69.5 413.6,69.5 415.2,70.9 416.8,70.2 418.4,70.1 420.0,68.2 421.6,68.3 423.2,67.9 424.8,68.8 426.4,68.9 428.0,68.8 429.6,68.2 431.2,68.0 432.8,68.1 434.4,68.6 436.0,69.1 437.6,69.3 439.2,69.6 440.8,68.4 442.4,67.6 444.0,66.9 445.6,67.4 447.2,68.1 448.8,68.5 450.4,68.7 452.0,68.2 453.6,68.4 455.2,68.2 456.8,68.0 458.4,67.8 460.0,68.1 461.6,68.9 463.2,68.6 464.8,68.7 466.4,67.7 468.0,67.1 469.6,66.7 471.2,65.6 472.8,66.2 474.4,66.7 476.0,67.9 477.6,67.6 479.2,67.6 480.8,67.5 482.4,68.0 484.0,68.5 485.6,68.9 487.2,68.8 488.8,68.0 490.4,67.7 492.0,67.4 493.6,67.2 495.2,67.5 496.8,66.6 498.4,66.4 500.0,66.2 501.6,66.5 503.2,66.6 504.8,65.9 506.4,66.5 508.0,66.9 509.6,67.9 511.2,67.9 512.8,67.1 514.4,66.6 516.0,66.6 517.6,67.5 519.2,66.4 520.8,66.3 522.4,64.7 524.0,66.1 525.6,66.1 527.2,67.1 528.8,67.2 530.4,67.2 532.0,66.6 533.6,66.3 535.2,66.7 536.8,66.9 538.4,66.8 540.0,65.6 541.6,66.2 543.2,65.9 544.8,66.1 546.4,65.4 548.0,65.2 549.6,65.4 551.2,66.2 552.8,66.9 554.4,67.7 556.0,67.8 557.6,67.0 559.2,66.5 560.8,66.5 562.4,68.0 564.0,67.1 565.6,65.7 567.2,64.9 568.8,65.3 570.4,65.5 572.0,65.5 573.6,65.3 575.2,64.6 576.8,64.4 578.4,64.9 580.0,66.2 581.6,66.7 583.2,66.7 584.8,66.2 586.4,65.5 588.0,64.6 589.6,64.5 591.2,65.3 592.8,66.3 594.4,67.5 596.0,66.9 597.6,65.8 599.2,65.2 600.8,65.8 602.4,66.0 604.0,64.9 605.6,64.5 607.2,65.3 608.8,65.6 610.4,65.3 612.0,64.6 613.6,64.6 615.2,64.1 616.8,64.5 618.4,64.9 620.0,65.2 621.6,63.9 623.2,64.9 624.8,64.7 626.4,65.9 628.0,64.5 629.6,65.1 631.2,64.5 632.8,65.0 634.4,64.8 636.0,65.9 637.6,65.3 639.2,65.1 640.8,64.6 642.4,66.1 644.0,65.7 645.6,65.9 647.2,64.6 648.8,65.4 650.4,65.6 652.0,66.0 653.6,65.9 655.2,65.7 656.8,65.4 658.4,65.2 660.0,64.2 661.6,64.3 663.2,64.1 664.8,64.7 666.4,65.2 668.0,65.8 669.6,66.1 671.2,66.3 672.8,65.0 674.4,64.9 676.0,64.4 677.6,65.5 679.2,64.6 680.8,64.9 682.4,65.5 684.0,66.6 685.6,66.3 687.2,66.0 688.8,66.0 690.4,66.8 692.0,67.1 693.6,66.7 695.2,65.9 696.8,65.4 698.4,65.5 700.0,65.2 701.6,65.4 703.2,65.0 704.8,64.9 706.4,64.7 708.0,64.7 709.6,65.0 711.2,63.8 712.8,64.4 714.4,64.5 716.0,65.5 717.6,65.3 719.2,65.4 720.8,65.1 722.4,65.6 724.0,65.1 725.6,65.5 727.2,65.2 728.8,65.0 729.2,64.6 731.0,65.2 733.0,67.0 735.0,68.5 737.0,70.0 739.0,71.6 741.0,73.4 743.0,75.0 745.0,76.5 747.0,77.9" stroke="#17a0e6"/>
<path d="M51.5,421.1 53.5,421.1 55.5,420.7 57.5,420.2 59.5,420.7 61.5,421.6 63.5,421.8 65.5,421.4 67.5,421.0 69.5,421.1 71.5,420.6 73.5,421.0 75.5,420.8 77.5,421.4 79.5,420.4 81.5,420.7 83.5,421.1 85.5,421.3 87.5,421.7 89.5,421.5 91.5,422.0 93.5,421.0 95.5,421.3 97.5,421.7 99.5,422.4 101.5,422.0 103.5,421.7 105.5,421.8 107.5,421.6 109.5,422.2 111.5,421.4 113.5,421.5 115.5,420.8 117.5,421.8 119.5,421.6 121.5,421.7 123.5,421.5 125.5,422.2 127.5,423.3 129.5,423.8 131.5,423.9 133.5,423.5 135.5,422.3 137.5,421.9 139.5,421.6 141.5,422.2 143.5,422.0 145.5,421.9 147.5,421.7 148.0,422.5 148.5,423.0 149.0,423.2 149.5,422.7 150.0,422.7 150.5,418.3 151.0,406.6 151.5,391.7 152.0,378.0 152.5,365.6 153.0,355.9 153.5,347.4 154.0,339.8 154.5,333.2 155.0,327.1 155.5,321.2 156.0,315.3 156.5,310.4 157.0,306.5 157.5,303.3 158.0,300.2 158.5,297.3 159.0,294.1 159.5,291.0 160.0,287.9 160.5,285.3 161.0,282.5 161.5,280.1 162.0,277.6 162.5,274.9 163.0,272.5 163.5,270.2 164.0,267.9 164.5,265.5 165.0,263.1 165.5,261.1 166.0,259.0 166.5,256.7 167.0,254.8 167.5,252.6 168.0,250.5 168.5,248.3 169.0,246.4 169.5,244.6 170.0,242.4 171.5,236.3 173.0,230.7 174.5,225.5 176.0,220.8 177.5,216.1 179.0,211.7 180.5,207.2 182.0,202.9 183.5,199.4 185.0,195.8 186.5,191.7 188.0,187.4 189.5,183.0 191.0,179.7 192.5,175.9 194.0,172.3 195.5,168.4 197.0,164.2 198.5,161.4 200.0,159.6 201.5,157.4 203.0,154.7 204.5,151.2 206.0,149.1 207.5,145.9 209.0,143.4 210.5,140.8 212.0,137.8 213.5,135.8 215.0,133.6 216.5,131.5 218.0,129.7 219.5,127.8 221.0,127.3 222.5,125.4 224.0,123.5 225.5,121.2 227.0,119.3 228.5,117.8 230.0,117.9 231.5,117.6 233.0,116.2 234.5,113.7 236.0,111.7 237.5,111.0 239.0,109.7 240.5,107.9 242.0,107.5 243.5,107.2 245.0,106.0 246.5,103.2 248.0,101.4 249.5,101.3 251.0,101.5 252.5,100.9 254.0,99.1 255.5,98.2 257.0,97.8 258.5,97.8 260.0,96.7 261.5,96.0 263.0,95.3 264.5,94.3 266.0,93.4 267.5,92.2 269.0,92.6 270.5,92.1 272.0,91.7 273.5,90.7 275.0,90.6 276.5,89.5 278.0,88.8 279.5,88.5 281.0,88.2 282.5,87.7 284.0,85.8 285.5,86.0 287.0,84.5 288.5,84.0 290.0,83.3 291.5,84.1 293.0,84.7 294.5,84.8 296.0,84.9 297.5,84.6 299.0,84.4 300.0,83.2 301.6,82.4 303.2,83.2 304.8,84.4 306.4,84.5 308.0,83.0 309.6,82.1 311.2,81.1 312.8,81.4 314.4,80.5 316.0,80.3 317.6,80.1 319.2,79.0 320.8,79.0 322.4,76.8 324.0,77.2 325.6,76.8 327.2,77.2 328.8,77.3 330.4,76.8 332.0,76.7 333.6,75.8 335.2,75.7 336.8,74.9 338.4,75.6 340.0,74.9 341.6,75.7 343.2,75.0 344.8,75.3 346.4,75.3 348.0,75.4 349.6,74.5 351.2,74.0 352.8,72.3 354.4,73.2 356.0,72.6 357.6,73.2 359.2,72.9 360.8,72.8 362.4,74.3 364.0,73.9 365.6,74.9 367.2,74.4 368.8,74.2 370.4,72.7 372.0,72.6 373.6,72.7 375.2,73.0 376.8,72.1 378.4,71.5 380.0,71.1 381.6,70.6 383.2,70.4 384.8,70.3 386.4,71.5 388.0,72.9 389.6,73.0 391.2,72.0 392.8,71.4 394.4,72.0 396.0,72.0 397.6,71.4 399.2,70.5 400.8,70.8 402.4,72.2 404.0,72.0 405.6,70.4 407.2,69.4 408.8,69.6 410.4,70.6 412.0,70.7 413.6,70.7 415.2,69.9 416.8,68.3 418.4,68.1 420.0,68.2 421.6,69.2 423.2,68.5 424.8,68.8 426.4,67.9 428.0,68.3 429.6,68.2 431.2,69.1 432.8,69.9 434.4,70.0 436.0,69.2 437.6,69.5 439.2,69.7 440.8,70.3 442.4,69.6 444.0,70.1 445.6,70.3 447.2,70.2 448.8,69.9 450.4,68.9 452.0,68.2 453.6,67.7 455.2,68.2 456.8,68.4 458.4,68.6 460.0,68.5 461.6,68.2 463.2,67.3 464.8,67.6 466.4,68.1 468.0,68.4 469.6,68.2 471.2,68.1 472.8,68.5 474.4,67.3 476.0,66.5 477.6,66.1 479.2,67.8 480.8,67.9 482.4,68.0 484.0,66.6 485.6,66.8 487.2,67.1 488.8,66.6 490.4,65.4 492.0,65.5 493.6,66.5 495.2,67.6 496.8,67.7 498.4,68.2 500.0,67.4 501.6,66.8 503.2,66.9 504.8,67.5 506.4,67.4 508.0,67.3 509.6,67.5 511.2,67.1 512.8,66.2 514.4,65.7 516.0,66.5 517.6,66.0 519.2,67.1 520.8,66.0 522.4,66.9 524.0,65.6 525.6,66.3 527.2,66.7 528.8,68.0 530.4,68.7 532.0,68.2 533.6,67.7 535.2,67.1 536.8,67.4 538.4,67.2 540.0,67.6 541.6,67.4 543.2,68.2 544.8,67.8 546.4,68.0 548.0,67.1 549.6,66.6 551.2,65.6 552.8,65.8 554.4,65.9 556.0,67.0 557.6,66.5 559.2,68.1 560.8,67.7 562.4,68.9 564.0,67.8 565.6,66.6 567.2,65.8 568.8,66.0 570.4,66.1 572.0,66.6 573.6,65.4 575.2,66.3 576.8,66.0 578.4,65.6 580.0,65.9 581.6,65.4 583.2,66.0 584.8,66.2 586.4,68.2 588.0,68.8 589.6,68.7 591.2,66.9 592.8,66.4 594.4,66.2 596.0,67.0 597.6,67.4 599.2,67.7 600.8,66.9 602.4,68.0 604.0,66.7 605.6,67.1 607.2,66.2 608.8,67.1 610.4,66.2 612.0,65.4 613.6,65.1 615.2,65.7 616.8,65.7 618.4,65.3 620.0,65.5 621.6,66.6 623.2,66.8 624.8,66.2 626.4,65.3 628.0,66.8 629.6,67.4 631.2,67.7 632.8,67.0 634.4,67.8 636.0,68.4 637.6,67.2 639.2,66.1 640.8,65.3 642.4,65.8 644.0,65.2 645.6,65.2 647.2,64.9 648.8,65.6 650.4,65.8 652.0,65.7 653.6,64.6 655.2,64.4 656.8,65.4 658.4,66.5 660.0,66.7 661.6,64.7 663.2,64.2 664.8,63.9 666.4,65.3 668.0,65.0 669.6,65.1 671.2,64.9 672.8,66.9 674.4,67.4 676.0,67.6 677.6,66.3 679.2,65.9 680.8,66.0 682.4,65.9 684.0,65.9 685.6,66.3 687.2,66.9 688.8,67.1 690.4,67.2 692.0,66.9 693.6,66.3 695.2,64.7 696.8,64.3 698.4,64.7 700.0,65.8 701.6,66.6 703.2,66.4 704.8,65.8 706.4,65.6 708.0,66.5 709.6,66.6 711.2,66.4 712.8,66.5 714.4,66.9 716.0,66.7 717.6,65.0 719.2,65.5 720.8,65.8 722.4,66.7 724.0,65.5 725.6,64.3 727.2,64.0 728.8,64.0 729.2,65.2 731.0,66.1 733.0,68.0 735.0,69.3 737.0,71.3 739.0,72.4 741.0,74.1 743.0,75.6 745.0,77.4 747.0,78.6" stroke="#17a0e6"/>
<path d="M51.5,422.6 53.5,422.3 55.5,421.9 57.5,422.8 59.5,423.2 61.5,423.5 63.5,423.1 65.5,423.1 67.5,423.5 69.5,423.6 71.5,424.1 73.5,423.2 75.5,422.5 77.5,421.5 79.5,422.0 81.5,422.6 83.5,423.8 85.5,424.5 87.5,424.5 89.5,424.2 91.5,423.9 93.5,424.5 95.5,424.4 97.5,424.5 99.5,423.9 101.5,424.1 103.5,424.2 105.5,424.1 107.5,423.9 109.5,423.9 111.5,424.2 113.5,424.5 115.5,424.2 117.5,424.5 119.5,424.5 121.5,424.8 123.5,424.8 125.5,425.5 127.5,425.7 129.5,425.9 131.5,425.4 133.5,425.0 135.5,424.6 137.5,425.7 139.5,425.6 141.5,426.0 143.5,425.5 145.5,425.2 147.5,424.8 148.0,424.2 148.5,424.3 149.0,424.2 149.5,424.1 150.0,425.0 150.5,419.9 151.0,407.7 151.5,392.6 152.0,378.3 152.5,365.7 153.0,355.7 153.5,347.3 154.0,339.7 154.5,332.8 155.0,326.8 155.5,321.0 156.0,315.5 156.5,310.5 157.0,306.5 157.5,303.1 158.0,300.3 158.5,297.3 159.0,294.4 159.5,291.8 160.0,288.7 160.5,286.2 161.0,283.2 161.5,280.9 162.0,278.0 162.5,275.4 163.0,272.7 163.5,270.1 164.0,267.7 164.5,265.3 165.0,263.4 165.5,261.3 166.0,258.8 166.5,256.1 167.0,253.7 167.5,252.4 168.0,250.7 168.5,248.7 169.0,246.8 169.5,245.0 170.0,243.4 171.5,237.6 173.0,232.3 174.5,226.1 176.0,221.1 177.5,215.6 179.0,212.0 180.5,208.5 182.0,204.9 183.5,199.7 185.0,194.7 186.5,190.5 188.0,187.4 189.5,184.3 191.0,181.2 192.5,176.3 194.0,173.1 195.5,169.1 197.0,166.9 198.5,163.8 200.0,160.9 201.5,157.6 203.0,153.4 204.5,150.8 206.0,149.2 207.5,148.0 209.0,145.4 210.5,142.4 212.0,140.1 213.5,137.7 215.0,136.5 216.5,133.8 218.0,132.1 219.5,129.4 221.0,127.6 222.5,125.5 224.0,123.6 225.5,121.7 227.0,120.1 228.5,119.1 230.0,117.7 231.5,116.5 233.0,114.9 234.5,113.5 236.0,113.2 237.5,112.1 239.0,110.8 240.5,108.6 242.0,107.9 243.5,107.0 245.0,106.1 246.5,104.6 248.0,103.9 249.5,103.2 251.0,102.6 252.5,100.9 254.0,99.3 255.5,97.0 257.0,97.4 258.5,97.7 260.0,98.9 261.5,97.9 263.0,97.2 264.5,95.9 266.0,95.1 267.5,93.1 269.0,92.1 270.5,91.3 272.0,91.9 273.5,92.5 275.0,92.0 276.5,91.2 278.0,90.0 279.5,89.4 281.0,87.8 282.5,86.8 284.0,86.0 285.5,86.3 287.0,86.1 288.5,86.3 290.0,86.0 291.5,85.8 293.0,85.1 294.5,85.2 296.0,83.8 297.5,83.9 299.0,83.3 300.0,83.4 301.6,82.3 303.2,82.0 304.8,81.7 306.4,82.5 308.0,82.3 309.6,82.3 311.2,81.6 312.8,81.4 314.4,81.2 316.0,80.5 317.6,79.8 319.2,79.6 320.8,79.9 322.4,79.6 324.0,79.0 325.6,78.6 327.2,77.8 328.8,76.9 330.4,77.3 332.0,77.2 333.6,77.8 335.2,76.3 336.8,76.5 338.4,75.7 340.0,77.7 341.6,76.9 343.2,76.7 344.8,75.5 346.4,76.3 348.0,75.6 349.6,75.1 351.2,74.8 352.8,75.0 354.4,75.1 356.0,74.2 357.6,74.2 359.2,73.5 360.8,73.4 362.4,73.1 364.0,74.2 365.6,74.0 367.2,74.2 368.8,73.4 370.4,73.4 372.0,74.3 373.6,73.7 375.2,73.7 376.8,73.0 378.4,73.1 380.0,72.7 381.6,72.5 383.2,73.1 384.8,72.8 386.4,72.4 388.0,71.4 389.6,71.9 391.2,72.2 392.8,72.7 394.4,71.7 396.0,71.6 397.6,70.9 399.2,71.3 400.8,71.2 402.4,70.2 404.0,70.4 405.6,70.3 407.2,70.5 408.8,70.3 410.4,70.9 412.0,71.3 413.6,71.5 415.2,70.6 416.8,70.3 418.4,69.5 420.0,69.4 421.6,70.3 423.2,71.1 424.8,70.9 426.4,70.7 428.0,70.1 429.6,70.1 431.2,69.8 432.8,69.3 434.4,68.8 436.0,69.2 437.6,68.7 439.2,69.7 440.8,68.2 442.4,69.1 444.0,68.6 445.6,69.1 447.2,68.0 448.8,68.0 450.4,68.2 452.0,68.7 453.6,68.7 455.2,69.2 456.8,69.2 458.4,69.3 460.0,68.2 461.6,68.7 463.2,68.9 464.8,70.6 466.4,70.8 468.0,70.7 469.6,70.1 471.2,69.2 472.8,69.4 474.4,68.5 476.0,68.6 477.6,68.6 479.2,68.9 480.8,69.8 482.4,68.6 484.0,68.5 485.6,67.6 487.2,68.2 488.8,67.1 490.4,67.8 492.0,68.0 493.6,68.4 495.2,67.2 496.8,66.7 498.4,67.8 500.0,68.4 501.6,68.6 503.2,68.2 504.8,68.2 506.4,68.4 508.0,68.5 509.6,68.7 511.2,69.0 512.8,68.0 514.4,67.9 516.0,67.2 517.6,67.8 519.2,67.8 520.8,67.6 522.4,67.4 524.0,67.8 525.6,67.9 527.2,67.4 528.8,67.2 530.4,67.9 532.0,68.4 533.6,68.1 535.2,67.2 536.8,67.3 538.4,67.7 540.0,68.5 541.6,68.6 543.2,68.0 544.8,66.8 546.4,66.8 548.0,67.2 549.6,68.5 551.2,69.3 552.8,69.2 554.4,69.1 556.0,67.6 557.6,68.0 559.2,68.0 560.8,69.1 562.4,68.9 564.0,68.6 565.6,68.7 567.2,68.0 568.8,68.1 570.4,67.9 572.0,67.8 573.6,67.0 575.2,66.6 576.8,67.1 578.4,67.9 580.0,68.0 581.6,67.6 583.2,67.4 584.8,67.6 586.4,67.8 588.0,67.5 589.6,66.4 591.2,67.0 592.8,68.0 594.4,67.9 596.0,67.9 597.6,67.4 599.2,67.7 600.8,67.2 602.4,66.2 604.0,66.1 605.6,66.4 607.2,67.2 608.8,67.6 610.4,67.9 612.0,67.7 613.6,67.1 615.2,67.4 616.8,67.8 618.4,68.0 620.0,68.2 621.6,67.8 623.2,68.2 624.8,68.3 626.4,66.9 628.0,66.0 629.6,65.4 631.2,66.5 632.8,66.8 634.4,67.2 636.0,67.5 637.6,67.4 639.2,66.3 640.8,66.5 642.4,67.9 644.0,67.3 645.6,67.0 647.2,66.0 648.8,66.1 650.4,65.9 652.0,65.3 653.6,65.8 655.2,66.7 656.8,67.7 658.4,68.3 660.0,67.8 661.6,67.7 663.2,67.8 664.8,67.0 666.4,66.6 668.0,66.6 669.6,66.8 671.2,66.7 672.8,66.9 674.4,68.0 676.0,67.9 677.6,66.9 679.2,66.4 680.8,66.9 682.4,66.9 684.0,66.9 685.6,67.1 687.2,67.4 688.8,68.5 690.4,68.9 692.0,69.2 693.6,68.3 695.2,69.1 696.8,69.2 698.4,68.4 700.0,67.1 701.6,66.6 703.2,66.7 704.8,66.6 706.4,66.7 708.0,67.0 709.6,66.6 711.2,66.9 712.8,66.1 714.4,66.7 716.0,66.3 717.6,67.2 719.2,65.7 720.8,66.5 722.4,65.3 724.0,65.8 725.6,65.0 727.2,65.3 728.8,65.4 729.2,64.0 731.0,66.4 733.0,68.1 735.0,70.1 737.0,71.7 739.0,73.3 741.0,74.8 743.0,76.3 745.0,77.7 747.0,79.5" stroke="#17a0e6"/>
<path d="M51.5,420.9 53.5,420.9 55.5,420.5 57.5,420.6 59.5,420.4 61.5,421.0 63.5,421.0 65.5,420.7 67.5,420.4 69.5,420.4 71.5,420.6 73.5,421.2 75.5,421.4 77.5,422.1 79.5,421.4 81.5,421.2 83.5,421.3 85.5,421.1 87.5,421.4 89.5,421.1 91.5,421.5 93.5,421.4 95.5,421.1 97.5,421.4 99.5,421.0 101.5,420.9 103.5,421.4 105.5,421.6 107.5,421.3 109.5,421.2 111.5,421.3 113.5,420.8 115.5,420.5 117.5,421.1 119.5,422.5 121.5,423.1 123.5,422.8 125.5,422.9 127.5,422.0 129.5,422.2 131.5,422.5 133.5,423.1 135.5,423.1 137.5,422.0 139.5,421.7 141.5,421.3 143.5,422.2 145.5,422.2 147.5,422.8 148.0,422.2 148.5,423.1 149.0,422.6 149.5,423.0 150.0,422.9 150.5,418.8 151.0,407.0 151.5,392.2 152.0,378.5 152.5,366.2 153.0,355.9 153.5,347.3 154.0,339.4 154.5,333.2 155.0,327.1 155.5,321.7 156.0,316.1 156.5,311.3 157.0,306.9 157.5,303.6 158.0,300.4 158.5,297.5 159.0,294.7 159.5,292.0 160.0,289.7 160.5,286.8 161.0,283.7 161.5,281.1 162.0,278.7 162.5,276.4 163.0,274.1 163.5,271.2 164.0,268.9 164.5,266.4 165.0,264.0 165.5,261.3 166.0,258.7 166.5,256.8 167.0,255.1 167.5,253.1 168.0,251.0 168.5,248.9 169.0,246.9 169.5,245.1 170.0,243.3 171.5,237.7 173.0,232.2 174.5,226.8 176.0,222.1 177.5,217.1 179.0,213.2 180.5,208.5 182.0,204.6 183.5,199.5 185.0,195.3 186.5,191.4 188.0,187.9 189.5,184.1 191.0,179.9 192.5,176.5 194.0,173.5 195.5,171.0 197.0,168.4 198.5,165.0 200.0,160.8 201.5,157.2 203.0,153.6 204.5,151.2 206.0,149.1 207.5,147.7 209.0,145.5 210.5,142.3 212.0,139.7 213.5,136.9 215.0,135.3 216.5,133.2 218.0,132.9 219.5,130.3 221.0,129.1 222.5,126.1 224.0,125.4 225.5,122.8 227.0,122.0 228.5,119.8 230.0,118.4 231.5,116.6 233.0,115.7 234.5,115.0 236.0,114.6 237.5,113.5 239.0,110.9 240.5,108.8 242.0,106.3 243.5,106.4 245.0,105.9 246.5,105.2 248.0,103.9 249.5,102.7 251.0,102.3 252.5,102.8 254.0,102.1 255.5,101.7 257.0,101.0 258.5,99.8 260.0,98.8 261.5,96.7 263.0,96.4 264.5,96.2 266.0,96.7 267.5,96.0 269.0,94.5 270.5,92.8 272.0,91.6 273.5,91.4 275.0,91.9 276.5,90.9 278.0,89.2 279.5,88.8 281.0,88.6 282.5,89.4 284.0,87.6 285.5,88.3 287.0,88.1 288.5,88.3 290.0,87.9 291.5,87.2 293.0,87.0 294.5,87.1 296.0,87.2 297.5,86.2 299.0,84.6 300.0,83.7 301.6,83.5 303.2,83.6 304.8,83.0 306.4,83.1 308.0,82.8 309.6,82.9 311.2,82.3 312.8,82.3 314.4,81.2 316.0,81.7 317.6,81.3 319.2,81.8 320.8,81.0 322.4,81.1 324.0,81.0 325.6,80.6 327.2,79.7 328.8,78.3 330.4,78.0 332.0,77.7 333.6,78.2 335.2,79.0 336.8,78.0 338.4,78.0 340.0,77.2 341.6,78.4 343.2,78.8 344.8,77.4 346.4,76.3 348.0,75.8 349.6,76.1 351.2,77.2 352.8,76.8 354.4,76.9 356.0,76.1 357.6,75.7 359.2,75.5 360.8,74.8 362.4,74.8 364.0,74.3 365.6,74.7 367.2,73.8 368.8,73.2 370.4,73.2 372.0,73.9 373.6,74.0 375.2,73.5 376.8,72.8 378.4,74.1 380.0,73.4 381.6,74.6 383.2,73.1 384.8,73.9 386.4,72.9 388.0,73.0 389.6,73.1 391.2,73.5 392.8,73.5 394.4,72.5 396.0,73.0 397.6,73.7 399.2,74.2 400.8,72.9 402.4,72.3 404.0,72.2 405.6,72.8 407.2,72.1 408.8,72.0 410.4,71.0 412.0,72.0 413.6,72.8 415.2,73.1 416.8,72.6 418.4,72.3 420.0,72.2 421.6,71.4 423.2,71.1 424.8,71.5 426.4,71.8 428.0,71.9 429.6,71.7 431.2,70.9 432.8,70.3 434.4,70.1 436.0,71.8 437.6,71.6 439.2,71.4 440.8,70.7 442.4,70.8 444.0,70.1 445.6,69.9 447.2,69.6 448.8,70.9 450.4,72.0 452.0,71.5 453.6,70.3 455.2,68.7 456.8,68.9 458.4,69.0 460.0,69.4 461.6,70.2 463.2,69.8 464.8,69.0 466.4,67.5 468.0,68.7 469.6,70.0 471.2,70.2 472.8,68.8 474.4,68.2 476.0,69.4 477.6,70.7 479.2,70.7 480.8,70.4 482.4,70.1 484.0,69.7 485.6,70.2 487.2,70.0 488.8,69.7 490.4,68.5 492.0,67.8 493.6,68.3 495.2,69.0 496.8,69.1 498.4,69.7 500.0,70.1 501.6,70.9 503.2,69.7 504.8,68.3 506.4,67.9 508.0,67.8 509.6,67.6 511.2,67.6 512.8,68.1 514.4,69.0 516.0,68.5 517.6,69.5 519.2,69.7 520.8,70.7 522.4,69.5 524.0,69.8 525.6,69.2 527.2,70.3 528.8,70.0 530.4,69.7 532.0,68.6 533.6,68.9 535.2,69.9 536.8,70.0 538.4,69.2 540.0,68.7 541.6,68.4 543.2,68.2 544.8,67.8 546.4,67.9 548.0,68.2 549.6,68.1 551.2,68.6 552.8,68.4 554.4,69.3 556.0,69.3 557.6,69.9 559.2,69.8 560.8,69.7 562.4,69.0 564.0,68.9 565.6,68.1 567.2,68.1 568.8,68.2 570.4,68.6 572.0,68.9 573.6,68.0 575.2,68.7 576.8,68.2 578.4,68.9 580.0,68.2 581.6,68.9 583.2,68.5 584.8,68.0 586.4,66.6 588.0,66.6 589.6,66.5 591.2,67.7 592.8,68.6 594.4,68.0 596.0,67.1 597.6,66.6 599.2,68.3 600.8,69.0 602.4,69.0 604.0,68.7 605.6,68.8 607.2,69.4 608.8,69.5 610.4,68.6 612.0,67.5 613.6,67.3 615.2,67.5 616.8,67.6 618.4,67.2 620.0,67.3 621.6,67.7 623.2,67.8 624.8,67.6 626.4,66.9 628.0,67.1 629.6,68.7 631.2,69.1 632.8,69.8 634.4,69.0 636.0,67.8 637.6,67.3 639.2,66.6 640.8,67.0 642.4,66.3 644.0,67.6 645.6,67.5 647.2,67.7 648.8,67.4 650.4,68.5 652.0,67.9 653.6,67.3 655.2,66.7 656.8,67.4 658.4,67.8 660.0,67.8 661.6,67.7 663.2,68.1 664.8,67.4 666.4,67.4 668.0,66.9 669.6,67.2 671.2,67.1 672.8,66.2 674.4,66.9 676.0,66.9 677.6,67.9 679.2,68.3 680.8,68.6 682.4,68.1 684.0,67.7 685.6,67.7 687.2,67.3 688.8,67.6 690.4,67.7 692.0,68.7 693.6,67.5 695.2,67.8 696.8,68.5 698.4,69.4 700.0,68.3 701.6,67.2 703.2,66.9 704.8,67.7 706.4,67.6 708.0,67.8 709.6,67.5 711.2,67.7 712.8,67.1 714.4,67.4 716.0,67.8 717.6,67.9 719.2,68.1 720.8,67.2 722.4,67.1 724.0,66.3 725.6,67.1 727.2,66.7 728.8,67.3 729.2,65.9 731.0,67.7 733.0,69.2 735.0,71.1 737.0,72.5 739.0,73.7 741.0,75.3 743.0,76.8 745.0,78.7 747.0,80.0" stroke="#17a0e6"/>
<path d="M51.5,422.3 53.5,422.6 55.5,422.1 57.5,422.3 59.5,421.9 61.5,422.3 63.5,422.8 65.5,422.3 67.5,422.7 69.5,422.1 71.5,421.8 73.5,421.4 75.5,421.0 77.5,422.1 79.5,423.0 81.5,423.6 83.5,423.4 85.5,422.4 87.5,422.3 89.5,422.1 91.5,423.3 93.5,423.7 95.5,424.7 97.5,424.6 99.5,424.4 101.5,423.3 103.5,423.2 105.5,422.5 107.5,423.2 109.5,422.8 111.5,423.2 113.5,422.6 115.5,422.9 117.5,423.2 119.5,423.3 121.5,423.6 123.5,423.1 125.5,423.9 127.5,423.6 129.5,424.3 131.5,424.6 133.5,424.1 135.5,423.4 137.5,422.6 139.5,423.9 141.5,424.1 143.5,424.4 145.5,423.8 147.5,424.2 148.0,423.6 148.5,424.2 149.0,423.0 149.5,422.7 150.0,423.6 150.5,419.2 151.0,407.4 151.5,392.7 152.0,379.0 152.5,366.7 153.0,356.4 153.5,347.8 154.0,340.2 154.5,333.3 155.0,327.2 155.5,321.5 156.0,316.6 156.5,311.8 157.0,307.5 157.5,303.7 158.0,300.5 158.5,297.9 159.0,295.1 159.5,292.2 160.0,289.3 160.5,286.7 161.0,284.2 161.5,281.5 162.0,278.8 162.5,275.8 163.0,273.4 163.5,271.0 164.0,268.9 164.5,266.4 165.0,263.8 165.5,261.6 166.0,258.9 166.5,256.9 167.0,254.7 167.5,253.5 168.0,251.6 168.5,249.8 169.0,247.4 169.5,245.5 170.0,243.5 171.5,237.7 173.0,232.0 174.5,227.9 176.0,223.0 177.5,217.8 179.0,212.6 180.5,209.1 182.0,205.3 183.5,202.3 185.0,197.2 186.5,194.3 188.0,188.7 189.5,184.9 191.0,180.2 192.5,176.5 194.0,172.2 195.5,170.1 197.0,166.9 198.5,165.0 200.0,161.6 201.5,158.9 203.0,155.9 204.5,153.0 206.0,150.4 207.5,147.8 209.0,145.4 210.5,142.8 212.0,139.8 213.5,137.1 215.0,135.6 216.5,134.9 218.0,134.0 219.5,132.2 221.0,130.2 222.5,127.8 224.0,126.5 225.5,124.4 227.0,123.0 228.5,120.8 230.0,119.3 231.5,118.7 233.0,116.9 234.5,115.6 236.0,113.1 237.5,113.0 239.0,112.7 240.5,111.8 242.0,108.8 243.5,107.1 245.0,106.6 246.5,106.2 248.0,104.8 249.5,103.5 251.0,102.3 252.5,101.9 254.0,101.3 255.5,101.8 257.0,100.1 258.5,98.8 260.0,97.6 261.5,97.7 263.0,96.8 264.5,97.2 266.0,96.5 267.5,95.3 269.0,94.8 270.5,94.1 272.0,94.3 273.5,92.9 275.0,91.4 276.5,91.2 278.0,89.4 279.5,89.3 281.0,89.4 282.5,90.8 284.0,90.6 285.5,89.0 287.0,88.4 288.5,88.1 290.0,88.3 291.5,87.7 293.0,86.8 294.5,86.7 296.0,84.9 297.5,85.8 299.0,84.3 300.0,84.8 301.6,83.3 303.2,84.1 304.8,84.5 306.4,84.7 308.0,84.2 309.6,83.8 311.2,83.2 312.8,81.6 314.4,79.9 316.0,78.5 317.6,79.2 319.2,79.9 320.8,80.8 322.4,80.6 324.0,80.4 325.6,79.7 327.2,78.5 328.8,77.4 330.4,78.3 332.0,79.3 333.6,79.4 335.2,78.4 336.8,78.0 338.4,79.2 340.0,78.9 341.6,78.5 343.2,78.1 344.8,77.3 346.4,76.7 348.0,75.9 349.6,76.2 351.2,77.5 352.8,77.8 354.4,78.1 356.0,76.4 357.6,76.2 359.2,76.3 360.8,76.3 362.4,75.5 364.0,74.3 365.6,74.4 367.2,74.9 368.8,76.0 370.4,76.2 372.0,76.1 373.6,75.1 375.2,74.5 376.8,74.6 378.4,75.0 380.0,74.7 381.6,74.2 383.2,74.3 384.8,74.9 386.4,74.6 388.0,73.8 389.6,73.6 391.2,74.3 392.8,74.5 394.4,73.9 396.0,73.1 397.6,72.3 399.2,72.7 400.8,72.2 402.4,73.3 404.0,73.1 405.6,73.7 407.2,74.3 408.8,74.1 410.4,73.0 412.0,72.0 413.6,72.0 415.2,72.4 416.8,71.8 418.4,72.1 420.0,72.0 421.6,71.1 423.2,70.6 424.8,70.7 426.4,72.3 428.0,72.1 429.6,71.5 431.2,71.4 432.8,71.3 434.4,71.7 436.0,71.3 437.6,71.9 439.2,71.8 440.8,71.0 442.4,71.1 444.0,70.8 445.6,71.0 447.2,71.5 448.8,72.1 450.4,71.8 452.0,70.5 453.6,69.9 455.2,70.0 456.8,69.2 458.4,69.7 460.0,70.4 461.6,71.5 463.2,70.8 464.8,70.5 466.4,70.7 468.0,70.3 469.6,70.0 471.2,69.3 472.8,70.2 474.4,70.4 476.0,70.0 477.6,69.3 479.2,70.1 480.8,70.2 482.4,70.5 484.0,69.3 485.6,70.4 487.2,70.3 488.8,70.3 490.4,69.1 492.0,68.9 493.6,69.5 495.2,70.5 496.8,69.9 498.4,70.2 500.0,69.7 501.6,69.8 503.2,69.1 504.8,68.9 506.4,69.1 508.0,68.7 509.6,68.9 511.2,68.9 512.8,68.4 514.4,68.7 516.0,68.6 517.6,70.1 519.2,70.1 520.8,70.6 522.4,70.1 524.0,70.4 525.6,69.9 527.2,69.3 528.8,68.8 530.4,67.6 532.0,67.9 533.6,67.8 535.2,69.0 536.8,69.8 538.4,70.0 540.0,70.2 541.6,69.4 543.2,69.6 544.8,69.2 546.4,69.1 548.0,68.9 549.6,69.6 551.2,70.8 552.8,70.3 554.4,69.0 556.0,68.3 557.6,69.0 559.2,69.9 560.8,70.3 562.4,70.6 564.0,70.3 565.6,69.3 567.2,67.7 568.8,68.3 570.4,68.9 572.0,69.8 573.6,68.9 575.2,68.2 576.8,67.1 578.4,66.9 580.0,66.6 581.6,66.5 583.2,67.2 584.8,68.1 586.4,69.2 588.0,69.3 589.6,68.7 591.2,68.4 592.8,68.7 594.4,68.9 596.0,68.9 597.6,68.4 599.2,68.3 600.8,68.3 602.4,67.9 604.0,68.7 605.6,67.8 607.2,68.6 608.8,67.4 610.4,68.9 612.0,69.1 613.6,69.4 615.2,68.4 616.8,67.4 618.4,67.8 620.0,68.2 621.6,70.0 623.2,69.4 624.8,69.8 626.4,68.2 628.0,69.0 629.6,68.8 631.2,69.4 632.8,69.4 634.4,68.9 636.0,68.6 637.6,68.5 639.2,69.2 640.8,68.4 642.4,68.1 644.0,66.8 645.6,67.1 647.2,66.9 648.8,68.1 650.4,69.7 652.0,70.7 653.6,69.6 655.2,68.5 656.8,67.3 658.4,68.1 660.0,68.7 661.6,69.5 663.2,69.7 664.8,69.0 666.4,67.7 668.0,66.3 669.6,66.3 671.2,67.6 672.8,69.2 674.4,69.1 676.0,68.8 677.6,68.3 679.2,69.0 680.8,68.9 682.4,68.2 684.0,68.2 685.6,68.5 687.2,69.2 688.8,68.0 690.4,67.8 692.0,66.7 693.6,66.4 695.2,66.2 696.8,66.9 698.4,68.2 700.0,69.0 701.6,69.2 703.2,69.8 704.8,68.8 706.4,69.2 708.0,67.6 709.6,68.0 711.2,67.4 712.8,68.0 714.4,68.2 716.0,67.4 717.6,67.5 719.2,66.8 720.8,67.8 722.4,67.8 724.0,67.7 725.6,67.2 727.2,66.2 728.8,66.5 729.2,66.3 731.0,68.5 733.0,69.7 735.0,71.6 737.0,72.9 739.0,74.9 741.0,76.1 743.0,78.0 745.0,79.3 747.0,81.1" stroke="#17a0e6"/>
<path d="M51.5,421.9 53.5,421.7 55.5,421.4 57.5,421.4 59.5,422.5 61.5,422.2 63.5,422.4 65.5,421.9 67.5,421.4 69.5,421.6 71.5,421.3 73.5,422.5 75.5,422.9 77.5,423.3 79.5,422.3 81.5,421.8 83.5,421.9 85.5,422.8 87.5,422.6 89.5,422.2 91.5,421.9 93.5,421.7 95.5,422.8 97.5,422.7 99.5,422.8 101.5,422.2 103.5,422.1 105.5,422.2 107.5,422.2 109.5,422.5 111.5,422.6 113.5,423.1 115.5,423.5 117.5,423.1 119.5,422.6 121.5,422.8 123.5,423.0 125.5,423.3 127.5,423.0 129.5,423.5 131.5,423.4 133.5,423.4 135.5,423.0 137.5,423.2 139.5,423.0 141.5,423.9 143.5,423.8 145.5,424.1 147.5,423.8 148.0,423.8 148.5,423.9 149.0,423.7 149.5,423.4 150.0,423.4 150.5,418.6 151.0,407.0 151.5,392.5 152.0,378.8 152.5,366.0 153.0,356.3 153.5,348.2 154.0,340.7 154.5,334.0 155.0,327.6 155.5,322.1 156.0,316.7 156.5,311.6 157.0,307.6 157.5,304.1 158.0,301.1 158.5,298.4 159.0,295.7 159.5,293.2 160.0,289.9 160.5,287.0 161.0,284.1 161.5,281.8 162.0,279.4 162.5,276.7 163.0,274.1 163.5,271.5 164.0,269.6 164.5,267.3 165.0,264.8 165.5,262.3 166.0,259.9 166.5,257.8 167.0,255.7 167.5,253.8 168.0,251.9 168.5,249.5 169.0,248.2 169.5,246.5 170.0,245.2 171.5,238.7 173.0,232.3 174.5,226.7 176.0,222.0 177.5,218.7 179.0,214.9 180.5,210.5 182.0,205.9 183.5,201.7 185.0,198.0 186.5,194.2 188.0,190.1 189.5,186.1 191.0,181.4 192.5,177.7 194.0,175.2 195.5,171.8 197.0,167.9 198.5,164.6 200.0,160.9 201.5,159.7 203.0,156.4 204.5,155.4 206.0,152.7 207.5,149.7 209.0,146.3 210.5,144.1 212.0,142.4 213.5,140.7 215.0,137.5 216.5,136.2 218.0,134.9 219.5,133.0 221.0,130.4 222.5,128.0 224.0,126.4 225.5,125.6 227.0,124.2 228.5,123.4 230.0,120.9 231.5,119.7 233.0,118.4 234.5,118.2 236.0,116.8 237.5,114.3 239.0,112.1 240.5,110.8 242.0,110.3 243.5,109.5 245.0,107.8 246.5,106.3 248.0,105.8 249.5,106.0 251.0,104.8 252.5,103.5 254.0,101.4 255.5,101.0 257.0,102.2 258.5,102.3 260.0,101.7 261.5,98.9 263.0,97.5 264.5,96.1 266.0,95.7 267.5,95.6 269.0,96.6 270.5,95.2 272.0,95.0 273.5,94.4 275.0,93.7 276.5,93.2 278.0,91.2 279.5,92.0 281.0,91.9 282.5,92.2 284.0,91.6 285.5,90.1 287.0,89.8 288.5,89.8 290.0,89.6 291.5,89.0 293.0,88.2 294.5,88.3 296.0,87.2 297.5,86.6 299.0,85.5 300.0,86.4 301.6,86.5 303.2,86.6 304.8,86.7 306.4,85.3 308.0,84.6 309.6,83.1 311.2,83.3 312.8,83.3 314.4,83.4 316.0,82.4 317.6,82.1 319.2,81.7 320.8,82.3 322.4,81.9 324.0,82.5 325.6,82.0 327.2,81.0 328.8,80.1 330.4,79.0 332.0,80.2 333.6,80.8 335.2,81.3 336.8,80.8 338.4,79.1 340.0,77.8 341.6,77.1 343.2,77.5 344.8,77.7 346.4,77.8 348.0,77.9 349.6,78.8 351.2,79.4 352.8,79.5 354.4,78.8 356.0,77.9 357.6,77.6 359.2,77.2 360.8,77.6 362.4,77.6 364.0,77.9 365.6,76.8 367.2,78.1 368.8,78.5 370.4,79.1 372.0,78.0 373.6,77.9 375.2,77.4 376.8,76.8 378.4,75.7 380.0,75.8 381.6,74.6 383.2,75.2 384.8,75.0 386.4,74.8 388.0,75.5 389.6,74.5 391.2,75.7 392.8,74.4 394.4,75.0 396.0,74.1 397.6,75.5 399.2,75.8 400.8,76.9 402.4,76.0 404.0,75.8 405.6,74.8 407.2,74.2 408.8,74.1 410.4,74.0 412.0,74.0 413.6,72.9 415.2,72.6 416.8,72.9 418.4,73.3 420.0,73.6 421.6,73.1 423.2,72.8 424.8,72.1 426.4,71.7 428.0,72.0 429.6,72.3 431.2,73.2 432.8,72.7 434.4,71.8 436.0,71.5 437.6,71.8 439.2,72.7 440.8,73.6 442.4,74.5 444.0,74.8 445.6,73.9 447.2,73.2 448.8,73.3 450.4,72.5 452.0,72.0 453.6,71.3 455.2,72.3 456.8,73.4 458.4,73.3 460.0,73.1 461.6,72.2 463.2,73.0 464.8,72.2 466.4,72.7 468.0,72.1 469.6,72.0 471.2,71.5 472.8,71.6 474.4,71.4 476.0,70.7 477.6,71.5 479.2,71.5 480.8,71.3 482.4,69.2 484.0,68.0 485.6,68.6 487.2,70.4 488.8,70.9 490.4,71.0 492.0,69.4 493.6,70.7 495.2,71.1 496.8,72.1 498.4,72.2 500.0,72.8 501.6,73.2 503.2,72.2 504.8,70.6 506.4,69.6 508.0,69.0 509.6,70.5 511.2,70.9 512.8,71.9 514.4,71.0 516.0,72.1 517.6,71.7 519.2,72.2 520.8,71.3 522.4,71.5 524.0,69.9 525.6,70.2 527.2,69.9 528.8,70.6 530.4,70.3 532.0,70.7 533.6,71.4 535.2,71.0 536.8,71.0 538.4,70.5 540.0,70.9 541.6,71.1 543.2,70.8 544.8,71.4 546.4,70.7 548.0,70.1 549.6,69.4 551.2,70.4 552.8,70.8 554.4,70.5 556.0,69.7 557.6,70.1 559.2,70.3 560.8,70.6 562.4,69.6 564.0,70.5 565.6,70.6 567.2,71.0 568.8,70.9 570.4,70.8 572.0,72.0 573.6,70.7 575.2,71.3 576.8,70.6 578.4,70.1 580.0,69.7 581.6,69.5 583.2,70.0 584.8,69.5 586.4,68.6 588.0,69.4 589.6,69.4 591.2,70.3 592.8,70.7 594.4,70.8 596.0,70.6 597.6,69.4 599.2,69.3 600.8,70.2 602.4,70.4 604.0,69.8 605.6,69.8 607.2,70.1 608.8,70.6 610.4,71.2 612.0,70.5 613.6,70.6 615.2,68.7 616.8,69.1 618.4,69.3 620.0,70.8 621.6,70.3 623.2,70.4 624.8,70.2 626.4,70.8 628.0,71.6 629.6,71.2 631.2,70.8 632.8,69.7 634.4,68.8 636.0,70.0 637.6,70.3 639.2,71.0 640.8,70.5 642.4,70.3 644.0,71.5 645.6,70.8 647.2,69.9 648.8,67.9 650.4,68.1 652.0,67.9 653.6,68.8 655.2,69.2 656.8,69.8 658.4,69.4 660.0,69.7 661.6,69.9 663.2,70.4 664.8,70.3 666.4,69.8 668.0,69.2 669.6,69.9 671.2,70.5 672.8,70.4 674.4,69.0 676.0,68.8 677.6,68.7 679.2,68.6 680.8,68.9 682.4,69.5 684.0,70.0 685.6,69.1 687.2,68.4 688.8,68.5 690.4,69.1 692.0,70.5 693.6,70.2 695.2,69.7 696.8,69.4 698.4,68.7 700.0,69.6 701.6,69.9 703.2,71.5 704.8,71.3 706.4,71.0 708.0,70.1 709.6,70.5 711.2,68.9 712.8,68.5 714.4,68.3 716.0,69.8 717.6,69.6 719.2,69.9 720.8,70.2 722.4,70.4 724.0,69.6 725.6,68.6 727.2,68.4 728.8,68.9 729.2,69.9 731.0,70.2 733.0,71.4 735.0,72.6 737.0,74.4 739.0,76.1 741.0,77.9 743.0,79.4 745.0,80.9 747.0,82.4" stroke="#a31515"/>
<path d="M51.5,423.1 53.5,423.4 55.5,422.9 57.5,422.8 59.5,422.2 61.5,422.1 63.5,422.2 65.5,423.1 67.5,422.9 69.5,423.1 71.5,423.1 73.5,423.5 75.5,423.8 77.5,423.9 79.5,423.4 81.5,423.1 83.5,422.6 85.5,423.7 87.5,423.8 89.5,424.4 91.5,424.5 93.5,424.5 95.5,424.4 97.5,424.0 99.5,424.0 101.5,424.5 103.5,424.7 105.5,425.1 107.5,424.8 109.5,424.4 111.5,424.0 113.5,423.9 115.5,423.4 117.5,423.7 119.5,424.2 121.5,424.8 123.5,424.5 125.5,424.3 127.5,424.4 129.5,424.8 131.5,425.4 133.5,425.1 135.5,425.1 137.5,424.8 139.5,425.2 141.5,425.0 143.5,424.4 145.5,424.2 147.5,424.6 148.0,425.5 148.5,425.5 149.0,425.4 149.5,425.1 150.0,425.2 150.5,419.9 151.0,407.8 151.5,393.0 152.0,379.0 152.5,366.4 153.0,356.1 153.5,347.5 154.0,339.9 154.5,333.3 155.0,327.6 155.5,322.2 156.0,317.1 156.5,312.1 157.0,307.7 157.5,304.3 158.0,301.3 158.5,298.6 159.0,295.7 159.5,292.7 160.0,289.8 160.5,287.3 161.0,284.6 161.5,282.3 162.0,279.6 162.5,277.4 163.0,274.5 163.5,272.0 164.0,269.5 164.5,267.5 165.0,265.3 165.5,263.3 166.0,261.1 166.5,259.0 167.0,256.4 167.5,254.6 168.0,252.7 168.5,250.9 169.0,248.2 169.5,246.1 170.0,244.0 171.5,238.9 173.0,233.7 174.5,228.5 176.0,223.5 177.5,218.8 179.0,214.6 180.5,210.0 182.0,205.0 183.5,200.5 185.0,196.1 186.5,193.1 188.0,189.7 189.5,186.1 191.0,182.0 192.5,177.9 194.0,173.5 195.5,170.9 197.0,168.9 198.5,166.7 200.0,162.8 201.5,159.4 203.0,157.1 204.5,154.3 206.0,151.3 207.5,148.8 209.0,146.5 210.5,144.5 212.0,142.2 213.5,139.9 215.0,137.7 216.5,134.9 218.0,134.0 219.5,131.3 221.0,130.2 222.5,128.0 224.0,127.3 225.5,125.9 227.0,124.8 228.5,122.6 230.0,121.0 231.5,119.0 233.0,118.0 234.5,116.5 236.0,115.8 237.5,114.5 239.0,113.4 240.5,111.5 242.0,110.7 243.5,109.9 245.0,109.0 246.5,108.3 248.0,107.3 249.5,106.8 251.0,106.4 252.5,105.0 254.0,104.8 255.5,103.1 257.0,103.0 258.5,101.5 260.0,100.9 261.5,98.9 263.0,98.9 264.5,98.0 266.0,97.9 267.5,97.0 269.0,96.8 270.5,97.5 272.0,97.2 273.5,97.0 275.0,95.6 276.5,94.6 278.0,93.1 279.5,92.6 281.0,91.8 282.5,91.7 284.0,91.3 285.5,90.1 287.0,90.3 288.5,90.4 290.0,90.0 291.5,89.2 293.0,89.0 294.5,89.4 296.0,88.4 297.5,86.8 299.0,86.7 300.0,87.9 301.6,87.4 303.2,86.7 304.8,85.0 306.4,85.1 308.0,84.9 309.6,84.9 311.2,84.4 312.8,85.0 314.4,84.6 316.0,84.6 317.6,83.8 319.2,83.6 320.8,83.3 322.4,83.0 324.0,82.2 325.6,82.4 327.2,82.2 328.8,82.8 330.4,82.1 332.0,81.4 333.6,80.0 335.2,79.8 336.8,79.7 338.4,80.8 340.0,80.7 341.6,80.2 343.2,79.1 344.8,78.9 346.4,78.9 348.0,79.7 349.6,79.6 351.2,79.1 352.8,78.3 354.4,77.9 356.0,77.9 357.6,76.7 359.2,76.0 360.8,75.4 362.4,76.5 364.0,77.1 365.6,77.6 367.2,77.8 368.8,77.2 370.4,77.5 372.0,77.0 373.6,77.1 375.2,77.1 376.8,76.1 378.4,75.8 380.0,74.9 381.6,75.6 383.2,76.0 384.8,74.9 386.4,74.5 388.0,74.4 389.6,76.6 391.2,77.3 392.8,77.3 394.4,75.4 396.0,74.8 397.6,74.1 399.2,74.7 400.8,74.6 402.4,74.9 404.0,74.8 405.6,74.4 407.2,74.2 408.8,74.8 410.4,75.1 412.0,75.2 413.6,74.0 415.2,73.7 416.8,74.1 418.4,74.8 420.0,75.3 421.6,75.2 423.2,74.2 424.8,74.4 426.4,74.7 428.0,75.6 429.6,75.2 431.2,73.8 432.8,73.2 434.4,72.2 436.0,73.5 437.6,73.0 439.2,73.0 440.8,73.1 442.4,74.0 444.0,73.9 445.6,74.0 447.2,73.0 448.8,73.4 450.4,72.3 452.0,73.1 453.6,72.7 455.2,72.4 456.8,72.2 458.4,71.7 460.0,72.3 461.6,72.0 463.2,73.0 464.8,72.5 466.4,72.3 468.0,72.0 469.6,72.8 471.2,72.1 472.8,71.9 474.4,71.6 476.0,71.9 477.6,71.3 479.2,71.3 480.8,71.6 482.4,71.7 484.0,72.1 485.6,72.0 487.2,71.9 488.8,69.9 490.4,69.8 492.0,69.6 493.6,71.5 495.2,72.6 496.8,72.6 498.4,72.7 500.0,72.4 501.6,72.9 503.2,72.3 504.8,72.1 506.4,71.8 508.0,70.6 509.6,69.9 511.2,70.3 512.8,70.9 514.4,71.0 516.0,71.4 517.6,71.1 519.2,71.8 520.8,71.1 522.4,71.6 524.0,70.7 525.6,70.9 527.2,70.4 528.8,70.1 530.4,70.1 532.0,70.4 533.6,71.6 535.2,71.8 536.8,71.3 538.4,70.6 540.0,69.2 541.6,69.1 543.2,70.0 544.8,72.0 546.4,72.9 548.0,72.4 549.6,71.9 551.2,71.7 552.8,70.7 554.4,70.0 556.0,70.3 557.6,71.7 559.2,72.3 560.8,71.5 562.4,70.8 564.0,70.4 565.6,70.0 567.2,69.3 568.8,69.6 570.4,69.8 572.0,70.6 573.6,71.4 575.2,71.9 576.8,71.6 578.4,71.1 580.0,70.0 581.6,70.9 583.2,70.7 584.8,71.3 586.4,71.1 588.0,71.7 589.6,71.5 591.2,70.8 592.8,71.1 594.4,71.3 596.0,72.5 597.6,71.1 599.2,71.3 600.8,70.2 602.4,70.9 604.0,70.5 605.6,70.5 607.2,70.9 608.8,71.2 610.4,70.6 612.0,69.7 613.6,69.1 615.2,69.5 616.8,69.3 618.4,69.5 620.0,70.1 621.6,70.0 623.2,69.3 624.8,69.0 626.4,69.8 628.0,70.0 629.6,70.6 631.2,70.4 632.8,70.8 634.4,70.7 636.0,70.1 637.6,70.1 639.2,69.4 640.8,70.0 642.4,70.9 644.0,71.0 645.6,71.4 647.2,69.7 648.8,69.5 650.4,68.5 652.0,70.3 653.6,70.5 655.2,71.3 656.8,69.5 658.4,69.8 660.0,69.7 661.6,70.7 663.2,69.3 664.8,69.1 666.4,69.5 668.0,71.5 669.6,71.6 671.2,70.3 672.8,69.6 674.4,69.8 676.0,70.3 677.6,70.6 679.2,69.9 680.8,70.4 682.4,70.5 684.0,70.3 685.6,71.7 687.2,71.4 688.8,71.9 690.4,70.1 692.0,70.1 693.6,69.8 695.2,69.4 696.8,68.6 698.4,68.9 700.0,69.6 701.6,69.0 703.2,67.8 704.8,67.7 706.4,68.9 708.0,70.3 709.6,69.8 711.2,70.1 712.8,69.7 714.4,70.0 716.0,69.7 717.6,70.3 719.2,70.8 720.8,71.3 722.4,70.3 724.0,69.6 725.6,68.3 727.2,68.2 728.8,68.0 729.2,68.3 731.0,70.4 733.0,72.1 735.0,73.8 737.0,75.3 739.0,77.0 741.0,78.4 743.0,80.1 745.0,81.6 747.0,83.3" stroke="#a31515"/>
<path d="M51.5,420.9 53.5,421.7 55.5,421.4 57.5,421.6 59.5,420.7 61.5,420.7 63.5,420.3 65.5,420.1 67.5,420.4 69.5,420.8 71.5,421.3 73.5,421.1 75.5,421.4 77.5,421.7 79.5,422.4 81.5,422.0 83.5,420.5 85.5,420.5 87.5,421.1 89.5,422.0 91.5,422.1 93.5,421.9 95.5,422.2 97.5,421.4 99.5,421.7 101.5,421.5 103.5,421.8 105.5,422.1 107.5,422.3 109.5,422.0 111.5,421.9 113.5,422.2 115.5,422.5 117.5,422.1 119.5,421.9 121.5,422.1 123.5,422.4 125.5,422.6 127.5,422.6 129.5,423.3 131.5,422.8 133.5,422.9 135.5,422.9 137.5,424.0 139.5,424.2 141.5,423.5 143.5,422.4 145.5,422.8 147.5,423.0 148.0,423.0 148.5,422.8 149.0,423.2 149.5,423.8 150.0,423.5 150.5,419.2 151.0,407.7 151.5,393.2 152.0,379.6 152.5,367.5 153.0,357.9 153.5,349.7 154.0,342.2 154.5,335.6 155.0,329.7 155.5,324.1 156.0,318.6 156.5,313.9 157.0,309.8 157.5,306.6 158.0,303.4 158.5,300.5 159.0,297.5 159.5,294.7 160.0,291.7 160.5,289.3 161.0,286.7 161.5,284.5 162.0,282.0 162.5,279.6 163.0,276.9 163.5,274.5 164.0,271.9 164.5,269.8 165.0,267.7 165.5,265.6 166.0,263.3 166.5,261.1 167.0,258.9 167.5,256.9 168.0,255.2 168.5,253.4 169.0,251.0 169.5,248.7 170.0,247.3 171.5,241.9 173.0,237.2 174.5,231.6 176.0,227.2 177.5,222.1 179.0,217.2 180.5,212.4 182.0,209.1 183.5,205.6 185.0,202.1 186.5,197.3 188.0,193.6 189.5,189.9 191.0,186.8 192.5,184.6 194.0,181.1 195.5,177.6 197.0,173.1 198.5,169.4 200.0,165.7 201.5,163.5 203.0,160.5 204.5,159.3 206.0,156.8 207.5,155.0 209.0,151.4 210.5,148.6 212.0,146.5 213.5,145.5 215.0,143.0 216.5,140.8 218.0,138.3 219.5,136.6 221.0,134.7 222.5,132.2 224.0,129.9 225.5,128.3 227.0,127.5 228.5,127.3 230.0,127.4 231.5,127.0 233.0,125.4 234.5,123.9 236.0,121.8 237.5,120.1 239.0,119.2 240.5,117.7 242.0,116.7 243.5,114.4 245.0,114.6 246.5,113.6 248.0,113.2 249.5,111.3 251.0,110.2 252.5,109.1 254.0,108.5 255.5,107.8 257.0,106.4 258.5,105.2 260.0,105.6 261.5,105.5 263.0,105.3 264.5,104.4 266.0,103.3 267.5,102.8 269.0,101.7 270.5,100.7 272.0,99.5 273.5,99.4 275.0,99.5 276.5,99.9 278.0,98.4 279.5,97.8 281.0,97.0 282.5,96.8 284.0,96.6 285.5,95.8 287.0,95.2 288.5,95.2 290.0,94.4 291.5,95.0 293.0,93.8 294.5,93.7 296.0,92.4 297.5,91.9 299.0,91.5 300.0,91.9 301.6,91.0 303.2,91.6 304.8,91.6 306.4,92.8 308.0,91.4 309.6,89.5 311.2,88.2 312.8,88.3 314.4,89.3 316.0,89.1 317.6,88.8 319.2,88.5 320.8,87.7 322.4,88.4 324.0,87.5 325.6,88.2 327.2,87.6 328.8,87.5 330.4,87.1 332.0,87.2 333.6,87.2 335.2,87.5 336.8,86.6 338.4,86.7 340.0,86.3 341.6,85.8 343.2,85.4 344.8,85.4 346.4,85.4 348.0,85.6 349.6,84.4 351.2,84.1 352.8,84.3 354.4,85.1 356.0,85.1 357.6,84.1 359.2,83.2 360.8,83.1 362.4,83.9 364.0,84.1 365.6,84.4 367.2,83.4 368.8,83.8 370.4,82.6 372.0,82.7 373.6,81.5 375.2,82.1 376.8,82.2 378.4,82.2 380.0,81.3 381.6,80.7 383.2,80.4 384.8,80.2 386.4,79.9 388.0,80.9 389.6,81.9 391.2,82.0 392.8,81.4 394.4,80.7 396.0,80.6 397.6,80.5 399.2,80.7 400.8,81.0 402.4,81.0 404.0,80.2 405.6,80.7 407.2,80.4 408.8,80.7 410.4,79.4 412.0,79.3 413.6,79.2 415.2,79.4 416.8,79.9 418.4,79.8 420.0,79.3 421.6,77.8 423.2,78.2 424.8,78.5 426.4,80.3 428.0,79.8 429.6,79.6 431.2,79.1 432.8,78.9 434.4,79.3 436.0,78.5 437.6,78.9 439.2,79.3 440.8,79.5 442.4,80.0 444.0,79.1 445.6,79.5 447.2,77.7 448.8,77.0 450.4,77.9 452.0,79.3 453.6,80.8 455.2,78.9 456.8,78.3 458.4,77.9 460.0,78.7 461.6,78.7 463.2,78.0 464.8,77.8 466.4,77.1 468.0,77.3 469.6,77.6 471.2,77.7 472.8,77.7 474.4,77.3 476.0,77.6 477.6,78.2 479.2,78.5 480.8,78.6 482.4,77.4 484.0,77.1 485.6,77.3 487.2,77.5 488.8,77.5 490.4,76.6 492.0,77.6 493.6,77.6 495.2,77.7 496.8,77.3 498.4,78.0 500.0,78.6 501.6,78.7 503.2,78.3 504.8,78.0 506.4,77.2 508.0,76.9 509.6,76.6 511.2,77.0 512.8,77.1 514.4,77.5 516.0,77.6 517.6,77.6 519.2,76.8 520.8,76.1 522.4,75.6 524.0,75.3 525.6,75.7 527.2,75.7 528.8,75.9 530.4,75.3 532.0,76.3 533.6,76.8 535.2,77.8 536.8,77.3 538.4,77.2 540.0,77.0 541.6,77.3 543.2,77.6 544.8,76.8 546.4,76.2 548.0,75.6 549.6,76.0 551.2,76.2 552.8,77.5 554.4,78.3 556.0,78.6 557.6,78.3 559.2,77.7 560.8,78.7 562.4,79.0 564.0,80.2 565.6,79.0 567.2,78.4 568.8,77.6 570.4,77.5 572.0,77.4 573.6,76.4 575.2,76.8 576.8,76.7 578.4,77.6 580.0,77.0 581.6,76.0 583.2,75.9 584.8,76.5 586.4,76.8 588.0,76.0 589.6,75.3 591.2,75.8 592.8,75.4 594.4,76.4 596.0,77.0 597.6,77.6 599.2,75.8 600.8,75.5 602.4,76.7 604.0,78.0 605.6,78.4 607.2,77.0 608.8,76.7 610.4,75.3 612.0,76.8 613.6,76.9 615.2,76.6 616.8,74.7 618.4,74.7 620.0,75.8 621.6,76.5 623.2,76.6 624.8,77.5 626.4,77.8 628.0,76.6 629.6,75.5 631.2,74.7 632.8,75.2 634.4,75.4 636.0,76.0 637.6,75.8 639.2,75.7 640.8,75.3 642.4,76.1 644.0,76.0 645.6,76.6 647.2,76.2 648.8,76.7 650.4,76.4 652.0,76.5 653.6,75.9 655.2,76.0 656.8,75.1 658.4,76.7 660.0,76.3 661.6,77.2 663.2,75.6 664.8,75.7 666.4,75.9 668.0,75.8 669.6,75.9 671.2,75.0 672.8,74.8 674.4,74.4 676.0,76.0 677.6,75.7 679.2,75.8 680.8,75.0 682.4,76.3 684.0,76.0 685.6,75.2 687.2,74.5 688.8,75.5 690.4,75.6 692.0,74.6 693.6,74.0 695.2,75.0 696.8,75.9 698.4,76.7 700.0,76.3 701.6,76.3 703.2,76.2 704.8,76.2 706.4,76.3 708.0,75.6 709.6,75.3 711.2,75.4 712.8,75.8 714.4,75.7 716.0,75.8 717.6,76.1 719.2,76.5 720.8,75.8 722.4,75.8 724.0,76.7 725.6,76.4 727.2,75.0 728.8,73.3 729.2,73.2 731.0,75.7 733.0,77.2 735.0,79.1 737.0,81.0 739.0,83.0 741.0,84.5 743.0,85.9 745.0,87.4 747.0,88.7" stroke="#a31515"/>
<path d="M51.5,421.4 53.5,421.8 55.5,421.9 57.5,422.0 59.5,421.2 61.5,421.1 63.5,420.4 65.5,421.6 67.5,422.2 69.5,423.1 71.5,422.9 73.5,423.2 75.5,423.3 77.5,422.4 79.5,421.7 81.5,420.6 83.5,420.9 85.5,420.6 87.5,421.4 89.5,421.9 91.5,422.0 93.5,422.0 95.5,422.0 97.5,422.3 99.5,422.4 101.5,421.5 103.5,421.4 105.5,421.8 107.5,422.7 109.5,422.4 111.5,422.1 113.5,422.1 115.5,422.4 117.5,422.7 119.5,422.4 121.5,422.7 123.5,422.4 125.5,423.5 127.5,423.6 129.5,423.4 131.5,423.0 133.5,423.0 135.5,423.3 137.5,422.3 139.5,422.6 141.5,422.5 143.5,422.9 145.5,423.3 147.5,423.3 148.0,423.7 148.5,422.8 149.0,422.3 149.5,422.2 150.0,422.9 150.5,418.7 151.0,407.3 151.5,393.2 152.0,379.4 152.5,367.0 153.0,357.2 153.5,349.2 154.0,341.9 154.5,335.5 155.0,329.5 155.5,324.1 156.0,319.2 156.5,314.3 157.0,310.1 157.5,306.5 158.0,303.4 158.5,300.7 159.0,298.1 159.5,295.5 160.0,292.6 160.5,289.8 161.0,287.0 161.5,284.6 162.0,282.3 162.5,280.0 163.0,277.5 163.5,275.2 164.0,272.8 164.5,270.5 165.0,268.0 165.5,265.9 166.0,263.6 166.5,262.0 167.0,259.8 167.5,257.9 168.0,255.5 168.5,253.5 169.0,251.6 169.5,249.6 170.0,247.7 171.5,242.0 173.0,236.5 174.5,231.9 176.0,227.3 177.5,223.3 179.0,217.9 180.5,213.5 182.0,208.6 183.5,205.1 185.0,201.6 186.5,198.3 188.0,194.5 189.5,190.9 191.0,187.8 192.5,185.4 194.0,180.7 195.5,177.1 197.0,172.9 198.5,170.3 200.0,167.3 201.5,164.1 203.0,160.6 204.5,157.5 206.0,155.3 207.5,154.8 209.0,152.5 210.5,149.7 212.0,145.6 213.5,143.6 215.0,142.0 216.5,141.0 218.0,138.5 219.5,136.4 221.0,133.4 222.5,132.5 224.0,130.5 225.5,128.7 227.0,127.6 228.5,127.2 230.0,127.3 231.5,125.5 233.0,123.5 234.5,122.6 236.0,120.7 237.5,120.9 239.0,119.4 240.5,117.9 242.0,116.3 243.5,116.2 245.0,116.0 246.5,115.1 248.0,113.1 249.5,112.0 251.0,109.4 252.5,109.2 254.0,108.5 255.5,109.2 257.0,107.3 258.5,106.3 260.0,105.9 261.5,105.6 263.0,105.2 264.5,103.3 266.0,103.0 267.5,102.9 269.0,102.7 270.5,101.9 272.0,100.4 273.5,100.8 275.0,100.0 276.5,100.0 278.0,99.6 279.5,99.3 281.0,98.1 282.5,96.4 284.0,95.9 285.5,97.1 287.0,97.2 288.5,96.8 290.0,96.0 291.5,96.1 293.0,95.4 294.5,95.3 296.0,94.7 297.5,95.0 299.0,92.8 300.0,92.2 301.6,92.3 303.2,93.0 304.8,93.7 306.4,92.7 308.0,92.0 309.6,90.8 311.2,90.6 312.8,91.2 314.4,90.5 316.0,90.7 317.6,89.8 319.2,89.7 320.8,88.2 322.4,87.8 324.0,87.6 325.6,87.6 327.2,87.5 328.8,87.1 330.4,87.3 332.0,87.7 333.6,87.9 335.2,88.1 336.8,87.6 338.4,86.8 340.0,85.3 341.6,84.8 343.2,84.5 344.8,84.2 346.4,85.0 348.0,84.3 349.6,85.2 351.2,84.5 352.8,85.1 354.4,86.1 356.0,85.6 357.6,85.2 359.2,84.6 360.8,84.1 362.4,83.6 364.0,82.1 365.6,82.0 367.2,82.6 368.8,83.2 370.4,82.6 372.0,82.6 373.6,83.4 375.2,83.7 376.8,83.4 378.4,82.5 380.0,83.3 381.6,82.9 383.2,82.0 384.8,80.8 386.4,81.6 388.0,82.4 389.6,81.7 391.2,80.0 392.8,78.8 394.4,79.1 396.0,80.2 397.6,80.9 399.2,82.5 400.8,82.6 402.4,82.5 404.0,82.0 405.6,81.1 407.2,80.3 408.8,79.6 410.4,80.4 412.0,80.2 413.6,80.6 415.2,80.5 416.8,81.0 418.4,80.5 420.0,79.9 421.6,80.1 423.2,80.4 424.8,80.1 426.4,80.5 428.0,80.4 429.6,81.2 431.2,79.7 432.8,78.3 434.4,78.1 436.0,78.7 437.6,79.3 439.2,78.5 440.8,78.0 442.4,78.2 444.0,78.2 445.6,78.5 447.2,78.8 448.8,78.5 450.4,79.4 452.0,78.0 453.6,79.8 455.2,78.5 456.8,79.8 458.4,79.0 460.0,79.6 461.6,79.7 463.2,79.1 464.8,78.2 466.4,78.0 468.0,78.5 469.6,79.1 471.2,78.1 472.8,77.1 474.4,77.6 476.0,78.5 477.6,79.3 479.2,79.4 480.8,79.5 482.4,77.9 484.0,78.7 485.6,78.4 487.2,79.8 488.8,78.5 490.4,78.4 492.0,78.0 493.6,78.9 495.2,79.7 496.8,80.0 498.4,80.1 500.0,79.2 501.6,79.1 503.2,77.8 504.8,78.7 506.4,78.4 508.0,79.1 509.6,79.3 511.2,78.2 512.8,78.8 514.4,78.1 516.0,78.9 517.6,76.8 519.2,76.5 520.8,75.5 522.4,76.5 524.0,76.5 525.6,78.6 527.2,78.4 528.8,79.0 530.4,78.6 532.0,79.8 533.6,79.1 535.2,78.9 536.8,77.1 538.4,76.6 540.0,76.1 541.6,76.8 543.2,76.8 544.8,76.7 546.4,77.0 548.0,77.4 549.6,77.5 551.2,76.7 552.8,77.6 554.4,78.6 556.0,79.1 557.6,78.3 559.2,78.3 560.8,78.4 562.4,78.1 564.0,76.6 565.6,76.0 567.2,77.4 568.8,77.8 570.4,79.5 572.0,78.4 573.6,78.6 575.2,77.8 576.8,77.7 578.4,78.0 580.0,76.8 581.6,76.2 583.2,75.7 584.8,76.3 586.4,76.6 588.0,75.9 589.6,76.1 591.2,76.3 592.8,77.1 594.4,76.6 596.0,75.5 597.6,76.5 599.2,76.5 600.8,77.9 602.4,77.8 604.0,78.6 605.6,78.4 607.2,77.7 608.8,77.3 610.4,77.6 612.0,77.9 613.6,77.5 615.2,77.3 616.8,77.2 618.4,77.7 620.0,77.6 621.6,78.1 623.2,77.9 624.8,78.2 626.4,77.5 628.0,77.1 629.6,76.2 631.2,76.1 632.8,76.6 634.4,77.7 636.0,77.8 637.6,77.2 639.2,76.3 640.8,77.0 642.4,77.3 644.0,77.3 645.6,77.0 647.2,76.3 648.8,76.6 650.4,76.2 652.0,76.8 653.6,76.1 655.2,76.7 656.8,77.6 658.4,77.5 660.0,77.0 661.6,76.5 663.2,78.3 664.8,78.0 666.4,77.2 668.0,76.1 669.6,77.3 671.2,77.8 672.8,77.9 674.4,77.8 676.0,76.7 677.6,75.4 679.2,75.0 680.8,76.5 682.4,76.8 684.0,76.6 685.6,76.3 687.2,77.1 688.8,76.4 690.4,76.1 692.0,75.6 693.6,76.0 695.2,76.1 696.8,77.4 698.4,77.7 700.0,77.0 701.6,76.3 703.2,76.7 704.8,77.7 706.4,78.0 708.0,77.3 709.6,77.5 711.2,76.4 712.8,76.8 714.4,75.8 716.0,76.9 717.6,75.7 719.2,75.4 720.8,74.9 722.4,75.5 724.0,76.3 725.6,76.0 727.2,75.8 728.8,75.2 729.2,75.1 731.0,76.8 733.0,78.6 735.0,80.4 737.0,81.8 739.0,83.3 741.0,84.6 743.0,86.2 745.0,87.6 747.0,88.9" stroke="#a31515"/>
<path d="M51.5,422.2 53.5,422.5 55.5,423.3 57.5,422.7 59.5,422.9 61.5,423.0 63.5,424.1 65.5,423.9 67.5,423.1 69.5,422.5 71.5,422.8 73.5,423.1 75.5,423.4 77.5,423.6 79.5,423.2 81.5,422.7 83.5,422.1 85.5,422.0 87.5,422.4 89.5,423.0 91.5,424.4 93.5,424.7 95.5,424.6 97.5,424.3 99.5,423.9 101.5,424.0 103.5,423.9 105.5,424.5 107.5,424.6 109.5,424.1 111.5,423.5 113.5,423.3 115.5,423.3 117.5,424.0 119.5,424.0 121.5,424.5 123.5,423.7 125.5,424.1 127.5,423.7 129.5,423.7 131.5,422.9 133.5,423.1 135.5,424.1 137.5,424.8 139.5,424.7 141.5,424.4 143.5,424.1 145.5,424.0 147.5,423.7 148.0,423.0 148.5,423.3 149.0,422.7 149.5,423.1 150.0,424.0 150.5,419.1 151.0,407.1 151.5,392.7 152.0,379.0 152.5,366.7 153.0,356.8 153.5,348.5 154.0,341.2 154.5,334.3 155.0,328.0 155.5,322.1 156.0,316.8 156.5,312.1 157.0,308.0 157.5,304.8 158.0,301.8 158.5,299.3 159.0,296.5 159.5,293.6 160.0,290.6 160.5,287.3 161.0,284.9 161.5,282.3 162.0,280.2 162.5,277.2 163.0,275.1 163.5,272.6 164.0,270.5 164.5,268.0 165.0,265.7 165.5,263.3 166.0,261.1 166.5,258.7 167.0,256.9 167.5,254.8 168.0,253.2 168.5,250.7 169.0,249.0 169.5,246.9 170.0,245.8 171.5,239.7 173.0,234.9 174.5,229.5 176.0,225.0 177.5,219.5 179.0,214.9 180.5,210.5 182.0,206.2 183.5,201.4 185.0,196.8 186.5,193.9 188.0,190.8 189.5,188.0 191.0,183.9 192.5,180.5 194.0,176.8 195.5,173.2 197.0,170.5 198.5,167.4 200.0,164.8 201.5,160.6 203.0,157.8 204.5,154.6 206.0,152.5 207.5,150.3 209.0,147.6 210.5,145.4 212.0,142.9 213.5,141.8 215.0,139.5 216.5,137.4 218.0,135.0 219.5,132.8 221.0,129.7 222.5,126.9 224.0,126.1 225.5,125.6 227.0,124.3 228.5,122.2 230.0,120.6 231.5,119.7 233.0,118.6 234.5,118.7 236.0,117.2 237.5,116.1 239.0,113.5 240.5,112.4 242.0,110.9 243.5,110.1 245.0,109.1 246.5,108.8 248.0,108.0 249.5,107.0 251.0,106.9 252.5,105.3 254.0,105.1 255.5,104.4 257.0,103.9 258.5,103.6 260.0,102.5 261.5,102.3 263.0,100.0 264.5,99.4 266.0,98.6 267.5,98.6 269.0,97.9 270.5,96.9 272.0,97.2 273.5,95.7 275.0,95.8 276.5,94.2 278.0,93.7 279.5,92.5 281.0,92.2 282.5,92.0 284.0,91.9 285.5,91.9 287.0,92.0 288.5,91.6 290.0,90.1 291.5,88.9 293.0,88.6 294.5,89.7 296.0,90.0 297.5,90.0 299.0,89.1 300.0,88.6 301.6,87.1 303.2,87.5 304.8,87.0 306.4,87.6 308.0,86.5 309.6,86.0 311.2,85.0 312.8,85.2 314.4,84.2 316.0,84.7 317.6,84.5 319.2,85.9 320.8,85.1 322.4,84.5 324.0,83.3 325.6,83.1 327.2,82.8 328.8,82.0 330.4,81.1 332.0,80.7 333.6,80.9 335.2,80.6 336.8,80.1 338.4,79.9 340.0,80.7 341.6,80.9 343.2,81.2 344.8,81.2 346.4,81.4 348.0,80.7 349.6,79.8 351.2,78.4 352.8,78.0 354.4,78.3 356.0,78.5 357.6,79.4 359.2,79.7 360.8,79.9 362.4,79.6 364.0,78.0 365.6,77.5 367.2,76.7 368.8,77.3 370.4,77.6 372.0,77.2 373.6,78.1 375.2,78.2 376.8,78.7 378.4,77.9 380.0,77.7 381.6,77.3 383.2,76.6 384.8,75.6 386.4,76.4 388.0,76.1 389.6,76.0 391.2,74.7 392.8,74.3 394.4,76.0 396.0,76.5 397.6,77.9 399.2,77.5 400.8,77.6 402.4,77.0 404.0,75.9 405.6,75.5 407.2,74.8 408.8,75.1 410.4,74.7 412.0,75.6 413.6,75.9 415.2,76.1 416.8,74.5 418.4,74.4 420.0,74.8 421.6,75.6 423.2,74.5 424.8,74.2 426.4,74.7 428.0,74.4 429.6,74.4 431.2,72.9 432.8,73.8 434.4,74.3 436.0,75.2 437.6,75.4 439.2,74.3 440.8,74.2 442.4,75.1 444.0,75.8 445.6,75.6 447.2,74.2 448.8,73.5 450.4,74.7 452.0,75.0 453.6,75.5 455.2,74.2 456.8,73.4 458.4,73.4 460.0,73.5 461.6,73.7 463.2,72.7 464.8,72.3 466.4,72.4 468.0,71.9 469.6,72.8 471.2,73.3 472.8,74.5 474.4,73.7 476.0,73.6 477.6,73.2 479.2,73.9 480.8,74.1 482.4,74.2 484.0,73.3 485.6,72.2 487.2,71.6 488.8,71.6 490.4,71.9 492.0,71.6 493.6,72.8 495.2,73.1 496.8,72.7 498.4,71.3 500.0,70.5 501.6,71.6 503.2,72.6 504.8,72.8 506.4,73.0 508.0,72.3 509.6,73.3 511.2,73.6 512.8,73.9 514.4,73.7 516.0,73.0 517.6,72.6 519.2,71.7 520.8,71.8 522.4,71.9 524.0,72.3 525.6,72.1 527.2,72.0 528.8,71.7 530.4,71.4 532.0,72.1 533.6,72.4 535.2,73.4 536.8,72.2 538.4,71.6 540.0,71.0 541.6,71.9 543.2,72.3 544.8,72.5 546.4,72.6 548.0,73.4 549.6,73.0 551.2,72.5 552.8,71.1 554.4,71.2 556.0,71.3 557.6,72.9 559.2,72.2 560.8,71.6 562.4,70.4 564.0,71.5 565.6,70.6 567.2,70.6 568.8,71.1 570.4,72.7 572.0,72.6 573.6,71.5 575.2,71.6 576.8,72.5 578.4,72.4 580.0,71.6 581.6,71.7 583.2,71.8 584.8,72.6 586.4,72.4 588.0,72.1 589.6,72.4 591.2,72.0 592.8,72.4 594.4,71.4 596.0,71.5 597.6,71.2 599.2,71.1 600.8,71.4 602.4,72.1 604.0,73.4 605.6,73.9 607.2,73.2 608.8,73.0 610.4,72.5 612.0,73.4 613.6,72.1 615.2,72.6 616.8,71.4 618.4,72.6 620.0,71.6 621.6,72.4 623.2,71.6 624.8,70.9 626.4,70.0 628.0,70.0 629.6,70.9 631.2,70.3 632.8,69.8 634.4,69.4 636.0,70.4 637.6,71.1 639.2,71.1 640.8,70.4 642.4,70.5 644.0,70.7 645.6,71.9 647.2,71.5 648.8,71.9 650.4,71.0 652.0,71.4 653.6,71.1 655.2,71.8 656.8,71.2 658.4,71.1 660.0,70.4 661.6,70.8 663.2,71.2 664.8,73.1 666.4,73.2 668.0,73.2 669.6,71.8 671.2,72.3 672.8,72.2 674.4,72.6 676.0,72.2 677.6,73.2 679.2,73.3 680.8,72.3 682.4,71.3 684.0,70.6 685.6,70.4 687.2,69.8 688.8,69.5 690.4,70.2 692.0,70.7 693.6,70.1 695.2,70.8 696.8,71.1 698.4,72.1 700.0,71.6 701.6,71.2 703.2,70.8 704.8,71.5 706.4,71.8 708.0,73.0 709.6,72.2 711.2,72.7 712.8,71.4 714.4,71.5 716.0,70.3 717.6,70.8 719.2,70.9 720.8,71.6 722.4,71.9 724.0,71.7 725.6,71.3 727.2,70.7 728.8,70.6 729.2,70.2 731.0,71.4 733.0,73.0 735.0,74.8 737.0,76.5 739.0,77.8 741.0,79.3 743.0,80.9 745.0,82.5 747.0,84.1" stroke="#17a0e6"/>
<path d="M51.5,421.5 53.5,420.9 55.5,420.6 57.5,420.2 59.5,420.2 61.5,421.0 63.5,420.3 65.5,420.6 67.5,419.8 69.5,420.3 71.5,420.9 73.5,421.6 75.5,422.2 77.5,422.2 79.5,421.3 81.5,421.1 83.5,420.3 85.5,420.9 87.5,420.7 89.5,421.2 91.5,421.6 93.5,421.5 95.5,422.3 97.5,422.4 99.5,423.1 101.5,422.8 103.5,423.0 105.5,422.6 107.5,423.0 109.5,422.4 111.5,422.6 113.5,422.0 115.5,422.3 117.5,422.3 119.5,422.1 121.5,422.5 123.5,422.7 125.5,423.0 127.5,423.0 129.5,422.4 131.5,421.8 133.5,421.4 135.5,421.7 137.5,423.2 139.5,423.4 141.5,423.9 143.5,423.4 145.5,424.2 147.5,423.9 148.0,423.9 148.5,423.1 149.0,422.8 149.5,422.2 150.0,422.5 150.5,418.5 151.0,407.1 151.5,392.8 152.0,379.0 152.5,366.5 153.0,356.7 153.5,348.3 154.0,341.1 154.5,334.6 155.0,328.3 155.5,322.7 156.0,317.4 156.5,312.7 157.0,308.4 157.5,304.8 158.0,302.1 158.5,299.5 159.0,296.6 159.5,293.7 160.0,291.0 160.5,288.3 161.0,285.9 161.5,283.2 162.0,280.4 162.5,277.5 163.0,275.0 163.5,272.7 164.0,270.6 164.5,268.4 165.0,266.5 165.5,264.3 166.0,262.3 166.5,259.7 167.0,257.4 167.5,255.1 168.0,253.3 168.5,251.5 169.0,249.4 169.5,247.3 170.0,245.7 171.5,240.4 173.0,234.8 174.5,229.1 176.0,223.8 177.5,219.8 179.0,215.5 180.5,210.6 182.0,206.4 183.5,202.2 185.0,199.4 186.5,195.3 188.0,192.2 189.5,188.4 191.0,185.2 192.5,181.0 194.0,177.8 195.5,174.2 197.0,170.7 198.5,166.9 200.0,163.7 201.5,161.6 203.0,159.3 204.5,156.3 206.0,153.8 207.5,150.8 209.0,148.4 210.5,146.1 212.0,143.5 213.5,141.2 215.0,139.1 216.5,137.9 218.0,136.2 219.5,134.4 221.0,132.7 222.5,131.0 224.0,129.8 225.5,127.7 227.0,126.5 228.5,122.9 230.0,121.8 231.5,120.0 233.0,120.1 234.5,117.7 236.0,117.3 237.5,116.6 239.0,117.2 240.5,114.1 242.0,112.6 243.5,110.8 245.0,109.8 246.5,108.2 248.0,107.0 249.5,108.3 251.0,107.3 252.5,106.6 254.0,105.1 255.5,104.9 257.0,103.8 258.5,103.5 260.0,103.1 261.5,101.9 263.0,101.3 264.5,99.8 266.0,99.7 267.5,99.1 269.0,98.9 270.5,98.7 272.0,98.0 273.5,97.6 275.0,96.5 276.5,95.2 278.0,94.7 279.5,94.8 281.0,95.0 282.5,94.1 284.0,93.7 285.5,93.0 287.0,92.0 288.5,91.3 290.0,91.1 291.5,91.8 293.0,90.8 294.5,89.8 296.0,89.2 297.5,89.0 299.0,89.0 300.0,89.1 301.6,89.1 303.2,89.7 304.8,89.0 306.4,89.3 308.0,88.6 309.6,89.4 311.2,88.3 312.8,87.4 314.4,86.5 316.0,86.0 317.6,85.5 319.2,84.7 320.8,84.9 322.4,84.1 324.0,83.9 325.6,83.3 327.2,83.7 328.8,83.4 330.4,83.3 332.0,83.6 333.6,83.5 335.2,83.3 336.8,82.6 338.4,82.7 340.0,82.9 341.6,83.3 343.2,82.6 344.8,82.0 346.4,82.2 348.0,82.1 349.6,82.7 351.2,81.9 352.8,81.6 354.4,79.9 356.0,79.6 357.6,79.4 359.2,79.5 360.8,78.2 362.4,79.0 364.0,79.3 365.6,80.0 367.2,79.4 368.8,79.4 370.4,79.3 372.0,79.2 373.6,78.8 375.2,77.4 376.8,77.4 378.4,77.6 380.0,78.8 381.6,79.1 383.2,78.1 384.8,76.5 386.4,76.4 388.0,77.2 389.6,77.7 391.2,76.6 392.8,76.6 394.4,76.8 396.0,77.1 397.6,77.8 399.2,78.9 400.8,78.6 402.4,77.6 404.0,76.4 405.6,76.4 407.2,76.0 408.8,75.9 410.4,75.1 412.0,76.1 413.6,76.6 415.2,76.6 416.8,75.4 418.4,76.0 420.0,77.3 421.6,77.1 423.2,76.4 424.8,76.0 426.4,76.0 428.0,75.3 429.6,74.3 431.2,74.5 432.8,74.6 434.4,74.4 436.0,74.2 437.6,75.0 439.2,75.9 440.8,75.8 442.4,76.3 444.0,75.5 445.6,75.5 447.2,73.9 448.8,74.6 450.4,74.5 452.0,74.3 453.6,73.5 455.2,74.4 456.8,75.5 458.4,75.9 460.0,75.4 461.6,74.2 463.2,73.7 464.8,72.6 466.4,73.0 468.0,73.1 469.6,74.0 471.2,74.9 472.8,75.5 474.4,76.5 476.0,75.7 477.6,75.2 479.2,74.1 480.8,73.9 482.4,73.8 484.0,73.7 485.6,73.6 487.2,74.0 488.8,74.3 490.4,74.2 492.0,72.8 493.6,72.2 495.2,72.2 496.8,73.4 498.4,73.1 500.0,73.8 501.6,74.2 503.2,74.8 504.8,74.4 506.4,73.3 508.0,71.7 509.6,70.7 511.2,70.9 512.8,72.1 514.4,72.8 516.0,72.9 517.6,72.1 519.2,71.6 520.8,71.0 522.4,72.0 524.0,71.9 525.6,73.0 527.2,72.2 528.8,73.4 530.4,73.2 532.0,74.0 533.6,74.3 535.2,73.8 536.8,72.9 538.4,72.1 540.0,72.1 541.6,72.8 543.2,73.0 544.8,73.3 546.4,73.2 548.0,73.0 549.6,73.5 551.2,72.4 552.8,72.7 554.4,72.4 556.0,72.9 557.6,72.5 559.2,72.6 560.8,72.8 562.4,72.2 564.0,71.1 565.6,71.7 567.2,72.2 568.8,73.5 570.4,73.7 572.0,74.0 573.6,73.6 575.2,72.5 576.8,72.4 578.4,71.8 580.0,72.5 581.6,72.0 583.2,72.3 584.8,72.0 586.4,72.9 588.0,71.9 589.6,71.0 591.2,70.3 592.8,71.2 594.4,72.1 596.0,72.7 597.6,73.7 599.2,74.0 600.8,74.2 602.4,72.9 604.0,73.0 605.6,73.0 607.2,73.6 608.8,73.1 610.4,73.1 612.0,73.5 613.6,73.2 615.2,71.8 616.8,71.4 618.4,72.2 620.0,73.1 621.6,72.5 623.2,73.5 624.8,73.3 626.4,72.9 628.0,71.4 629.6,71.8 631.2,72.1 632.8,72.1 634.4,72.0 636.0,72.1 637.6,72.4 639.2,72.2 640.8,71.9 642.4,71.8 644.0,71.3 645.6,72.2 647.2,71.8 648.8,72.2 650.4,70.8 652.0,71.1 653.6,70.6 655.2,72.2 656.8,72.3 658.4,73.2 660.0,71.6 661.6,71.0 663.2,70.7 664.8,70.9 666.4,72.0 668.0,71.9 669.6,72.6 671.2,72.2 672.8,72.3 674.4,72.6 676.0,72.2 677.6,72.4 679.2,72.6 680.8,73.0 682.4,72.9 684.0,72.1 685.6,72.1 687.2,72.3 688.8,72.4 690.4,71.5 692.0,71.3 693.6,71.3 695.2,72.3 696.8,72.3 698.4,73.1 700.0,72.3 701.6,71.8 703.2,71.3 704.8,71.4 706.4,72.0 708.0,71.7 709.6,71.2 711.2,71.4 712.8,72.1 714.4,73.1 716.0,72.1 717.6,71.8 719.2,71.2 720.8,71.8 722.4,71.4 724.0,71.3 725.6,70.2 727.2,69.7 728.8,70.0 729.2,70.4 731.0,72.0 733.0,73.7 735.0,75.4 737.0,77.0 739.0,78.3 741.0,79.9 743.0,81.6 745.0,83.2 747.0,84.5" stroke="#17a0e6"/>
<path d="M51.5,421.7 53.5,421.6 55.5,421.5 57.5,421.5 59.5,421.2 61.5,421.3 63.5,421.5 65.5,422.4 67.5,422.6 69.5,422.6 71.5,422.3 73.5,422.0 75.5,422.5 77.5,422.5 79.5,423.7 81.5,423.0 83.5,422.8 85.5,421.8 87.5,422.3 89.5,422.6 91.5,422.4 93.5,422.1 95.5,422.0 97.5,422.7 99.5,422.6 101.5,422.0 103.5,422.1 105.5,422.8 107.5,423.7 109.5,423.0 111.5,422.7 113.5,422.5 115.5,423.0 117.5,423.1 119.5,423.0 121.5,423.2 123.5,423.2 125.5,423.1 127.5,422.6 129.5,422.6 131.5,422.9 133.5,423.0 135.5,423.1 137.5,423.5 139.5,423.8 141.5,423.8 143.5,423.8 145.5,423.6 147.5,423.7 148.0,423.3 148.5,423.3 149.0,423.2 149.5,423.2 150.0,423.3 150.5,418.7 151.0,407.0 151.5,392.8 152.0,379.3 152.5,367.2 153.0,357.4 153.5,349.0 154.0,341.3 154.5,334.5 155.0,328.6 155.5,323.0 156.0,317.9 156.5,312.9 157.0,308.8 157.5,305.3 158.0,302.3 158.5,299.5 159.0,296.7 159.5,293.9 160.0,291.4 160.5,288.7 161.0,286.1 161.5,283.1 162.0,280.4 162.5,278.0 163.0,275.6 163.5,273.1 164.0,270.5 164.5,268.1 165.0,266.0 165.5,263.9 166.0,261.7 166.5,259.7 167.0,257.9 167.5,256.0 168.0,253.3 168.5,251.1 169.0,249.2 169.5,247.8 170.0,245.9 171.5,240.3 173.0,234.6 174.5,228.7 176.0,223.9 177.5,219.5 179.0,215.9 180.5,211.2 182.0,207.1 183.5,203.4 185.0,199.1 186.5,195.3 188.0,190.5 189.5,187.4 191.0,184.1 192.5,181.5 194.0,178.3 195.5,174.1 197.0,170.8 198.5,168.1 200.0,166.2 201.5,164.2 203.0,161.3 204.5,157.6 206.0,153.8 207.5,151.0 209.0,149.5 210.5,146.9 212.0,145.0 213.5,142.6 215.0,140.6 216.5,138.5 218.0,135.9 219.5,134.4 221.0,132.2 222.5,130.9 224.0,128.7 225.5,127.5 227.0,124.8 228.5,123.7 230.0,121.8 231.5,122.1 233.0,121.3 234.5,120.0 236.0,117.6 237.5,116.2 239.0,115.0 240.5,115.4 242.0,113.0 243.5,112.3 245.0,109.1 246.5,109.9 248.0,108.6 249.5,109.5 251.0,107.9 252.5,108.0 254.0,106.5 255.5,106.5 257.0,105.2 258.5,103.0 260.0,101.4 261.5,99.9 263.0,101.1 264.5,101.0 266.0,101.1 267.5,100.2 269.0,99.4 270.5,98.6 272.0,98.7 273.5,98.2 275.0,97.8 276.5,95.7 278.0,94.7 279.5,94.3 281.0,94.4 282.5,94.0 284.0,93.5 285.5,92.7 287.0,92.4 288.5,91.3 290.0,91.0 291.5,90.3 293.0,91.0 294.5,91.2 296.0,91.2 297.5,89.9 299.0,89.2 300.0,89.3 301.6,90.0 303.2,89.1 304.8,88.2 306.4,87.4 308.0,87.9 309.6,87.8 311.2,87.7 312.8,86.6 314.4,87.0 316.0,85.8 317.6,86.3 319.2,85.5 320.8,86.3 322.4,86.4 324.0,86.3 325.6,86.1 327.2,85.4 328.8,85.1 330.4,85.0 332.0,84.5 333.6,83.3 335.2,81.9 336.8,82.7 338.4,83.7 340.0,83.8 341.6,83.0 343.2,82.5 344.8,83.0 346.4,81.8 348.0,81.1 349.6,80.3 351.2,81.2 352.8,81.3 354.4,81.1 356.0,80.9 357.6,79.6 359.2,81.0 360.8,81.1 362.4,82.6 364.0,80.7 365.6,80.3 367.2,80.7 368.8,81.8 370.4,81.5 372.0,79.8 373.6,78.9 375.2,78.6 376.8,79.5 378.4,78.7 380.0,78.6 381.6,78.2 383.2,78.5 384.8,79.0 386.4,78.2 388.0,77.7 389.6,77.0 391.2,77.8 392.8,78.1 394.4,77.9 396.0,77.8 397.6,78.0 399.2,77.9 400.8,77.5 402.4,77.2 404.0,77.6 405.6,77.6 407.2,77.2 408.8,76.6 410.4,76.3 412.0,76.8 413.6,77.1 415.2,76.8 416.8,76.5 418.4,76.4 420.0,77.2 421.6,77.4 423.2,78.1 424.8,77.5 426.4,77.7 428.0,76.5 429.6,76.0 431.2,75.6 432.8,76.0 434.4,76.5 436.0,76.5 437.6,76.0 439.2,75.5 440.8,75.2 442.4,75.5 444.0,76.3 445.6,74.8 447.2,74.9 448.8,74.9 450.4,77.0 452.0,76.8 453.6,76.6 455.2,75.7 456.8,75.5 458.4,75.3 460.0,75.0 461.6,74.6 463.2,74.4 464.8,74.3 466.4,74.6 468.0,73.8 469.6,74.5 471.2,74.4 472.8,74.8 474.4,74.3 476.0,74.0 477.6,73.2 479.2,73.4 480.8,73.6 482.4,75.2 484.0,75.1 485.6,75.0 487.2,75.0 488.8,76.1 490.4,75.9 492.0,75.7 493.6,75.4 495.2,75.8 496.8,74.9 498.4,73.8 500.0,73.8 501.6,75.4 503.2,75.7 504.8,76.1 506.4,75.9 508.0,75.4 509.6,74.3 511.2,74.1 512.8,75.2 514.4,75.7 516.0,74.9 517.6,74.8 519.2,74.2 520.8,75.3 522.4,74.5 524.0,73.9 525.6,72.8 527.2,74.0 528.8,74.6 530.4,74.5 532.0,73.3 533.6,73.5 535.2,73.0 536.8,73.0 538.4,72.3 540.0,72.5 541.6,73.9 543.2,74.5 544.8,74.8 546.4,75.0 548.0,74.7 549.6,74.1 551.2,73.3 552.8,73.0 554.4,73.6 556.0,73.9 557.6,74.0 559.2,73.5 560.8,73.8 562.4,73.8 564.0,73.7 565.6,73.0 567.2,73.3 568.8,73.2 570.4,73.9 572.0,73.7 573.6,74.3 575.2,73.3 576.8,73.5 578.4,72.7 580.0,73.3 581.6,73.2 583.2,74.4 584.8,73.4 586.4,73.4 588.0,73.0 589.6,73.6 591.2,73.5 592.8,73.2 594.4,72.5 596.0,72.8 597.6,71.6 599.2,72.3 600.8,72.9 602.4,74.6 604.0,74.9 605.6,74.1 607.2,73.9 608.8,73.3 610.4,73.4 612.0,73.1 613.6,71.7 615.2,72.2 616.8,72.4 618.4,74.4 620.0,73.5 621.6,73.6 623.2,73.4 624.8,72.8 626.4,71.7 628.0,71.4 629.6,72.2 631.2,73.0 632.8,72.7 634.4,73.7 636.0,72.8 637.6,72.4 639.2,71.2 640.8,71.5 642.4,71.9 644.0,72.3 645.6,72.3 647.2,72.7 648.8,73.4 650.4,74.5 652.0,75.3 653.6,75.2 655.2,74.6 656.8,74.5 658.4,74.3 660.0,75.2 661.6,74.3 663.2,72.9 664.8,71.5 666.4,71.7 668.0,72.9 669.6,73.4 671.2,73.8 672.8,72.9 674.4,72.7 676.0,72.7 677.6,73.3 679.2,73.6 680.8,73.8 682.4,74.3 684.0,73.9 685.6,73.3 687.2,72.0 688.8,72.3 690.4,72.4 692.0,72.4 693.6,73.1 695.2,73.9 696.8,74.9 698.4,74.6 700.0,74.4 701.6,74.1 703.2,74.1 704.8,73.6 706.4,72.9 708.0,72.0 709.6,71.6 711.2,72.8 712.8,73.2 714.4,74.0 716.0,73.2 717.6,72.6 719.2,73.1 720.8,74.6 722.4,75.2 724.0,73.8 725.6,72.8 727.2,71.9 728.8,71.8 729.2,70.5 731.0,73.0 733.0,74.7 735.0,76.4 737.0,77.8 739.0,79.0 741.0,80.5 743.0,82.4 745.0,84.1 747.0,86.1" stroke="#17a0e6"/>
<path d="M51.5,421.6 53.5,422.4 55.5,422.2 57.5,421.9 59.5,422.2 61.5,422.2 63.5,422.0 65.5,421.9 67.5,422.2 69.5,422.7 71.5,422.7 73.5,422.5 75.5,422.2 77.5,422.1 79.5,421.5 81.5,421.6 83.5,422.1 85.5,422.7 87.5,422.5 89.5,422.5 91.5,422.7 93.5,423.1 95.5,423.0 97.5,423.2 99.5,423.2 101.5,422.8 103.5,423.2 105.5,423.3 107.5,423.3 109.5,422.8 111.5,423.3 113.5,423.1 115.5,423.5 117.5,423.1 119.5,424.3 121.5,424.1 123.5,424.1 125.5,423.9 127.5,424.2 129.5,424.1 131.5,423.8 133.5,423.3 135.5,423.8 137.5,423.3 139.5,423.4 141.5,422.4 143.5,423.1 145.5,422.5 147.5,422.9 148.0,422.8 148.5,423.4 149.0,423.6 149.5,423.3 150.0,423.6 150.5,418.6 151.0,407.1 151.5,392.9 152.0,379.6 152.5,367.2 153.0,357.5 153.5,349.1 154.0,341.9 154.5,335.2 155.0,329.1 155.5,323.3 156.0,317.6 156.5,312.9 157.0,308.8 157.5,306.0 158.0,302.7 158.5,300.0 159.0,296.9 159.5,294.3 160.0,291.3 160.5,288.8 161.0,286.1 161.5,283.8 162.0,281.2 162.5,278.8 163.0,276.5 163.5,274.1 164.0,271.7 164.5,269.4 165.0,267.1 165.5,265.0 166.0,262.5 166.5,260.3 167.0,257.5 167.5,255.6 168.0,253.5 168.5,252.3 169.0,250.5 169.5,248.6 170.0,246.7 171.5,240.7 173.0,235.9 174.5,230.3 176.0,225.4 177.5,220.7 179.0,217.0 180.5,213.4 182.0,209.4 183.5,204.7 185.0,200.8 186.5,196.8 188.0,193.3 189.5,188.8 191.0,185.5 192.5,182.5 194.0,178.9 195.5,175.4 197.0,172.8 198.5,170.7 200.0,168.0 201.5,164.4 203.0,160.7 204.5,158.3 206.0,155.3 207.5,153.0 209.0,149.9 210.5,147.5 212.0,145.2 213.5,143.2 215.0,141.1 216.5,139.0 218.0,137.1 219.5,135.3 221.0,133.2 222.5,131.4 224.0,130.3 225.5,129.5 227.0,128.2 228.5,126.2 230.0,124.3 231.5,123.7 233.0,123.0 234.5,121.3 236.0,119.1 237.5,117.3 239.0,116.4 240.5,114.5 242.0,113.7 243.5,112.2 245.0,111.8 246.5,111.5 248.0,111.7 249.5,110.6 251.0,108.6 252.5,106.8 254.0,105.5 255.5,104.7 257.0,104.3 258.5,103.9 260.0,104.0 261.5,103.4 263.0,103.0 264.5,102.8 266.0,102.5 267.5,102.1 269.0,101.6 270.5,101.2 272.0,100.3 273.5,99.0 275.0,97.7 276.5,96.8 278.0,97.0 279.5,97.4 281.0,97.0 282.5,95.9 284.0,94.0 285.5,94.6 287.0,93.9 288.5,94.1 290.0,93.8 291.5,93.4 293.0,93.0 294.5,92.5 296.0,92.0 297.5,92.1 299.0,91.3 300.0,91.6 301.6,91.1 303.2,91.2 304.8,90.0 306.4,90.2 308.0,89.4 309.6,90.4 311.2,88.9 312.8,88.6 314.4,87.3 316.0,87.9 317.6,87.5 319.2,87.5 320.8,86.0 322.4,85.7 324.0,85.4 325.6,85.8 327.2,84.9 328.8,84.8 330.4,84.1 332.0,85.7 333.6,85.2 335.2,86.5 336.8,85.7 338.4,85.8 340.0,84.3 341.6,83.7 343.2,83.5 344.8,82.6 346.4,83.0 348.0,82.0 349.6,82.6 351.2,80.7 352.8,81.3 354.4,81.6 356.0,82.9 357.6,82.6 359.2,82.0 360.8,81.8 362.4,82.0 364.0,81.9 365.6,81.9 367.2,81.5 368.8,81.5 370.4,81.2 372.0,80.8 373.6,80.6 375.2,81.5 376.8,81.1 378.4,82.0 380.0,81.2 381.6,80.4 383.2,79.6 384.8,79.4 386.4,80.7 388.0,80.0 389.6,79.6 391.2,78.5 392.8,78.3 394.4,78.0 396.0,78.6 397.6,79.7 399.2,79.9 400.8,80.3 402.4,78.8 404.0,78.0 405.6,77.2 407.2,78.5 408.8,78.4 410.4,77.8 412.0,76.8 413.6,78.0 415.2,77.9 416.8,77.7 418.4,76.4 420.0,77.8 421.6,78.2 423.2,78.9 424.8,78.1 426.4,77.6 428.0,77.5 429.6,77.2 431.2,76.8 432.8,76.1 434.4,76.4 436.0,76.4 437.6,77.3 439.2,76.2 440.8,76.8 442.4,76.6 444.0,78.1 445.6,77.7 447.2,76.7 448.8,75.6 450.4,76.2 452.0,76.7 453.6,76.9 455.2,76.1 456.8,76.1 458.4,76.2 460.0,75.7 461.6,75.4 463.2,75.9 464.8,77.3 466.4,77.5 468.0,76.7 469.6,76.6 471.2,76.6 472.8,76.2 474.4,75.5 476.0,75.9 477.6,77.1 479.2,76.9 480.8,76.8 482.4,75.9 484.0,76.6 485.6,76.5 487.2,76.7 488.8,75.7 490.4,75.4 492.0,75.1 493.6,73.8 495.2,74.3 496.8,74.4 498.4,76.0 500.0,75.4 501.6,75.4 503.2,75.6 504.8,75.1 506.4,75.2 508.0,75.1 509.6,75.7 511.2,74.9 512.8,74.8 514.4,74.1 516.0,75.0 517.6,75.6 519.2,76.6 520.8,76.3 522.4,75.4 524.0,74.7 525.6,75.0 527.2,74.9 528.8,74.9 530.4,73.5 532.0,73.4 533.6,73.3 535.2,74.2 536.8,75.2 538.4,74.9 540.0,74.5 541.6,74.2 543.2,74.3 544.8,74.9 546.4,74.7 548.0,75.1 549.6,74.8 551.2,75.1 552.8,75.8 554.4,75.7 556.0,75.1 557.6,74.8 559.2,75.2 560.8,74.9 562.4,74.2 564.0,74.7 565.6,74.7 567.2,75.0 568.8,74.7 570.4,74.9 572.0,75.0 573.6,75.2 575.2,75.9 576.8,76.1 578.4,75.1 580.0,75.0 581.6,74.8 583.2,76.0 584.8,75.1 586.4,75.3 588.0,75.0 589.6,74.8 591.2,75.0 592.8,74.4 594.4,74.5 596.0,74.1 597.6,74.1 599.2,74.8 600.8,74.5 602.4,74.9 604.0,75.1 605.6,75.2 607.2,75.4 608.8,75.5 610.4,75.1 612.0,75.0 613.6,74.9 615.2,75.4 616.8,75.5 618.4,76.0 620.0,76.3 621.6,75.0 623.2,74.4 624.8,74.0 626.4,74.6 628.0,74.5 629.6,74.4 631.2,75.3 632.8,75.3 634.4,75.4 636.0,75.0 637.6,75.3 639.2,75.8 640.8,75.7 642.4,75.3 644.0,74.8 645.6,73.5 647.2,72.8 648.8,73.2 650.4,74.1 652.0,75.6 653.6,76.0 655.2,75.6 656.8,74.8 658.4,75.3 660.0,75.6 661.6,75.6 663.2,74.1 664.8,74.4 666.4,74.0 668.0,74.1 669.6,74.6 671.2,74.3 672.8,74.6 674.4,73.9 676.0,74.5 677.6,74.4 679.2,74.4 680.8,74.2 682.4,73.7 684.0,73.6 685.6,74.1 687.2,73.6 688.8,74.2 690.4,74.0 692.0,74.6 693.6,74.8 695.2,74.9 696.8,74.6 698.4,74.3 700.0,74.1 701.6,74.4 703.2,74.4 704.8,74.5 706.4,74.5 708.0,73.3 709.6,73.1 711.2,73.1 712.8,73.2 714.4,72.8 716.0,72.0 717.6,72.7 719.2,73.6 720.8,73.3 722.4,73.5 724.0,72.1 725.6,73.0 727.2,72.1 728.8,72.7 729.2,72.9 731.0,74.4 733.0,75.6 735.0,77.1 737.0,79.0 739.0,80.6 741.0,82.3 743.0,83.7 745.0,85.1 747.0,86.8" stroke="#17a0e6"/>
<path d="M51.5,422.7 53.5,422.9 55.5,423.3 57.5,423.0 59.5,423.4 61.5,423.9 63.5,424.0 65.5,423.7 67.5,423.5 69.5,424.2 71.5,423.6 73.5,423.2 75.5,422.7 77.5,423.5 79.5,424.4 81.5,424.7 83.5,425.4 85.5,424.7 87.5,424.5 89.5,423.8 91.5,424.5 93.5,424.4 95.5,424.8 97.5,424.2 99.5,424.3 101.5,423.8 103.5,424.0 105.5,423.9 107.5,423.7 109.5,424.2 111.5,424.5 113.5,425.3 115.5,424.6 117.5,423.9 119.5,423.4 121.5,423.7 123.5,424.7 125.5,425.3 127.5,425.8 129.5,426.1 131.5,426.0 133.5,425.7 135.5,424.9 137.5,425.0 139.5,424.8 141.5,424.8 143.5,424.8 145.5,425.1 147.5,425.7 148.0,425.3 148.5,425.6 149.0,425.4 149.5,425.6 150.0,425.1 150.5,419.3 151.0,406.6 151.5,391.6 152.0,377.2 152.5,364.5 153.0,354.0 153.5,345.4 154.0,337.5 154.5,330.6 155.0,324.5 155.5,318.8 156.0,313.3 156.5,307.9 157.0,303.2 157.5,299.9 158.0,296.9 158.5,294.0 159.0,291.0 159.5,287.9 160.0,285.4 160.5,282.5 161.0,280.0 161.5,277.3 162.0,274.3 162.5,271.5 163.0,268.8 163.5,266.5 164.0,264.2 164.5,261.9 165.0,259.4 165.5,256.7 166.0,254.4 166.5,252.3 167.0,250.7 167.5,248.9 168.0,246.8 168.5,244.7 169.0,242.0 169.5,240.2 170.0,238.1 171.5,232.6 173.0,227.1 174.5,221.4 176.0,216.4 177.5,211.3 179.0,207.6 180.5,202.2 182.0,197.6 183.5,193.5 185.0,190.0 186.5,185.9 188.0,181.9 189.5,179.5 191.0,176.1 192.5,171.3 194.0,166.4 195.5,162.7 197.0,159.4 198.5,156.1 200.0,153.2 201.5,150.7 203.0,148.4 204.5,145.5 206.0,142.1 207.5,139.6 209.0,137.2 210.5,135.0 212.0,132.1 213.5,129.9 215.0,128.0 216.5,126.0 218.0,124.1 219.5,122.7 221.0,120.7 222.5,118.5 224.0,115.7 225.5,114.1 227.0,112.8 228.5,112.2 230.0,110.8 231.5,109.1 233.0,107.0 234.5,105.7 236.0,103.9 237.5,103.1 239.0,101.8 240.5,100.7 242.0,99.7 243.5,98.5 245.0,98.2 246.5,96.8 248.0,96.2 249.5,95.7 251.0,95.1 252.5,94.3 254.0,92.4 255.5,91.3 257.0,89.2 258.5,88.7 260.0,87.6 261.5,87.8 263.0,86.1 264.5,85.6 266.0,84.9 267.5,85.4 269.0,84.4 270.5,83.5 272.0,84.0 273.5,84.6 275.0,84.3 276.5,81.2 278.0,79.8 279.5,79.4 281.0,80.4 282.5,80.5 284.0,80.3 285.5,79.7 287.0,79.4 288.5,77.7 290.0,78.4 291.5,77.4 293.0,77.5 294.5,76.7 296.0,76.7 297.5,77.1 299.0,75.7 300.0,75.3 301.6,74.8 303.2,74.2 304.8,73.6 306.4,72.8 308.0,72.8 309.6,72.2 311.2,71.4 312.8,71.5 314.4,71.6 316.0,72.4 317.6,71.9 319.2,71.2 320.8,69.6 322.4,69.4 324.0,69.3 325.6,70.7 327.2,71.6 328.8,72.2 330.4,70.6 332.0,68.6 333.6,67.4 335.2,67.2 336.8,68.4 338.4,68.3 340.0,68.3 341.6,67.4 343.2,67.8 344.8,67.3 346.4,67.4 348.0,65.9 349.6,66.1 351.2,65.4 352.8,66.0 354.4,66.0 356.0,66.7 357.6,66.7 359.2,66.2 360.8,64.8 362.4,64.0 364.0,63.9 365.6,64.3 367.2,64.1 368.8,64.7 370.4,65.1 372.0,65.2 373.6,64.4 375.2,63.7 376.8,63.6 378.4,63.8 380.0,63.0 381.6,62.7 383.2,61.7 384.8,62.3 386.4,62.8 388.0,63.0 389.6,63.0 391.2,62.3 392.8,62.3 394.4,63.1 396.0,63.7 397.6,64.2 399.2,63.0 400.8,62.6 402.4,62.2 404.0,62.6 405.6,61.8 407.2,61.8 408.8,61.3 410.4,61.0 412.0,61.8 413.6,62.3 415.2,62.5 416.8,60.9 418.4,60.1 420.0,60.0 421.6,60.3 423.2,59.9 424.8,59.8 426.4,60.1 428.0,60.9 429.6,60.3 431.2,60.2 432.8,59.5 434.4,59.9 436.0,59.7 437.6,59.7 439.2,60.5 440.8,61.0 442.4,61.1 444.0,60.4 445.6,60.9 447.2,61.9 448.8,62.3 450.4,61.3 452.0,60.9 453.6,61.3 455.2,61.1 456.8,61.4 458.4,60.6 460.0,61.3 461.6,60.2 463.2,60.2 464.8,59.5 466.4,59.7 468.0,60.1 469.6,59.8 471.2,59.7 472.8,59.4 474.4,59.6 476.0,60.6 477.6,59.6 479.2,61.1 480.8,59.7 482.4,60.9 484.0,60.4 485.6,60.9 487.2,59.7 488.8,58.8 490.4,58.5 492.0,59.4 493.6,60.0 495.2,60.5 496.8,60.9 498.4,60.0 500.0,59.9 501.6,58.3 503.2,58.8 504.8,57.8 506.4,57.7 508.0,58.1 509.6,58.6 511.2,59.9 512.8,58.6 514.4,58.0 516.0,57.5 517.6,57.9 519.2,58.5 520.8,58.2 522.4,58.4 524.0,57.8 525.6,58.7 527.2,58.7 528.8,58.6 530.4,58.3 532.0,58.7 533.6,59.3 535.2,59.1 536.8,58.7 538.4,58.5 540.0,57.3 541.6,56.7 543.2,56.1 544.8,57.3 546.4,58.7 548.0,59.2 549.6,58.9 551.2,58.8 552.8,58.7 554.4,59.1 556.0,58.8 557.6,58.3 559.2,58.1 560.8,58.0 562.4,58.1 564.0,57.4 565.6,56.7 567.2,57.9 568.8,59.4 570.4,60.4 572.0,60.4 573.6,58.7 575.2,59.1 576.8,59.3 578.4,60.7 580.0,59.5 581.6,59.1 583.2,58.2 584.8,59.2 586.4,58.3 588.0,58.4 589.6,57.6 591.2,58.1 592.8,58.0 594.4,58.9 596.0,59.0 597.6,59.3 599.2,58.7 600.8,58.1 602.4,57.9 604.0,58.3 605.6,58.5 607.2,58.6 608.8,58.2 610.4,58.1 612.0,57.6 613.6,56.7 615.2,57.0 616.8,57.6 618.4,58.1 620.0,58.7 621.6,57.9 623.2,58.8 624.8,58.0 626.4,58.7 628.0,58.8 629.6,59.1 631.2,58.9 632.8,57.9 634.4,56.8 636.0,56.9 637.6,58.2 639.2,59.2 640.8,59.1 642.4,58.4 644.0,58.3 645.6,59.2 647.2,58.6 648.8,58.7 650.4,57.9 652.0,57.9 653.6,57.1 655.2,57.6 656.8,58.1 658.4,58.5 660.0,57.9 661.6,58.2 663.2,58.3 664.8,59.1 666.4,58.5 668.0,58.0 669.6,57.2 671.2,56.8 672.8,57.0 674.4,57.7 676.0,59.0 677.6,59.4 679.2,58.9 680.8,57.6 682.4,56.8 684.0,56.9 685.6,57.4 687.2,57.6 688.8,57.2 690.4,57.9 692.0,58.7 693.6,58.9 695.2,58.2 696.8,58.4 698.4,58.5 700.0,58.5 701.6,57.1 703.2,56.1 704.8,55.1 706.4,54.7 708.0,55.5 709.6,56.6 711.2,57.3 712.8,57.5 714.4,57.5 716.0,57.9 717.6,57.0 719.2,57.5 720.8,58.1 722.4,58.4 724.0,58.4 725.6,57.4 727.2,57.1 728.8,55.8 729.2,54.9 731.0,57.3 733.0,58.7 735.0,60.7 737.0,62.4 739.0,64.0 741.0,65.5 743.0,66.7 745.0,68.5 747.0,70.0" stroke="#a31515"/>
<path d="M51.5,422.6 53.5,421.9 55.5,421.1 57.5,420.6 59.5,421.0 61.5,420.6 63.5,420.4 65.5,420.9 67.5,421.3 69.5,421.3 71.5,420.4 73.5,421.1 75.5,421.3 77.5,421.5 79.5,420.9 81.5,421.1 83.5,421.3 85.5,421.6 87.5,421.5 89.5,421.8 91.5,421.5 93.5,421.0 95.5,420.5 97.5,420.7 99.5,420.2 101.5,420.4 103.5,421.1 105.5,422.1 107.5,422.7 109.5,421.4 111.5,421.5 113.5,421.7 115.5,423.2 117.5,423.1 119.5,422.4 121.5,422.1 123.5,421.8 125.5,422.0 127.5,421.4 129.5,421.9 131.5,422.0 133.5,423.2 135.5,423.3 137.5,423.2 139.5,422.6 141.5,422.1 143.5,422.4 145.5,422.4 147.5,423.0 148.0,423.3 148.5,422.7 149.0,422.7 149.5,422.6 150.0,422.9 150.5,418.6 151.0,406.4 151.5,392.0 152.0,377.7 152.5,365.1 153.0,354.5 153.5,345.8 154.0,337.9 154.5,330.8 155.0,324.1 155.5,318.5 156.0,313.0 156.5,308.4 157.0,304.0 157.5,300.4 158.0,297.2 158.5,294.3 159.0,291.6 159.5,288.6 160.0,285.7 160.5,282.9 161.0,280.2 161.5,277.3 162.0,274.5 162.5,271.6 163.0,269.4 163.5,267.0 164.0,265.0 164.5,261.9 165.0,259.5 165.5,256.7 166.0,255.1 166.5,253.3 167.0,251.1 167.5,248.7 168.0,246.5 168.5,244.8 169.0,242.4 169.5,240.3 170.0,238.0 171.5,232.6 173.0,226.8 174.5,221.5 176.0,216.7 177.5,211.8 179.0,206.6 180.5,202.1 182.0,197.5 183.5,193.8 185.0,189.3 186.5,185.7 188.0,182.1 189.5,178.7 191.0,175.3 192.5,170.7 194.0,167.3 195.5,163.8 197.0,160.9 198.5,157.4 200.0,152.8 201.5,150.1 203.0,147.1 204.5,144.5 206.0,142.0 207.5,139.2 209.0,137.9 210.5,135.1 212.0,133.3 213.5,130.9 215.0,128.7 216.5,126.6 218.0,124.9 219.5,122.0 221.0,119.9 222.5,117.4 224.0,116.2 225.5,115.2 227.0,114.4 228.5,112.9 230.0,110.2 231.5,108.7 233.0,107.5 234.5,106.6 236.0,103.9 237.5,102.9 239.0,102.4 240.5,102.0 242.0,100.9 243.5,100.2 245.0,99.8 246.5,99.5 248.0,98.0 249.5,97.2 251.0,94.8 252.5,93.2 254.0,90.9 255.5,92.0 257.0,91.7 258.5,91.7 260.0,89.4 261.5,88.1 263.0,86.1 264.5,86.9 266.0,86.6 267.5,87.4 269.0,85.0 270.5,84.4 272.0,83.9 273.5,84.0 275.0,83.7 276.5,82.6 278.0,82.2 279.5,81.9 281.0,82.0 282.5,81.6 284.0,80.6 285.5,79.4 287.0,79.0 288.5,78.4 290.0,78.0 291.5,77.7 293.0,76.6 294.5,76.4 296.0,76.0 297.5,76.9 299.0,76.6 300.0,76.0 301.6,75.5 303.2,75.2 304.8,74.5 306.4,74.1 308.0,73.8 309.6,73.9 311.2,73.9 312.8,73.7 314.4,73.1 316.0,72.3 317.6,72.8 319.2,72.4 320.8,71.9 322.4,70.3 324.0,70.5 325.6,69.8 327.2,70.2 328.8,70.1 330.4,70.1 332.0,69.2 333.6,67.9 335.2,68.1 336.8,67.7 338.4,67.9 340.0,67.5 341.6,67.5 343.2,68.0 344.8,68.8 346.4,67.9 348.0,66.9 349.6,66.0 351.2,66.4 352.8,66.4 354.4,66.2 356.0,67.2 357.6,67.9 359.2,67.5 360.8,66.7 362.4,65.8 364.0,65.7 365.6,64.9 367.2,64.1 368.8,63.8 370.4,64.7 372.0,65.8 373.6,65.0 375.2,64.3 376.8,63.5 378.4,64.4 380.0,63.8 381.6,64.5 383.2,64.1 384.8,64.8 386.4,64.7 388.0,63.7 389.6,63.2 391.2,63.4 392.8,64.3 394.4,64.8 396.0,64.2 397.6,63.8 399.2,63.4 400.8,63.6 402.4,64.4 404.0,64.9 405.6,63.7 407.2,63.4 408.8,61.9 410.4,62.3 412.0,61.7 413.6,62.7 415.2,62.8 416.8,63.4 418.4,62.8 420.0,62.9 421.6,62.4 423.2,62.7 424.8,61.6 426.4,61.6 428.0,61.7 429.6,62.6 431.2,62.3 432.8,61.9 434.4,61.7 436.0,61.9 437.6,62.3 439.2,62.9 440.8,62.4 442.4,63.0 444.0,60.5 445.6,61.2 447.2,59.8 448.8,62.2 450.4,61.2 452.0,62.1 453.6,60.6 455.2,60.4 456.8,60.3 458.4,61.1 460.0,61.3 461.6,62.0 463.2,61.4 464.8,62.5 466.4,60.8 468.0,60.4 469.6,59.6 471.2,59.6 472.8,60.3 474.4,59.1 476.0,59.7 477.6,59.1 479.2,59.7 480.8,59.7 482.4,59.8 484.0,60.0 485.6,60.3 487.2,60.5 488.8,60.9 490.4,61.1 492.0,60.9 493.6,61.1 495.2,60.2 496.8,60.5 498.4,60.3 500.0,60.2 501.6,59.2 503.2,58.3 504.8,58.0 506.4,59.0 508.0,59.6 509.6,59.8 511.2,59.8 512.8,60.2 514.4,61.0 516.0,60.4 517.6,60.3 519.2,60.0 520.8,59.8 522.4,59.5 524.0,58.7 525.6,59.1 527.2,59.2 528.8,58.8 530.4,58.5 532.0,57.8 533.6,58.7 535.2,58.7 536.8,59.3 538.4,58.8 540.0,58.9 541.6,59.0 543.2,59.6 544.8,59.9 546.4,59.5 548.0,59.9 549.6,60.4 551.2,60.3 552.8,59.4 554.4,58.2 556.0,59.2 557.6,59.1 559.2,59.0 560.8,58.2 562.4,59.2 564.0,59.2 565.6,59.0 567.2,57.8 568.8,58.0 570.4,58.9 572.0,59.6 573.6,59.8 575.2,59.1 576.8,59.1 578.4,59.2 580.0,58.5 581.6,57.8 583.2,58.8 584.8,59.0 586.4,60.2 588.0,58.8 589.6,59.8 591.2,59.6 592.8,59.8 594.4,60.1 596.0,59.3 597.6,59.3 599.2,57.9 600.8,58.0 602.4,57.9 604.0,57.8 605.6,58.1 607.2,59.0 608.8,58.6 610.4,58.1 612.0,56.9 613.6,57.5 615.2,58.6 616.8,59.4 618.4,59.9 620.0,59.5 621.6,60.3 623.2,59.5 624.8,58.8 626.4,57.6 628.0,58.3 629.6,58.7 631.2,58.3 632.8,57.5 634.4,57.5 636.0,57.6 637.6,58.0 639.2,57.6 640.8,58.6 642.4,59.0 644.0,60.4 645.6,59.5 647.2,59.3 648.8,58.3 650.4,58.5 652.0,58.4 653.6,58.4 655.2,57.4 656.8,57.4 658.4,57.8 660.0,57.8 661.6,57.8 663.2,57.7 664.8,59.3 666.4,59.4 668.0,59.3 669.6,59.6 671.2,60.2 672.8,59.8 674.4,58.6 676.0,58.5 677.6,58.8 679.2,58.8 680.8,58.2 682.4,58.3 684.0,58.4 685.6,58.4 687.2,58.1 688.8,57.5 690.4,58.4 692.0,59.1 693.6,60.6 695.2,59.7 696.8,59.1 698.4,58.7 700.0,59.1 701.6,58.2 703.2,58.1 704.8,57.2 706.4,58.0 708.0,57.5 709.6,58.8 711.2,59.1 712.8,59.4 714.4,59.3 716.0,59.0 717.6,58.6 719.2,57.8 720.8,57.7 722.4,57.9 724.0,58.1 725.6,57.9 727.2,57.6 728.8,57.6 729.2,57.7 731.0,58.9 733.0,60.3 735.0,61.6 737.0,62.8 739.0,64.1 741.0,66.1 743.0,67.9 745.0,69.7 747.0,70.8" stroke="#a31515"/>
<path d="M51.5,423.2 53.5,423.2 55.5,422.9 57.5,423.2 59.5,422.8 61.5,423.4 63.5,423.3 65.5,422.9 67.5,422.3 69.5,422.9 71.5,423.2 73.5,424.3 75.5,424.1 77.5,424.3 79.5,424.2 81.5,424.1 83.5,424.6 85.5,424.6 87.5,424.9 89.5,424.3 91.5,424.0 93.5,423.6 95.5,423.9 97.5,424.3 99.5,425.0 101.5,425.2 103.5,425.0 105.5,425.1 107.5,425.0 109.5,425.1 111.5,424.6 113.5,424.4 115.5,424.0 117.5,423.9 119.5,424.0 121.5,424.1 123.5,424.1 125.5,424.2 127.5,424.3 129.5,423.7 131.5,423.8 133.5,424.6 135.5,425.6 137.5,426.0 139.5,425.5 141.5,425.6 143.5,425.0 145.5,424.9 147.5,424.8 148.0,424.5 148.5,424.7 149.0,424.6 149.5,425.7 150.0,425.2 150.5,419.8 151.0,406.9 151.5,391.7 152.0,377.0 152.5,364.0 153.0,354.0 153.5,345.8 154.0,338.2 154.5,331.5 155.0,325.3 155.5,319.3 156.0,313.4 156.5,308.3 157.0,304.3 157.5,300.7 158.0,297.6 158.5,294.6 159.0,291.8 159.5,288.8 160.0,285.4 160.5,282.8 161.0,279.7 161.5,277.2 162.0,274.8 162.5,272.6 163.0,270.1 163.5,267.4 164.0,265.2 164.5,263.0 165.0,260.8 165.5,258.0 166.0,255.6 166.5,252.9 167.0,250.8 167.5,248.6 168.0,246.9 168.5,245.0 169.0,243.1 169.5,240.7 170.0,237.9 171.5,231.9 173.0,226.5 174.5,222.2 176.0,216.4 177.5,210.6 179.0,205.6 180.5,201.7 182.0,198.1 183.5,193.6 185.0,190.1 186.5,185.4 188.0,181.5 189.5,177.9 191.0,175.2 192.5,171.5 194.0,167.8 195.5,164.5 197.0,161.2 198.5,158.1 200.0,155.2 201.5,152.6 203.0,149.8 204.5,146.1 206.0,143.8 207.5,140.6 209.0,138.2 210.5,135.1 212.0,133.4 213.5,131.3 215.0,129.2 216.5,126.2 218.0,124.1 219.5,122.7 221.0,122.3 222.5,121.5 224.0,119.5 225.5,117.2 227.0,114.8 228.5,112.7 230.0,110.3 231.5,109.8 233.0,108.5 234.5,107.4 236.0,105.1 237.5,104.1 239.0,103.0 240.5,102.2 242.0,101.0 243.5,100.9 245.0,99.2 246.5,98.3 248.0,96.3 249.5,95.8 251.0,95.5 252.5,95.3 254.0,94.4 255.5,93.0 257.0,91.9 258.5,91.9 260.0,90.6 261.5,90.1 263.0,88.8 264.5,88.3 266.0,87.4 267.5,86.5 269.0,85.9 270.5,85.8 272.0,85.3 273.5,84.4 275.0,83.6 276.5,82.9 278.0,83.0 279.5,82.7 281.0,81.4 282.5,80.2 284.0,78.8 285.5,79.9 287.0,80.2 288.5,79.7 290.0,78.5 291.5,77.6 293.0,77.6 294.5,77.8 296.0,78.0 297.5,78.1 299.0,77.9 300.0,77.6 301.6,76.9 303.2,75.8 304.8,74.6 306.4,74.7 308.0,75.0 309.6,75.5 311.2,74.6 312.8,73.7 314.4,73.0 316.0,73.5 317.6,73.5 319.2,73.2 320.8,71.9 322.4,71.7 324.0,71.6 325.6,71.3 327.2,71.6 328.8,70.7 330.4,71.4 332.0,70.2 333.6,70.5 335.2,69.4 336.8,69.0 338.4,69.0 340.0,69.1 341.6,69.0 343.2,68.9 344.8,69.2 346.4,69.2 348.0,68.7 349.6,69.0 351.2,68.7 352.8,68.6 354.4,67.8 356.0,67.0 357.6,65.7 359.2,65.4 360.8,66.4 362.4,67.2 364.0,66.8 365.6,65.9 367.2,66.0 368.8,66.0 370.4,65.4 372.0,65.2 373.6,65.3 375.2,66.2 376.8,66.2 378.4,66.6 380.0,66.6 381.6,65.9 383.2,64.1 384.8,63.9 386.4,63.8 388.0,65.3 389.6,65.7 391.2,65.9 392.8,65.8 394.4,65.0 396.0,64.7 397.6,63.5 399.2,63.3 400.8,63.3 402.4,64.2 404.0,63.9 405.6,64.1 407.2,64.6 408.8,64.2 410.4,63.6 412.0,62.4 413.6,63.5 415.2,64.5 416.8,65.0 418.4,64.4 420.0,63.0 421.6,62.3 423.2,62.2 424.8,62.7 426.4,62.2 428.0,62.9 429.6,62.4 431.2,63.1 432.8,62.4 434.4,62.1 436.0,61.8 437.6,61.6 439.2,62.0 440.8,62.3 442.4,62.0 444.0,63.3 445.6,63.4 447.2,63.1 448.8,60.7 450.4,60.7 452.0,61.2 453.6,62.4 455.2,61.2 456.8,60.4 458.4,59.4 460.0,61.1 461.6,62.5 463.2,63.1 464.8,62.7 466.4,61.0 468.0,61.6 469.6,61.0 471.2,61.4 472.8,60.8 474.4,59.9 476.0,60.3 477.6,61.1 479.2,62.1 480.8,62.2 482.4,62.1 484.0,60.7 485.6,61.5 487.2,60.9 488.8,61.1 490.4,59.9 492.0,59.6 493.6,60.2 495.2,60.5 496.8,59.7 498.4,60.2 500.0,60.9 501.6,61.5 503.2,61.6 504.8,61.3 506.4,62.3 508.0,62.3 509.6,61.0 511.2,60.8 512.8,59.5 514.4,61.3 516.0,60.5 517.6,60.4 519.2,59.7 520.8,60.5 522.4,61.1 524.0,60.6 525.6,60.6 527.2,61.4 528.8,60.9 530.4,60.3 532.0,59.2 533.6,59.5 535.2,59.7 536.8,59.4 538.4,59.5 540.0,58.9 541.6,59.4 543.2,59.1 544.8,59.6 546.4,60.4 548.0,61.3 549.6,62.0 551.2,62.0 552.8,61.0 554.4,61.2 556.0,60.4 557.6,60.6 559.2,60.0 560.8,59.4 562.4,59.0 564.0,58.7 565.6,59.6 567.2,59.8 568.8,59.4 570.4,58.7 572.0,58.7 573.6,58.5 575.2,58.5 576.8,58.5 578.4,59.1 580.0,59.3 581.6,58.4 583.2,58.5 584.8,59.3 586.4,59.9 588.0,59.6 589.6,58.0 591.2,58.7 592.8,58.3 594.4,59.8 596.0,59.0 597.6,59.5 599.2,59.0 600.8,58.4 602.4,59.9 604.0,59.2 605.6,60.1 607.2,58.3 608.8,59.0 610.4,59.6 612.0,59.1 613.6,59.1 615.2,58.7 616.8,59.6 618.4,59.9 620.0,59.3 621.6,58.4 623.2,57.5 624.8,57.7 626.4,58.9 628.0,59.5 629.6,60.5 631.2,60.2 632.8,60.2 634.4,59.5 636.0,58.6 637.6,58.8 639.2,58.2 640.8,58.8 642.4,59.7 644.0,59.6 645.6,59.8 647.2,58.8 648.8,59.5 650.4,59.4 652.0,59.0 653.6,59.9 655.2,58.9 656.8,58.7 658.4,58.4 660.0,59.7 661.6,59.8 663.2,58.6 664.8,58.2 666.4,59.9 668.0,60.6 669.6,60.2 671.2,59.0 672.8,58.4 674.4,59.7 676.0,59.7 677.6,60.6 679.2,59.9 680.8,60.8 682.4,60.4 684.0,60.4 685.6,58.9 687.2,58.5 688.8,58.5 690.4,58.8 692.0,60.2 693.6,60.0 695.2,59.9 696.8,59.1 698.4,58.9 700.0,59.4 701.6,58.9 703.2,58.8 704.8,59.3 706.4,59.3 708.0,60.2 709.6,59.4 711.2,58.6 712.8,57.5 714.4,57.4 716.0,58.0 717.6,58.6 719.2,59.1 720.8,58.6 722.4,58.5 724.0,57.3 725.6,57.3 727.2,58.2 728.8,59.3 729.2,59.5 731.0,59.6 733.0,61.2 735.0,63.0 737.0,64.5 739.0,65.8 741.0,67.1 743.0,68.3 745.0,70.0 747.0,71.4" stroke="#a31515"/>
<path d="M51.5,422.2 53.5,422.3 55.5,421.9 57.5,422.5 59.5,422.7 61.5,422.4 63.5,421.9 65.5,421.9 67.5,422.3 69.5,422.2 71.5,422.4 73.5,422.5 75.5,422.7 77.5,423.2 79.5,422.9 81.5,422.8 83.5,423.2 85.5,423.9 87.5,424.3 89.5,423.9 91.5,423.5 93.5,423.4 95.5,423.4 97.5,423.4 99.5,424.1 101.5,423.2 103.5,423.4 105.5,423.1 107.5,423.5 109.5,423.2 111.5,423.0 113.5,422.8 115.5,422.8 117.5,423.3 119.5,423.2 121.5,423.3 123.5,422.3 125.5,422.7 127.5,423.0 129.5,423.8 131.5,424.1 133.5,423.6 135.5,423.8 137.5,423.6 139.5,424.3 141.5,424.2 143.5,424.4 145.5,424.7 147.5,424.5 148.0,425.0 148.5,424.5 149.0,424.7 149.5,424.7 150.0,424.5 150.5,419.7 151.0,407.9 151.5,393.8 152.0,380.5 152.5,368.4 153.0,358.7 153.5,350.2 154.0,343.0 154.5,336.7 155.0,331.4 155.5,326.1 156.0,321.1 156.5,316.5 157.0,312.4 157.5,308.7 158.0,305.7 158.5,302.9 159.0,300.3 159.5,297.6 160.0,295.1 160.5,292.7 161.0,289.7 161.5,287.1 162.0,284.6 162.5,282.2 163.0,279.9 163.5,277.4 164.0,275.0 164.5,273.0 165.0,270.6 165.5,268.8 166.0,266.7 166.5,264.4 167.0,262.5 167.5,260.0 168.0,258.5 168.5,256.2 169.0,254.7 169.5,252.6 170.0,251.0 171.5,245.4 173.0,240.5 174.5,235.4 176.0,230.4 177.5,226.2 179.0,222.1 180.5,218.0 182.0,213.1 183.5,209.0 185.0,205.4 186.5,202.1 188.0,199.1 189.5,194.4 191.0,192.3 192.5,188.2 194.0,185.3 195.5,180.1 197.0,177.5 198.5,175.4 200.0,173.3 201.5,170.0 203.0,167.1 204.5,164.4 206.0,162.4 207.5,160.2 209.0,157.9 210.5,154.3 212.0,152.4 213.5,150.1 215.0,148.4 216.5,146.4 218.0,145.0 219.5,142.7 221.0,139.5 222.5,137.3 224.0,136.1 225.5,135.3 227.0,135.3 228.5,135.9 230.0,134.6 231.5,132.4 233.0,130.1 234.5,128.8 236.0,126.5 237.5,125.4 239.0,124.3 240.5,124.1 242.0,122.9 243.5,121.6 245.0,121.3 246.5,120.0 248.0,119.6 249.5,117.7 251.0,117.1 252.5,116.7 254.0,115.8 255.5,115.0 257.0,113.5 258.5,112.5 260.0,111.3 261.5,111.1 263.0,111.4 264.5,111.4 266.0,110.1 267.5,109.1 269.0,108.0 270.5,108.1 272.0,107.6 273.5,106.6 275.0,105.0 276.5,105.1 278.0,105.6 279.5,105.5 281.0,105.2 282.5,104.2 284.0,104.3 285.5,103.7 287.0,103.1 288.5,102.1 290.0,100.2 291.5,100.2 293.0,100.4 294.5,101.3 296.0,101.1 297.5,100.6 299.0,100.4 300.0,99.3 301.6,99.1 303.2,98.5 304.8,98.6 306.4,98.9 308.0,98.5 309.6,98.9 311.2,98.2 312.8,97.6 314.4,97.6 316.0,97.4 317.6,97.3 319.2,96.0 320.8,94.7 322.4,94.3 324.0,94.0 325.6,94.4 327.2,94.0 328.8,94.2 330.4,93.8 332.0,93.0 333.6,92.3 335.2,91.6 336.8,91.6 338.4,91.5 340.0,92.2 341.6,92.1 343.2,91.0 344.8,90.3 346.4,92.2 348.0,92.7 349.6,92.7 351.2,90.9 352.8,91.4 354.4,91.9 356.0,91.8 357.6,91.8 359.2,90.4 360.8,90.5 362.4,89.1 364.0,89.6 365.6,89.1 367.2,89.7 368.8,88.9 370.4,89.2 372.0,89.0 373.6,89.1 375.2,88.5 376.8,87.8 378.4,87.7 380.0,88.2 381.6,88.6 383.2,88.8 384.8,89.1 386.4,88.9 388.0,88.9 389.6,88.6 391.2,88.9 392.8,88.8 394.4,88.4 396.0,89.0 397.6,88.7 399.2,88.3 400.8,87.6 402.4,88.4 404.0,89.2 405.6,88.8 407.2,88.3 408.8,87.8 410.4,87.7 412.0,87.6 413.6,87.6 415.2,87.5 416.8,88.0 418.4,87.4 420.0,88.0 421.6,88.1 423.2,89.3 424.8,88.6 426.4,87.5 428.0,85.6 429.6,85.3 431.2,86.6 432.8,86.5 434.4,85.7 436.0,84.9 437.6,85.9 439.2,85.7 440.8,85.2 442.4,85.1 444.0,85.2 445.6,85.6 447.2,84.7 448.8,86.0 450.4,85.6 452.0,85.8 453.6,84.4 455.2,84.1 456.8,84.4 458.4,85.1 460.0,84.9 461.6,84.8 463.2,85.3 464.8,85.1 466.4,85.0 468.0,84.8 469.6,85.2 471.2,85.7 472.8,86.2 474.4,86.0 476.0,85.6 477.6,83.4 479.2,83.4 480.8,83.6 482.4,84.4 484.0,85.2 485.6,83.9 487.2,85.1 488.8,84.2 490.4,84.6 492.0,83.6 493.6,83.7 495.2,83.7 496.8,83.2 498.4,83.1 500.0,84.0 501.6,84.9 503.2,85.8 504.8,85.0 506.4,84.6 508.0,83.7 509.6,84.1 511.2,84.5 512.8,85.5 514.4,85.7 516.0,85.6 517.6,85.3 519.2,84.6 520.8,83.8 522.4,83.5 524.0,83.9 525.6,84.6 527.2,84.7 528.8,84.5 530.4,84.3 532.0,84.0 533.6,84.5 535.2,85.0 536.8,84.9 538.4,84.7 540.0,83.0 541.6,83.5 543.2,82.6 544.8,83.7 546.4,84.4 548.0,85.0 549.6,84.2 551.2,83.7 552.8,83.6 554.4,84.3 556.0,83.4 557.6,84.0 559.2,84.5 560.8,84.5 562.4,84.6 564.0,83.8 565.6,84.2 567.2,83.3 568.8,84.1 570.4,83.4 572.0,83.5 573.6,83.9 575.2,83.6 576.8,83.2 578.4,82.8 580.0,83.2 581.6,83.6 583.2,83.2 584.8,84.4 586.4,84.0 588.0,84.0 589.6,83.0 591.2,83.0 592.8,83.1 594.4,83.3 596.0,83.3 597.6,83.9 599.2,83.0 600.8,83.4 602.4,83.0 604.0,85.1 605.6,84.3 607.2,84.3 608.8,84.0 610.4,84.5 612.0,84.9 613.6,83.8 615.2,83.3 616.8,83.0 618.4,82.4 620.0,83.2 621.6,82.2 623.2,83.0 624.8,81.8 626.4,82.4 628.0,82.7 629.6,84.1 631.2,84.0 632.8,83.3 634.4,82.8 636.0,84.3 637.6,84.4 639.2,84.6 640.8,82.9 642.4,82.7 644.0,83.0 645.6,83.0 647.2,82.9 648.8,82.3 650.4,82.4 652.0,82.9 653.6,82.9 655.2,83.0 656.8,82.5 658.4,83.3 660.0,83.5 661.6,83.7 663.2,83.2 664.8,83.1 666.4,82.5 668.0,82.3 669.6,83.1 671.2,84.1 672.8,84.8 674.4,83.6 676.0,82.6 677.6,81.7 679.2,82.7 680.8,82.9 682.4,82.9 684.0,82.8 685.6,83.1 687.2,83.4 688.8,83.0 690.4,83.2 692.0,83.1 693.6,83.1 695.2,82.7 696.8,82.8 698.4,83.0 700.0,82.8 701.6,82.7 703.2,81.8 704.8,82.7 706.4,83.1 708.0,84.1 709.6,84.3 711.2,84.5 712.8,84.3 714.4,83.4 716.0,83.4 717.6,82.6 719.2,84.1 720.8,83.8 722.4,84.3 724.0,82.3 725.6,82.4 727.2,82.5 728.8,82.2 729.2,81.4 731.0,82.8 733.0,84.5 735.0,86.4 737.0,88.4 739.0,89.9 741.0,91.4 743.0,92.6 745.0,94.6 747.0,95.5" stroke="#17a0e6"/>
<path d="M51.5,422.8 53.5,422.2 55.5,422.0 57.5,422.6 59.5,422.9 61.5,422.7 63.5,423.5 65.5,423.0 67.5,423.2 69.5,422.3 71.5,422.5 73.5,422.6 75.5,422.3 77.5,422.2 79.5,422.4 81.5,422.2 83.5,422.5 85.5,422.8 87.5,422.9 89.5,423.4 91.5,423.4 93.5,424.2 95.5,424.2 97.5,423.7 99.5,422.9 101.5,422.9 103.5,423.1 105.5,423.5 107.5,423.1 109.5,423.3 111.5,423.2 113.5,423.7 115.5,423.3 117.5,423.1 119.5,423.6 121.5,424.0 123.5,424.8 125.5,423.8 127.5,423.6 129.5,423.5 131.5,423.8 133.5,424.4 135.5,423.7 137.5,424.2 139.5,423.0 141.5,423.2 143.5,422.6 145.5,423.5 147.5,423.8 148.0,424.0 148.5,423.5 149.0,423.3 149.5,423.2 150.0,423.9 150.5,419.2 151.0,407.7 151.5,393.5 152.0,380.2 152.5,368.5 153.0,359.2 153.5,351.2 154.0,343.8 154.5,337.4 155.0,331.6 155.5,326.1 156.0,321.1 156.5,316.1 157.0,312.4 157.5,308.8 158.0,306.3 158.5,303.7 159.0,301.0 159.5,298.3 160.0,295.4 160.5,293.2 161.0,290.4 161.5,287.9 162.0,285.3 162.5,283.1 163.0,280.5 163.5,278.4 164.0,275.9 164.5,273.9 165.0,271.6 165.5,269.6 166.0,267.7 166.5,266.1 167.0,263.7 167.5,261.1 168.0,258.7 168.5,256.8 169.0,255.2 169.5,253.8 170.0,252.6 171.5,247.5 173.0,241.6 174.5,236.3 176.0,231.2 177.5,227.3 179.0,222.8 180.5,219.0 182.0,214.9 183.5,210.7 185.0,207.1 186.5,203.7 188.0,201.0 189.5,195.7 191.0,191.6 192.5,187.0 194.0,185.7 195.5,183.1 197.0,180.7 198.5,176.7 200.0,173.6 201.5,170.7 203.0,168.7 204.5,166.0 206.0,163.2 207.5,161.6 209.0,158.4 210.5,156.8 212.0,153.9 213.5,152.4 215.0,149.9 216.5,147.9 218.0,147.0 219.5,144.5 221.0,143.2 222.5,140.5 224.0,139.4 225.5,137.8 227.0,136.7 228.5,135.4 230.0,133.4 231.5,132.6 233.0,130.8 234.5,129.5 236.0,127.7 237.5,126.8 239.0,125.7 240.5,125.0 242.0,124.0 243.5,123.7 245.0,121.6 246.5,120.1 248.0,118.7 249.5,118.1 251.0,117.8 252.5,117.4 254.0,117.7 255.5,117.7 257.0,117.0 258.5,115.4 260.0,114.3 261.5,112.9 263.0,112.9 264.5,111.5 266.0,111.8 267.5,111.1 269.0,110.9 270.5,109.0 272.0,108.3 273.5,107.7 275.0,108.0 276.5,107.0 278.0,106.4 279.5,106.1 281.0,106.7 282.5,105.9 284.0,105.1 285.5,104.1 287.0,104.2 288.5,103.7 290.0,104.2 291.5,103.4 293.0,103.4 294.5,101.8 296.0,101.8 297.5,100.1 299.0,100.4 300.0,100.2 301.6,100.5 303.2,100.5 304.8,100.1 306.4,100.0 308.0,98.4 309.6,98.8 311.2,98.8 312.8,98.7 314.4,97.3 316.0,96.5 317.6,96.6 319.2,97.0 320.8,96.1 322.4,95.3 324.0,95.2 325.6,97.2 327.2,97.1 328.8,95.6 330.4,94.5 332.0,94.4 333.6,94.6 335.2,94.3 336.8,94.2 338.4,94.2 340.0,93.1 341.6,92.9 343.2,93.2 344.8,92.8 346.4,93.2 348.0,92.4 349.6,93.7 351.2,93.3 352.8,93.6 354.4,92.9 356.0,92.3 357.6,92.2 359.2,92.7 360.8,92.6 362.4,92.9 364.0,91.5 365.6,91.6 367.2,91.6 368.8,91.3 370.4,91.3 372.0,89.7 373.6,89.6 375.2,89.1 376.8,90.5 378.4,91.3 380.0,90.9 381.6,90.3 383.2,89.9 384.8,89.5 386.4,89.7 388.0,90.2 389.6,91.4 391.2,90.8 392.8,89.9 394.4,88.7 396.0,88.7 397.6,88.7 399.2,89.4 400.8,89.6 402.4,89.2 404.0,89.1 405.6,89.5 407.2,89.5 408.8,88.9 410.4,88.4 412.0,87.8 413.6,87.9 415.2,88.2 416.8,89.9 418.4,89.9 420.0,89.3 421.6,88.2 423.2,88.4 424.8,88.8 426.4,88.4 428.0,88.2 429.6,88.0 431.2,87.4 432.8,87.9 434.4,87.5 436.0,88.8 437.6,88.1 439.2,88.0 440.8,87.5 442.4,87.6 444.0,88.1 445.6,88.0 447.2,87.2 448.8,86.4 450.4,86.0 452.0,86.9 453.6,86.7 455.2,87.9 456.8,87.6 458.4,87.9 460.0,87.8 461.6,87.5 463.2,87.4 464.8,87.1 466.4,87.6 468.0,87.2 469.6,88.0 471.2,87.9 472.8,87.7 474.4,86.4 476.0,86.5 477.6,87.2 479.2,87.7 480.8,88.4 482.4,88.7 484.0,89.2 485.6,88.4 487.2,87.5 488.8,87.3 490.4,86.6 492.0,87.3 493.6,86.9 495.2,86.8 496.8,86.0 498.4,85.5 500.0,86.1 501.6,87.1 503.2,87.2 504.8,87.9 506.4,87.7 508.0,87.3 509.6,86.0 511.2,85.6 512.8,85.7 514.4,85.9 516.0,86.2 517.6,86.6 519.2,87.1 520.8,86.4 522.4,85.8 524.0,84.6 525.6,84.1 527.2,84.2 528.8,84.9 530.4,85.7 532.0,85.9 533.6,86.9 535.2,86.4 536.8,86.3 538.4,85.0 540.0,85.1 541.6,85.9 543.2,86.1 544.8,87.1 546.4,85.9 548.0,86.8 549.6,87.3 551.2,87.4 552.8,86.5 554.4,85.3 556.0,86.0 557.6,85.3 559.2,85.6 560.8,85.7 562.4,86.0 564.0,84.6 565.6,83.9 567.2,84.0 568.8,85.5 570.4,85.5 572.0,85.1 573.6,85.1 575.2,85.5 576.8,86.4 578.4,86.2 580.0,86.5 581.6,86.4 583.2,85.5 584.8,85.0 586.4,85.1 588.0,86.0 589.6,86.6 591.2,86.0 592.8,86.3 594.4,85.0 596.0,85.2 597.6,84.6 599.2,84.7 600.8,84.1 602.4,84.4 604.0,85.1 605.6,85.4 607.2,84.7 608.8,84.1 610.4,84.7 612.0,84.7 613.6,85.7 615.2,84.5 616.8,85.2 618.4,85.0 620.0,86.4 621.6,86.1 623.2,85.4 624.8,84.0 626.4,84.7 628.0,85.0 629.6,85.5 631.2,84.8 632.8,85.0 634.4,85.2 636.0,86.0 637.6,84.8 639.2,85.2 640.8,84.4 642.4,85.4 644.0,84.8 645.6,85.0 647.2,85.4 648.8,85.7 650.4,85.0 652.0,84.6 653.6,84.4 655.2,85.3 656.8,85.3 658.4,85.3 660.0,85.7 661.6,85.1 663.2,86.2 664.8,85.4 666.4,85.4 668.0,84.7 669.6,85.5 671.2,86.7 672.8,87.0 674.4,86.7 676.0,86.1 677.6,85.6 679.2,85.3 680.8,85.0 682.4,85.6 684.0,86.5 685.6,86.8 687.2,85.9 688.8,84.7 690.4,83.9 692.0,83.7 693.6,83.6 695.2,84.4 696.8,84.3 698.4,83.6 700.0,83.9 701.6,85.3 703.2,85.1 704.8,84.7 706.4,84.3 708.0,84.8 709.6,84.1 711.2,83.7 712.8,84.2 714.4,84.6 716.0,85.3 717.6,86.2 719.2,86.8 720.8,86.0 722.4,84.9 724.0,84.8 725.6,84.4 727.2,85.1 728.8,85.1 729.2,84.9 731.0,85.5 733.0,87.1 735.0,88.9 737.0,90.2 739.0,91.4 741.0,92.8 743.0,94.6 745.0,96.2 747.0,97.7" stroke="#17a0e6"/>
</g>
</defs>
<rect x="0" y="0" width="768" height="534" fill="#fff"/>
<!-- highlighted time windows -->
<rect x="122.5" y="10" width="27.6" height="458" fill="#9999ff"/>
<rect x="260" y="10" width="27.3" height="458" fill="#ff9999"/>
<!-- traces -->
<g clip-path="url(#cpMain)"><use href="#curves"/></g>
<g clip-path="url(#cpSeg)"><use href="#curves" transform="translate(18,0)"/></g>
<!-- plot frame -->
<g fill="none" stroke-linecap="butt">
<path d="M51.1 9.4H748.3" stroke="#555" stroke-width="0.9"/>
<path d="M747.7 9H747.7V469" stroke="#333" stroke-width="1.3"/>
<path d="M51.1 468.2H748.3" stroke="#333" stroke-width="1.5"/>
<path d="M51.8 9V469" stroke="#1a1a1a" stroke-width="1.45"/>
<path d="M750 9.8H765.8V468.3H750" stroke="#000" stroke-width="1.9"/>
</g>
<!-- ticks -->
<g stroke="#2a2a2a" stroke-width="1.3" fill="none">
<path d="M149.9 468V477.2M287 468V477.2M424 468V477.2M561.1 468V477.2M698.1 468V477.2"/>
<path d="M44.2 12.1H51.5M44.2 94H51.5M44.2 175.8H51.5M44.2 257.7H51.5M44.2 340.1H51.5M44.2 422.2H51.5" stroke-width="1.25"/>
</g>
<!-- tick labels -->
<g class="tick">
<text x="35" y="17.9">1.</text>
<text x="35" y="99.9">1.</text>
<text x="36.2" y="182">1</text>
<text x="36.2" y="263">1</text>
<text x="35" y="346">1.</text>
<text x="35.4" y="428.2">1.</text>
<text x="164.3" y="497">0</text>
<text x="302" y="497">5</text>
<text x="436.2" y="497" letter-spacing="-1.9">10</text>
<text x="573.3" y="497" letter-spacing="-1.9">15</text>
<text x="709" y="497" letter-spacing="-0.6">20</text>
</g>
<!-- axis titles belonging to the plot image (partly masked) -->
<g clip-path="url(#cpYl)"><text class="lbl" transform="translate(24.3,368.4) rotate(-90)">Relative Fluorescence (-)</text></g>
<g clip-path="url(#cpXl)"><text class="lbl" transform="translate(325.7,518.3)">MST experiment ti<tspan dx="0.6">me (s</tspan><tspan dx="1">)</tspan></text></g>
<!-- unpositioned overlay labels -->
<g font-size="11.2" fill="#000" stroke="#000" stroke-width="0.35">
<text x="0" y="3.3">1.00</text><text x="0" y="3.3">1.05</text><text x="0" y="3.3">1.10</text><text x="0" y="3.3">1.15</text><text x="0" y="3.3">1.20</text><text x="0" y="3.3">1.25</text>
<text x="0" y="9">1.00</text><text x="0" y="9">1.05</text><text x="0" y="9">1.10</text><text x="0" y="9">1.15</text><text x="0" y="9">1.20</text><text x="0" y="9">1.25</text>
<text x="0" y="9">-5</text><text x="0" y="9">0</text><text x="0" y="9">5</text><text x="0" y="9">10</text><text x="0" y="9">15</text><text x="0" y="9">20</text>
</g>
<text class="lbl" transform="translate(0,14)"><tspan x="0.35">MS</tspan><tspan x="29.75">T</tspan> <tspan x="47.85">experiment</tspan> <tspan x="157.55">time</tspan> <tspan x="203.2">(s)</tspan></text>
<text class="lbl" transform="translate(15,232.4) rotate(-90)">Relative Fluorescence <tspan dx="1">(-)</tspan></text>
</svg>
</body>
</html>
